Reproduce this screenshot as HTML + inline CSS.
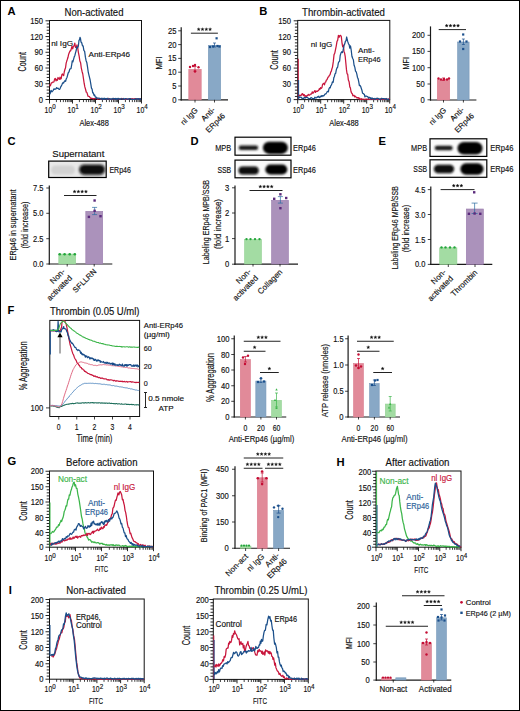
<!DOCTYPE html>
<html><head><meta charset="utf-8"><style>
html,body{margin:0;padding:0;background:#fff;}
svg{display:block;}
text{font-family:"Liberation Sans", sans-serif;}
</style></head><body>
<svg width="520" height="711" viewBox="0 0 520 711">
<defs><filter id="bl" x="-30%" y="-60%" width="160%" height="220%"><feGaussianBlur stdDeviation="0.9"/></filter></defs>
<rect x="0" y="0" width="520" height="711" fill="#fff"/>
<text x="7.5" y="14.9" font-size="11.2" text-anchor="start" fill="#000" font-weight="bold">A</text>
<text x="64.5" y="15.8" font-size="10.3" text-anchor="start" fill="#111" stroke="#111" stroke-width="0.15" textLength="59" lengthAdjust="spacingAndGlyphs">Non-activated</text>
<rect x="49.5" y="20.5" width="92" height="79" fill="none" stroke="#111" stroke-width="1"/>
<line x1="45.5" y1="20.8" x2="49.5" y2="20.8" stroke="#111" stroke-width="0.9"/>
<text x="42.9" y="23.85" font-size="8.2" text-anchor="end" fill="#111" stroke="#111" stroke-width="0.15" textLength="12.75" lengthAdjust="spacingAndGlyphs">150</text>
<line x1="46.7" y1="23.95" x2="49.5" y2="23.95" stroke="#111" stroke-width="0.9"/>
<line x1="46.7" y1="27.1" x2="49.5" y2="27.1" stroke="#111" stroke-width="0.9"/>
<line x1="46.7" y1="30.24" x2="49.5" y2="30.24" stroke="#111" stroke-width="0.9"/>
<line x1="46.7" y1="33.39" x2="49.5" y2="33.39" stroke="#111" stroke-width="0.9"/>
<line x1="45.5" y1="36.54" x2="49.5" y2="36.54" stroke="#111" stroke-width="0.9"/>
<text x="42.9" y="39.59" font-size="8.2" text-anchor="end" fill="#111" stroke="#111" stroke-width="0.15" textLength="12.75" lengthAdjust="spacingAndGlyphs">120</text>
<line x1="46.7" y1="39.69" x2="49.5" y2="39.69" stroke="#111" stroke-width="0.9"/>
<line x1="46.7" y1="42.84" x2="49.5" y2="42.84" stroke="#111" stroke-width="0.9"/>
<line x1="46.7" y1="45.98" x2="49.5" y2="45.98" stroke="#111" stroke-width="0.9"/>
<line x1="46.7" y1="49.13" x2="49.5" y2="49.13" stroke="#111" stroke-width="0.9"/>
<line x1="45.5" y1="52.28" x2="49.5" y2="52.28" stroke="#111" stroke-width="0.9"/>
<text x="42.9" y="55.33" font-size="8.2" text-anchor="end" fill="#111" stroke="#111" stroke-width="0.15" textLength="8.5" lengthAdjust="spacingAndGlyphs">90</text>
<line x1="46.7" y1="55.43" x2="49.5" y2="55.43" stroke="#111" stroke-width="0.9"/>
<line x1="46.7" y1="58.58" x2="49.5" y2="58.58" stroke="#111" stroke-width="0.9"/>
<line x1="46.7" y1="61.72" x2="49.5" y2="61.72" stroke="#111" stroke-width="0.9"/>
<line x1="46.7" y1="64.87" x2="49.5" y2="64.87" stroke="#111" stroke-width="0.9"/>
<line x1="45.5" y1="68.02" x2="49.5" y2="68.02" stroke="#111" stroke-width="0.9"/>
<text x="42.9" y="71.07" font-size="8.2" text-anchor="end" fill="#111" stroke="#111" stroke-width="0.15" textLength="8.5" lengthAdjust="spacingAndGlyphs">60</text>
<line x1="46.7" y1="71.17" x2="49.5" y2="71.17" stroke="#111" stroke-width="0.9"/>
<line x1="46.7" y1="74.32" x2="49.5" y2="74.32" stroke="#111" stroke-width="0.9"/>
<line x1="46.7" y1="77.46" x2="49.5" y2="77.46" stroke="#111" stroke-width="0.9"/>
<line x1="46.7" y1="80.61" x2="49.5" y2="80.61" stroke="#111" stroke-width="0.9"/>
<line x1="45.5" y1="83.76" x2="49.5" y2="83.76" stroke="#111" stroke-width="0.9"/>
<text x="42.9" y="86.81" font-size="8.2" text-anchor="end" fill="#111" stroke="#111" stroke-width="0.15" textLength="8.5" lengthAdjust="spacingAndGlyphs">30</text>
<line x1="46.7" y1="86.91" x2="49.5" y2="86.91" stroke="#111" stroke-width="0.9"/>
<line x1="46.7" y1="90.06" x2="49.5" y2="90.06" stroke="#111" stroke-width="0.9"/>
<line x1="46.7" y1="93.2" x2="49.5" y2="93.2" stroke="#111" stroke-width="0.9"/>
<line x1="46.7" y1="96.35" x2="49.5" y2="96.35" stroke="#111" stroke-width="0.9"/>
<line x1="45.5" y1="99.5" x2="49.5" y2="99.5" stroke="#111" stroke-width="0.9"/>
<text x="42.9" y="102.55" font-size="8.2" text-anchor="end" fill="#111" stroke="#111" stroke-width="0.15" textLength="4.25" lengthAdjust="spacingAndGlyphs">0</text>
<line x1="49.5" y1="99.5" x2="49.5" y2="103.5" stroke="#111" stroke-width="0.9"/>
<line x1="56.42" y1="99.5" x2="56.42" y2="102.1" stroke="#111" stroke-width="0.8"/>
<line x1="60.47" y1="99.5" x2="60.47" y2="102.1" stroke="#111" stroke-width="0.8"/>
<line x1="63.35" y1="99.5" x2="63.35" y2="102.1" stroke="#111" stroke-width="0.8"/>
<line x1="65.58" y1="99.5" x2="65.58" y2="102.1" stroke="#111" stroke-width="0.8"/>
<line x1="67.4" y1="99.5" x2="67.4" y2="102.1" stroke="#111" stroke-width="0.8"/>
<line x1="68.94" y1="99.5" x2="68.94" y2="102.1" stroke="#111" stroke-width="0.8"/>
<line x1="70.27" y1="99.5" x2="70.27" y2="102.1" stroke="#111" stroke-width="0.8"/>
<line x1="71.45" y1="99.5" x2="71.45" y2="102.1" stroke="#111" stroke-width="0.8"/>
<line x1="72.5" y1="99.5" x2="72.5" y2="103.5" stroke="#111" stroke-width="0.9"/>
<line x1="79.42" y1="99.5" x2="79.42" y2="102.1" stroke="#111" stroke-width="0.8"/>
<line x1="83.47" y1="99.5" x2="83.47" y2="102.1" stroke="#111" stroke-width="0.8"/>
<line x1="86.35" y1="99.5" x2="86.35" y2="102.1" stroke="#111" stroke-width="0.8"/>
<line x1="88.58" y1="99.5" x2="88.58" y2="102.1" stroke="#111" stroke-width="0.8"/>
<line x1="90.4" y1="99.5" x2="90.4" y2="102.1" stroke="#111" stroke-width="0.8"/>
<line x1="91.94" y1="99.5" x2="91.94" y2="102.1" stroke="#111" stroke-width="0.8"/>
<line x1="93.27" y1="99.5" x2="93.27" y2="102.1" stroke="#111" stroke-width="0.8"/>
<line x1="94.45" y1="99.5" x2="94.45" y2="102.1" stroke="#111" stroke-width="0.8"/>
<line x1="95.5" y1="99.5" x2="95.5" y2="103.5" stroke="#111" stroke-width="0.9"/>
<line x1="102.42" y1="99.5" x2="102.42" y2="102.1" stroke="#111" stroke-width="0.8"/>
<line x1="106.47" y1="99.5" x2="106.47" y2="102.1" stroke="#111" stroke-width="0.8"/>
<line x1="109.35" y1="99.5" x2="109.35" y2="102.1" stroke="#111" stroke-width="0.8"/>
<line x1="111.58" y1="99.5" x2="111.58" y2="102.1" stroke="#111" stroke-width="0.8"/>
<line x1="113.4" y1="99.5" x2="113.4" y2="102.1" stroke="#111" stroke-width="0.8"/>
<line x1="114.94" y1="99.5" x2="114.94" y2="102.1" stroke="#111" stroke-width="0.8"/>
<line x1="116.27" y1="99.5" x2="116.27" y2="102.1" stroke="#111" stroke-width="0.8"/>
<line x1="117.45" y1="99.5" x2="117.45" y2="102.1" stroke="#111" stroke-width="0.8"/>
<line x1="118.5" y1="99.5" x2="118.5" y2="103.5" stroke="#111" stroke-width="0.9"/>
<line x1="125.42" y1="99.5" x2="125.42" y2="102.1" stroke="#111" stroke-width="0.8"/>
<line x1="129.47" y1="99.5" x2="129.47" y2="102.1" stroke="#111" stroke-width="0.8"/>
<line x1="132.35" y1="99.5" x2="132.35" y2="102.1" stroke="#111" stroke-width="0.8"/>
<line x1="134.58" y1="99.5" x2="134.58" y2="102.1" stroke="#111" stroke-width="0.8"/>
<line x1="136.4" y1="99.5" x2="136.4" y2="102.1" stroke="#111" stroke-width="0.8"/>
<line x1="137.94" y1="99.5" x2="137.94" y2="102.1" stroke="#111" stroke-width="0.8"/>
<line x1="139.27" y1="99.5" x2="139.27" y2="102.1" stroke="#111" stroke-width="0.8"/>
<line x1="140.45" y1="99.5" x2="140.45" y2="102.1" stroke="#111" stroke-width="0.8"/>
<line x1="141.5" y1="99.5" x2="141.5" y2="103.5" stroke="#111" stroke-width="0.9"/>
<text x="44.6" y="112.5" font-size="8.2" text-anchor="start" fill="#111" stroke="#111" stroke-width="0.15" textLength="7.6" lengthAdjust="spacingAndGlyphs">10</text>
<text x="52.3" y="109.4" font-size="6.3" text-anchor="start" fill="#111" stroke="#111" stroke-width="0.15" textLength="3.5" lengthAdjust="spacingAndGlyphs">0</text>
<text x="67.6" y="112.5" font-size="8.2" text-anchor="start" fill="#111" stroke="#111" stroke-width="0.15" textLength="7.6" lengthAdjust="spacingAndGlyphs">10</text>
<text x="75.3" y="109.4" font-size="6.3" text-anchor="start" fill="#111" stroke="#111" stroke-width="0.15" textLength="3.5" lengthAdjust="spacingAndGlyphs">1</text>
<text x="90.6" y="112.5" font-size="8.2" text-anchor="start" fill="#111" stroke="#111" stroke-width="0.15" textLength="7.6" lengthAdjust="spacingAndGlyphs">10</text>
<text x="98.3" y="109.4" font-size="6.3" text-anchor="start" fill="#111" stroke="#111" stroke-width="0.15" textLength="3.5" lengthAdjust="spacingAndGlyphs">2</text>
<text x="113.6" y="112.5" font-size="8.2" text-anchor="start" fill="#111" stroke="#111" stroke-width="0.15" textLength="7.6" lengthAdjust="spacingAndGlyphs">10</text>
<text x="121.3" y="109.4" font-size="6.3" text-anchor="start" fill="#111" stroke="#111" stroke-width="0.15" textLength="3.5" lengthAdjust="spacingAndGlyphs">3</text>
<text x="136.6" y="112.5" font-size="8.2" text-anchor="start" fill="#111" stroke="#111" stroke-width="0.15" textLength="7.6" lengthAdjust="spacingAndGlyphs">10</text>
<text x="144.3" y="109.4" font-size="6.3" text-anchor="start" fill="#111" stroke="#111" stroke-width="0.15" textLength="3.5" lengthAdjust="spacingAndGlyphs">4</text>
<text x="26.3" y="61.75" font-size="10" text-anchor="middle" fill="#111" stroke="#111" stroke-width="0.15" transform="rotate(-90 26.3 61.75)" textLength="19.7" lengthAdjust="spacingAndGlyphs">Count</text>
<text x="94.2" y="125.5" font-size="8.8" text-anchor="middle" fill="#111" stroke="#111" stroke-width="0.15" textLength="29.4" lengthAdjust="spacingAndGlyphs">Alex-488</text>
<polyline points="49.8,84.06 50.17,85.9 50.66,85.11 51.25,82.84 51.9,82.9 52.59,82.03 53.29,82.02 53.97,81.87 54.6,79.01 55.29,78.38 55.97,80.92 56.66,79.35 57.34,80.35 58.03,77.5 58.71,78.76 59.4,79.28 60.01,77.06 60.62,79.15 61.24,78.49 61.86,74.72 62.47,73.99 63.07,75.07 63.65,75.58 64.2,72.24 64.89,69.48 65.54,67.71 66.16,63.18 66.76,61.07 67.37,59.31 68,57.28 68.66,54.18 69.33,52.48 70.01,50.94 70.67,50.77 71.31,48.76 71.9,46.35 72.7,48.89 73.41,46.25 74.1,45.84 74.8,43.21 75.52,47.47 76.25,47.43 76.97,44.92 77.7,47.88 78.42,52.58 79.15,56.11 79.87,61.06 80.6,62.66 81.33,68.21 82.06,71.47 82.78,74 83.5,78.81 84.18,83.47 84.84,86.92 85.53,89.24 86.3,92.23 86.85,92.34 87.41,94.07 88,96.25 88.64,96.26 89.37,96.49 90.2,97.79 90.69,98.32 91.18,98.48 91.68,98.16 92.2,98.38 92.75,98.57 93.33,99.04 93.95,98.69 94.62,98.53 95.35,98.7 96.14,98.05 97,98.13 97.47,99.12 97.92,99.3 98.37,99.01 98.82,98.74 99.28,98.44 99.74,98.93 100.21,99.3 100.69,99.3 101.19,99 101.72,99.3 102.27,98.58 102.84,98.98 103.46,99.3 104.1,99.07 104.79,98.91 105.53,98.65 106.31,99.04 107.14,99.3 108.03,98.3 108.99,99.3 110,99.3 110.44,99.3 110.91,99.3 111.41,99.3 111.92,99.04 112.46,99.1 113.01,98.92 113.59,98.42 114.18,99.3 114.79,99.13 115.42,98.64 116.06,99.05 116.71,99.03 117.38,98.86 118.06,98.85 118.75,99.12 119.44,99.23 120.15,99.22 120.86,99.02 121.58,98.45 122.3,98.73 123.03,98.66 123.76,99.21 124.49,99.3 125.22,99.3 125.95,99.3 126.68,99.3 127.4,98.8 128.12,99.3 128.84,99.3 129.55,98.59 130.25,98.51 130.94,98.51 131.62,99.3 132.3,98.82 132.96,98.65 133.6,99.3 134.24,98.96 134.86,98.61 135.46,98.73 136.04,99.21 136.61,98.75 137.15,98.89 137.68,99.3 138.18,99.13 138.66,98.96 139.12,99.16 139.55,98.59 139.95,99.05 140.33,99.1 140.68,98.81 141,98.71" fill="none" stroke="#c8163c" stroke-width="1.25" stroke-linejoin="round" opacity="1"/>
<polyline points="49.8,94.02 50.17,93.69 50.66,91.01 51.25,90.53 51.9,91.9 52.59,91.06 53.29,90.33 53.97,88.84 54.6,89.3 55.29,89.05 55.97,88.87 56.66,87.64 57.34,88.41 58.03,88.24 58.71,89 59.4,89.43 60,88.86 60.6,87.13 61.2,86.21 61.8,84.98 62.4,83.48 63,82.6 63.6,83.12 64.2,81.7 64.89,80.75 65.6,81.28 66.3,78.7 67.01,77.44 67.69,74.79 68.36,72.46 69,72.02 69.7,69.34 70.37,68.79 71.01,68.71 71.64,65.22 72.27,60.93 72.9,61.95 73.56,59.39 74.23,56.87 74.9,55.45 75.55,52.63 76.15,50.81 76.7,46.97 77.63,47.73 78.39,46.02 79,40.25 79.58,39.73 80,37.36 80.47,38.42 81,42.16 81.63,42.49 82.5,45.97 83.13,45.93 83.86,50.38 84.64,51.3 85.4,57.18 86.1,60.7 86.79,62.46 87.51,66.88 88.3,72.47 88.88,74.78 89.5,77.33 90.14,80 90.79,83.83 91.45,88.07 92.1,89.09 92.73,92.93 93.36,92.78 93.99,95.36 94.63,94.87 95.3,96.94 96,97.1 96.33,97.25 96.27,97.69 96.14,98.22 96.22,98.34 96.82,98.07 98.25,98.08 100.8,98.72 101.15,99.3 101.52,98.92 101.92,98.13 102.33,99.24 102.77,99.12 103.23,99.3 103.71,98.37 104.21,99.19 104.73,98.21 105.27,99.08 105.82,98.55 106.39,98.5 106.98,99.3 107.58,98.35 108.19,98.95 108.82,99.3 109.46,98.59 110.12,98.55 110.78,99.3 111.46,98.87 112.14,99.28 112.83,98.35 113.54,98.81 114.24,98.56 114.96,99.25 115.68,98.46 116.41,99.3 117.14,98.4 117.87,99.3 118.61,98.41 119.35,98.73 120.09,99.3 120.83,98.61 121.57,98.66 122.31,99.3 123.05,98.94 123.78,98.49 124.52,99.3 125.25,98.64 125.97,98.5 126.69,98.91 127.4,99.27 128.11,99.3 128.81,98.62 129.5,98.91 130.18,98.52 130.85,99.07 131.51,99.3 132.15,99.3 132.79,99.3 133.41,99.3 134.02,99.3 134.62,99.3 135.2,99.12 135.76,98.81 136.31,99.3 136.84,98.93 137.35,98.66 137.84,99.11 138.31,99.3 138.76,98.71 139.19,99.29 139.6,99.05 139.99,99.21 140.35,98.75 140.69,99.3 141,98.9" fill="none" stroke="#1b4f8a" stroke-width="1.25" stroke-linejoin="round" opacity="1"/>
<text x="51.2" y="45.6" font-size="8" text-anchor="start" fill="#111" stroke="#111" stroke-width="0.15" textLength="21.9" lengthAdjust="spacingAndGlyphs">nl IgG</text>
<text x="88.5" y="56.8" font-size="8" text-anchor="start" fill="#111" stroke="#111" stroke-width="0.15" textLength="41.6" lengthAdjust="spacingAndGlyphs">Anti-ERp46</text>
<line x1="181.2" y1="27.3" x2="181.2" y2="100.4" stroke="#1a1a1a" stroke-width="1.2"/>
<line x1="180.6" y1="99.8" x2="228" y2="99.8" stroke="#1a1a1a" stroke-width="1.2"/>
<line x1="178.2" y1="99.8" x2="181.2" y2="99.8" stroke="#111" stroke-width="0.8"/>
<text x="176.5" y="102.85" font-size="8.2" text-anchor="end" fill="#111" stroke="#111" stroke-width="0.15" textLength="4.25" lengthAdjust="spacingAndGlyphs">0</text>
<line x1="178.2" y1="86" x2="181.2" y2="86" stroke="#111" stroke-width="0.8"/>
<text x="176.5" y="89.05" font-size="8.2" text-anchor="end" fill="#111" stroke="#111" stroke-width="0.15" textLength="4.25" lengthAdjust="spacingAndGlyphs">5</text>
<line x1="178.2" y1="72.2" x2="181.2" y2="72.2" stroke="#111" stroke-width="0.8"/>
<text x="176.5" y="75.25" font-size="8.2" text-anchor="end" fill="#111" stroke="#111" stroke-width="0.15" textLength="8.5" lengthAdjust="spacingAndGlyphs">10</text>
<line x1="178.2" y1="58.4" x2="181.2" y2="58.4" stroke="#111" stroke-width="0.8"/>
<text x="176.5" y="61.45" font-size="8.2" text-anchor="end" fill="#111" stroke="#111" stroke-width="0.15" textLength="8.5" lengthAdjust="spacingAndGlyphs">15</text>
<line x1="178.2" y1="44.6" x2="181.2" y2="44.6" stroke="#111" stroke-width="0.8"/>
<text x="176.5" y="47.65" font-size="8.2" text-anchor="end" fill="#111" stroke="#111" stroke-width="0.15" textLength="8.5" lengthAdjust="spacingAndGlyphs">20</text>
<line x1="178.2" y1="30.8" x2="181.2" y2="30.8" stroke="#111" stroke-width="0.8"/>
<text x="176.5" y="33.85" font-size="8.2" text-anchor="end" fill="#111" stroke="#111" stroke-width="0.15" textLength="8.5" lengthAdjust="spacingAndGlyphs">25</text>
<text x="161.9" y="63" font-size="8.5" text-anchor="middle" fill="#111" stroke="#111" stroke-width="0.15" transform="rotate(-90 161.9 63)" textLength="13" lengthAdjust="spacingAndGlyphs">MFI</text>
<rect x="188.8" y="69.3" width="12.4" height="30.5" fill="#e18a99" stroke="#d97a8c" stroke-width="0.6"/>
<rect x="208.3" y="45.3" width="12.4" height="54.5" fill="#88a8c6" stroke="#7898ba" stroke-width="0.6"/>
<line x1="195" y1="66.5" x2="195" y2="71" stroke="#c40c33" stroke-width="0.7"/>
<line x1="193.5" y1="66.5" x2="196.5" y2="66.5" stroke="#c40c33" stroke-width="0.7"/>
<line x1="193.5" y1="71" x2="196.5" y2="71" stroke="#c40c33" stroke-width="0.7"/>
<line x1="214.5" y1="43" x2="214.5" y2="47" stroke="#1a4f8c" stroke-width="0.7"/>
<line x1="213" y1="43" x2="216" y2="43" stroke="#1a4f8c" stroke-width="0.7"/>
<line x1="213" y1="47" x2="216" y2="47" stroke="#1a4f8c" stroke-width="0.7"/>
<circle cx="190" cy="67" r="1.2" fill="#c40c33"/>
<circle cx="193" cy="66" r="1.2" fill="#c40c33"/>
<circle cx="195" cy="65" r="1.2" fill="#c40c33"/>
<circle cx="198.5" cy="67.2" r="1.2" fill="#c40c33"/>
<circle cx="195" cy="71.5" r="1.2" fill="#c40c33"/>
<rect x="208.9" y="45.9" width="2.2" height="2.2" fill="#1a4f8c"/>
<rect x="211.9" y="45.4" width="2.2" height="2.2" fill="#1a4f8c"/>
<rect x="215.5" y="37.2" width="2.2" height="2.2" fill="#1a4f8c"/>
<rect x="216.4" y="44.9" width="2.2" height="2.2" fill="#1a4f8c"/>
<rect x="218.4" y="45.4" width="2.2" height="2.2" fill="#1a4f8c"/>
<line x1="190.9" y1="33.2" x2="217.9" y2="33.2" stroke="#222" stroke-width="1.0"/>
<polygon points="198.7,27.65 199.14,28.7 200.27,28.79 199.41,29.53 199.67,30.63 198.7,30.04 197.73,30.63 197.99,29.53 197.13,28.79 198.26,28.7" fill="#111" stroke="#111" stroke-width="0.3"/>
<polygon points="202.5,27.65 202.94,28.7 204.07,28.79 203.21,29.53 203.47,30.63 202.5,30.04 201.53,30.63 201.79,29.53 200.93,28.79 202.06,28.7" fill="#111" stroke="#111" stroke-width="0.3"/>
<polygon points="206.3,27.65 206.74,28.7 207.87,28.79 207.01,29.53 207.27,30.63 206.3,30.04 205.33,30.63 205.59,29.53 204.73,28.79 205.86,28.7" fill="#111" stroke="#111" stroke-width="0.3"/>
<polygon points="210.1,27.65 210.54,28.7 211.67,28.79 210.81,29.53 211.07,30.63 210.1,30.04 209.13,30.63 209.39,29.53 208.53,28.79 209.66,28.7" fill="#111" stroke="#111" stroke-width="0.3"/>
<line x1="195" y1="99.8" x2="195" y2="102.5" stroke="#111" stroke-width="0.8"/>
<line x1="214.5" y1="99.8" x2="214.5" y2="102.5" stroke="#111" stroke-width="0.8"/>
<text x="198.4" y="110.8" font-size="7.8" text-anchor="end" fill="#111" stroke="#111" stroke-width="0.15" transform="rotate(-45 198.4 110.8)">nl IgG</text>
<text x="215.6" y="110.3" font-size="7.8" text-anchor="end" fill="#111" stroke="#111" stroke-width="0.15" transform="rotate(-45 215.6 110.3)">Anti-</text>
<text x="225.6" y="116.4" font-size="7.8" text-anchor="end" fill="#111" stroke="#111" stroke-width="0.15" transform="rotate(-45 225.6 116.4)">ERp46</text>
<text x="259.2" y="15" font-size="11.2" text-anchor="start" fill="#000" font-weight="bold">B</text>
<text x="302" y="15.8" font-size="10.3" text-anchor="start" fill="#111" stroke="#111" stroke-width="0.15" textLength="83" lengthAdjust="spacingAndGlyphs">Thrombin-activated</text>
<rect x="297.7" y="20.4" width="92.1" height="79.2" fill="none" stroke="#111" stroke-width="1"/>
<line x1="293.7" y1="20.8" x2="297.7" y2="20.8" stroke="#111" stroke-width="0.9"/>
<text x="291" y="23.85" font-size="8.2" text-anchor="end" fill="#111" stroke="#111" stroke-width="0.15" textLength="12.75" lengthAdjust="spacingAndGlyphs">150</text>
<line x1="294.9" y1="23.95" x2="297.7" y2="23.95" stroke="#111" stroke-width="0.9"/>
<line x1="294.9" y1="27.1" x2="297.7" y2="27.1" stroke="#111" stroke-width="0.9"/>
<line x1="294.9" y1="30.26" x2="297.7" y2="30.26" stroke="#111" stroke-width="0.9"/>
<line x1="294.9" y1="33.41" x2="297.7" y2="33.41" stroke="#111" stroke-width="0.9"/>
<line x1="293.7" y1="36.56" x2="297.7" y2="36.56" stroke="#111" stroke-width="0.9"/>
<text x="291" y="39.61" font-size="8.2" text-anchor="end" fill="#111" stroke="#111" stroke-width="0.15" textLength="12.75" lengthAdjust="spacingAndGlyphs">120</text>
<line x1="294.9" y1="39.71" x2="297.7" y2="39.71" stroke="#111" stroke-width="0.9"/>
<line x1="294.9" y1="42.86" x2="297.7" y2="42.86" stroke="#111" stroke-width="0.9"/>
<line x1="294.9" y1="46.02" x2="297.7" y2="46.02" stroke="#111" stroke-width="0.9"/>
<line x1="294.9" y1="49.17" x2="297.7" y2="49.17" stroke="#111" stroke-width="0.9"/>
<line x1="293.7" y1="52.32" x2="297.7" y2="52.32" stroke="#111" stroke-width="0.9"/>
<text x="291" y="55.37" font-size="8.2" text-anchor="end" fill="#111" stroke="#111" stroke-width="0.15" textLength="8.5" lengthAdjust="spacingAndGlyphs">90</text>
<line x1="294.9" y1="55.47" x2="297.7" y2="55.47" stroke="#111" stroke-width="0.9"/>
<line x1="294.9" y1="58.62" x2="297.7" y2="58.62" stroke="#111" stroke-width="0.9"/>
<line x1="294.9" y1="61.78" x2="297.7" y2="61.78" stroke="#111" stroke-width="0.9"/>
<line x1="294.9" y1="64.93" x2="297.7" y2="64.93" stroke="#111" stroke-width="0.9"/>
<line x1="293.7" y1="68.08" x2="297.7" y2="68.08" stroke="#111" stroke-width="0.9"/>
<text x="291" y="71.13" font-size="8.2" text-anchor="end" fill="#111" stroke="#111" stroke-width="0.15" textLength="8.5" lengthAdjust="spacingAndGlyphs">60</text>
<line x1="294.9" y1="71.23" x2="297.7" y2="71.23" stroke="#111" stroke-width="0.9"/>
<line x1="294.9" y1="74.38" x2="297.7" y2="74.38" stroke="#111" stroke-width="0.9"/>
<line x1="294.9" y1="77.54" x2="297.7" y2="77.54" stroke="#111" stroke-width="0.9"/>
<line x1="294.9" y1="80.69" x2="297.7" y2="80.69" stroke="#111" stroke-width="0.9"/>
<line x1="293.7" y1="83.84" x2="297.7" y2="83.84" stroke="#111" stroke-width="0.9"/>
<text x="291" y="86.89" font-size="8.2" text-anchor="end" fill="#111" stroke="#111" stroke-width="0.15" textLength="8.5" lengthAdjust="spacingAndGlyphs">30</text>
<line x1="294.9" y1="86.99" x2="297.7" y2="86.99" stroke="#111" stroke-width="0.9"/>
<line x1="294.9" y1="90.14" x2="297.7" y2="90.14" stroke="#111" stroke-width="0.9"/>
<line x1="294.9" y1="93.3" x2="297.7" y2="93.3" stroke="#111" stroke-width="0.9"/>
<line x1="294.9" y1="96.45" x2="297.7" y2="96.45" stroke="#111" stroke-width="0.9"/>
<line x1="293.7" y1="99.6" x2="297.7" y2="99.6" stroke="#111" stroke-width="0.9"/>
<text x="291" y="102.65" font-size="8.2" text-anchor="end" fill="#111" stroke="#111" stroke-width="0.15" textLength="4.25" lengthAdjust="spacingAndGlyphs">0</text>
<line x1="297.7" y1="99.6" x2="297.7" y2="103.6" stroke="#111" stroke-width="0.9"/>
<line x1="304.62" y1="99.6" x2="304.62" y2="102.2" stroke="#111" stroke-width="0.8"/>
<line x1="308.67" y1="99.6" x2="308.67" y2="102.2" stroke="#111" stroke-width="0.8"/>
<line x1="311.55" y1="99.6" x2="311.55" y2="102.2" stroke="#111" stroke-width="0.8"/>
<line x1="313.78" y1="99.6" x2="313.78" y2="102.2" stroke="#111" stroke-width="0.8"/>
<line x1="315.6" y1="99.6" x2="315.6" y2="102.2" stroke="#111" stroke-width="0.8"/>
<line x1="317.14" y1="99.6" x2="317.14" y2="102.2" stroke="#111" stroke-width="0.8"/>
<line x1="318.47" y1="99.6" x2="318.47" y2="102.2" stroke="#111" stroke-width="0.8"/>
<line x1="319.65" y1="99.6" x2="319.65" y2="102.2" stroke="#111" stroke-width="0.8"/>
<line x1="320.7" y1="99.6" x2="320.7" y2="103.6" stroke="#111" stroke-width="0.9"/>
<line x1="327.62" y1="99.6" x2="327.62" y2="102.2" stroke="#111" stroke-width="0.8"/>
<line x1="331.67" y1="99.6" x2="331.67" y2="102.2" stroke="#111" stroke-width="0.8"/>
<line x1="334.55" y1="99.6" x2="334.55" y2="102.2" stroke="#111" stroke-width="0.8"/>
<line x1="336.78" y1="99.6" x2="336.78" y2="102.2" stroke="#111" stroke-width="0.8"/>
<line x1="338.6" y1="99.6" x2="338.6" y2="102.2" stroke="#111" stroke-width="0.8"/>
<line x1="340.14" y1="99.6" x2="340.14" y2="102.2" stroke="#111" stroke-width="0.8"/>
<line x1="341.47" y1="99.6" x2="341.47" y2="102.2" stroke="#111" stroke-width="0.8"/>
<line x1="342.65" y1="99.6" x2="342.65" y2="102.2" stroke="#111" stroke-width="0.8"/>
<line x1="343.7" y1="99.6" x2="343.7" y2="103.6" stroke="#111" stroke-width="0.9"/>
<line x1="350.62" y1="99.6" x2="350.62" y2="102.2" stroke="#111" stroke-width="0.8"/>
<line x1="354.67" y1="99.6" x2="354.67" y2="102.2" stroke="#111" stroke-width="0.8"/>
<line x1="357.55" y1="99.6" x2="357.55" y2="102.2" stroke="#111" stroke-width="0.8"/>
<line x1="359.78" y1="99.6" x2="359.78" y2="102.2" stroke="#111" stroke-width="0.8"/>
<line x1="361.6" y1="99.6" x2="361.6" y2="102.2" stroke="#111" stroke-width="0.8"/>
<line x1="363.14" y1="99.6" x2="363.14" y2="102.2" stroke="#111" stroke-width="0.8"/>
<line x1="364.47" y1="99.6" x2="364.47" y2="102.2" stroke="#111" stroke-width="0.8"/>
<line x1="365.65" y1="99.6" x2="365.65" y2="102.2" stroke="#111" stroke-width="0.8"/>
<line x1="366.7" y1="99.6" x2="366.7" y2="103.6" stroke="#111" stroke-width="0.9"/>
<line x1="373.62" y1="99.6" x2="373.62" y2="102.2" stroke="#111" stroke-width="0.8"/>
<line x1="377.67" y1="99.6" x2="377.67" y2="102.2" stroke="#111" stroke-width="0.8"/>
<line x1="380.55" y1="99.6" x2="380.55" y2="102.2" stroke="#111" stroke-width="0.8"/>
<line x1="382.78" y1="99.6" x2="382.78" y2="102.2" stroke="#111" stroke-width="0.8"/>
<line x1="384.6" y1="99.6" x2="384.6" y2="102.2" stroke="#111" stroke-width="0.8"/>
<line x1="386.14" y1="99.6" x2="386.14" y2="102.2" stroke="#111" stroke-width="0.8"/>
<line x1="387.47" y1="99.6" x2="387.47" y2="102.2" stroke="#111" stroke-width="0.8"/>
<line x1="388.65" y1="99.6" x2="388.65" y2="102.2" stroke="#111" stroke-width="0.8"/>
<line x1="389.7" y1="99.6" x2="389.7" y2="103.6" stroke="#111" stroke-width="0.9"/>
<text x="292.8" y="112.5" font-size="8.2" text-anchor="start" fill="#111" stroke="#111" stroke-width="0.15" textLength="7.6" lengthAdjust="spacingAndGlyphs">10</text>
<text x="300.5" y="109.4" font-size="6.3" text-anchor="start" fill="#111" stroke="#111" stroke-width="0.15" textLength="3.5" lengthAdjust="spacingAndGlyphs">0</text>
<text x="315.8" y="112.5" font-size="8.2" text-anchor="start" fill="#111" stroke="#111" stroke-width="0.15" textLength="7.6" lengthAdjust="spacingAndGlyphs">10</text>
<text x="323.5" y="109.4" font-size="6.3" text-anchor="start" fill="#111" stroke="#111" stroke-width="0.15" textLength="3.5" lengthAdjust="spacingAndGlyphs">1</text>
<text x="338.8" y="112.5" font-size="8.2" text-anchor="start" fill="#111" stroke="#111" stroke-width="0.15" textLength="7.6" lengthAdjust="spacingAndGlyphs">10</text>
<text x="346.5" y="109.4" font-size="6.3" text-anchor="start" fill="#111" stroke="#111" stroke-width="0.15" textLength="3.5" lengthAdjust="spacingAndGlyphs">2</text>
<text x="361.8" y="112.5" font-size="8.2" text-anchor="start" fill="#111" stroke="#111" stroke-width="0.15" textLength="7.6" lengthAdjust="spacingAndGlyphs">10</text>
<text x="369.5" y="109.4" font-size="6.3" text-anchor="start" fill="#111" stroke="#111" stroke-width="0.15" textLength="3.5" lengthAdjust="spacingAndGlyphs">3</text>
<text x="384.8" y="112.5" font-size="8.2" text-anchor="start" fill="#111" stroke="#111" stroke-width="0.15" textLength="7.6" lengthAdjust="spacingAndGlyphs">10</text>
<text x="392.5" y="109.4" font-size="6.3" text-anchor="start" fill="#111" stroke="#111" stroke-width="0.15" textLength="3.5" lengthAdjust="spacingAndGlyphs">4</text>
<text x="277.5" y="60" font-size="10" text-anchor="middle" fill="#111" stroke="#111" stroke-width="0.15" transform="rotate(-90 277.5 60)" textLength="19.7" lengthAdjust="spacingAndGlyphs">Count</text>
<text x="344" y="126" font-size="8.8" text-anchor="middle" fill="#111" stroke="#111" stroke-width="0.15" textLength="29.4" lengthAdjust="spacingAndGlyphs">Alex-488</text>
<line x1="298.3" y1="58.8" x2="298.3" y2="99.5" stroke="#c8163c" stroke-width="1.0"/>
<line x1="298.6" y1="80" x2="298.6" y2="99.5" stroke="#1b4f8a" stroke-width="1.0"/>
<polyline points="298.8,95.25 299.23,95.76 299.81,95.19 300.51,95.46 301.26,95.3 302.01,93.89 302.7,93.71 303.32,95.65 303.9,94.6 304.48,94.85 305.09,96.73 305.75,95.77 306.5,96.51 307.06,95.6 307.66,95.72 308.29,94.35 308.95,95.08 309.62,95.24 310.3,94.07 310.98,94.19 311.65,93.66 312.3,91.83 312.94,93.24 313.57,92.54 314.2,91.53 314.83,90.56 315.47,92.44 316.1,91.11 316.73,91.42 317.36,91.47 318,90.59 318.64,90.66 319.3,88.65 319.96,89.22 320.62,87.56 321.28,88.36 321.93,87.53 322.57,84.43 323.19,83.8 323.8,83.3 324.46,84.86 325.11,82.29 325.75,82.04 326.38,80.03 326.98,79.77 327.57,78.33 328.15,77.12 328.7,76.81 329.41,75.19 330.08,74.72 330.72,72.07 331.34,71.14 331.93,68.77 332.5,67.09 333.3,61.64 334.04,54.62 334.74,53.29 335.4,50.01 336.22,46.05 336.97,41.58 337.7,40.13 338.41,35.44 339.09,37.3 339.8,35.6 340.54,35.32 341.31,36.61 342.1,43.73 342.73,46.86 343.38,45.11 344.01,51.69 344.6,53.08 345.23,56.66 345.79,62.52 346.5,69.89 347.06,73.72 347.69,74.3 348.37,80.1 349.08,81.7 349.8,86.86 350.38,87.84 350.95,91.26 351.54,93.14 352.17,93.4 352.88,95.8 353.7,95.4 354.2,95.47 354.74,96.96 355.3,96.25 355.89,96.89 356.51,97.54 357.14,98.11 357.78,97.52 358.43,97.51 359.09,99 359.75,98.26 360.4,99.4 360.96,99.4 361.45,98.75 361.91,98.94 362.35,99.08 362.8,99.29 363.27,99.25 363.8,99.21 364.4,99.31 365.1,99.4 365.92,99.17 366.88,99.08 368,99.4 368.44,98.86 368.91,98.96 369.42,99.4 369.96,99.26 370.53,99.31 371.13,98.63 371.75,99.15 372.4,99.37 373.07,98.67 373.76,99.4 374.46,99.4 375.17,98.75 375.9,99.4 376.63,99.27 377.37,99.4 378.11,99.14 378.85,99.4 379.59,99.4 380.33,98.76 381.06,98.81 381.78,99.4 382.49,99.4 383.18,99.06 383.86,99.31 384.52,99.4 385.16,99.16 385.77,99.22 386.35,99.16 386.91,99.23 387.44,99.4 387.93,99.16 388.38,99.25 388.8,99.4 389.17,98.87 389.5,99.4" fill="none" stroke="#c8163c" stroke-width="1.25" stroke-linejoin="round" opacity="1"/>
<polyline points="298.8,97.23 299.17,97.01 299.64,97.55 300.18,97.15 300.8,97.02 301.46,97.65 302.17,98.58 302.9,98.41 303.65,98.37 304.39,97.46 305.13,98.03 305.83,97.6 306.5,97.44 307.14,97.34 307.78,97.55 308.43,98.8 309.07,98.66 309.71,98.65 310.35,98.66 310.99,97.66 311.63,97.86 312.27,98.38 312.92,98.52 313.56,98.68 314.2,98.65 314.85,97.18 315.51,97.97 316.17,97.95 316.84,97.5 317.5,96.73 318.17,97.09 318.83,96.16 319.47,97.59 320.11,97.25 320.73,96.39 321.32,95.64 321.9,96.66 322.63,95.63 323.34,96 324.01,95.61 324.66,94.52 325.3,93.92 325.91,93.92 326.51,93.02 327.11,91.75 327.7,91.4 328.35,91.81 328.99,88.69 329.62,87.51 330.23,87.95 330.82,85.62 331.39,85.08 331.95,83.54 332.5,81.78 333.19,82.22 333.84,77.6 334.46,76.48 335.06,73.74 335.67,73.37 336.3,69.91 336.96,68.01 337.63,67.27 338.31,63.04 338.97,61.7 339.61,61.06 340.2,55.47 341.01,52.89 341.75,51.74 342.44,52.6 343.1,50.16 343.93,45.88 344.69,44.03 345.4,41.24 346.04,40.78 346.64,37 347.3,40.04 347.87,41.92 348.49,43.8 349.13,44.72 349.8,48.11 350.48,45.87 351.19,49.99 351.92,56.24 352.7,58.56 353.37,59.79 354.07,65.28 354.79,67.14 355.51,71.08 356.2,71.9 356.85,74.13 357.47,77.47 358.08,78.66 358.72,81.69 359.4,85.67 360,85.46 360.61,86.32 361.25,88.21 361.91,90.22 362.59,93.26 363.3,93.48 363.84,94.11 364.37,94.37 364.91,96.82 365.46,96.13 366.05,96.13 366.68,96.22 367.36,96.57 368.1,97.11 368.62,98.19 369.15,97.44 369.69,97.39 370.24,98.25 370.81,97.94 371.41,99.22 372.04,97.86 372.7,98.56 373.41,98.98 374.15,98.45 374.95,99.4 375.8,98.67 376.3,98.34 376.85,98.63 377.44,98.1 378.07,98.71 378.73,98.49 379.41,99.4 380.1,99.4 380.82,98.94 381.54,98.29 382.26,98.64 382.98,98.65 383.69,98.62 384.39,98.68 385.07,99.4 385.73,98.6 386.36,98.5 386.95,99.4 387.5,99.23 388.01,99.4 388.46,99.05 388.86,99.4 389.2,99.4" fill="none" stroke="#1b4f8a" stroke-width="1.25" stroke-linejoin="round" opacity="1"/>
<text x="310.8" y="47.4" font-size="8" text-anchor="start" fill="#111" stroke="#111" stroke-width="0.15" textLength="21.6" lengthAdjust="spacingAndGlyphs">nl IgG</text>
<text x="358.1" y="52.8" font-size="8" text-anchor="start" fill="#111" stroke="#111" stroke-width="0.15">Anti-</text>
<text x="358.1" y="61.7" font-size="8" text-anchor="start" fill="#111" stroke="#111" stroke-width="0.15" textLength="22.6" lengthAdjust="spacingAndGlyphs">ERp46</text>
<line x1="430.5" y1="26.4" x2="430.5" y2="100.6" stroke="#1a1a1a" stroke-width="1.2"/>
<line x1="429.9" y1="100" x2="476.4" y2="100" stroke="#1a1a1a" stroke-width="1.2"/>
<line x1="427.5" y1="99.8" x2="430.5" y2="99.8" stroke="#111" stroke-width="0.8"/>
<text x="424.8" y="102.85" font-size="8.2" text-anchor="end" fill="#111" stroke="#111" stroke-width="0.15" textLength="4.25" lengthAdjust="spacingAndGlyphs">0</text>
<line x1="427.5" y1="84" x2="430.5" y2="84" stroke="#111" stroke-width="0.8"/>
<text x="424.8" y="87.05" font-size="8.2" text-anchor="end" fill="#111" stroke="#111" stroke-width="0.15" textLength="8.5" lengthAdjust="spacingAndGlyphs">50</text>
<line x1="427.5" y1="67.7" x2="430.5" y2="67.7" stroke="#111" stroke-width="0.8"/>
<text x="424.8" y="70.75" font-size="8.2" text-anchor="end" fill="#111" stroke="#111" stroke-width="0.15" textLength="12.75" lengthAdjust="spacingAndGlyphs">100</text>
<line x1="427.5" y1="51.4" x2="430.5" y2="51.4" stroke="#111" stroke-width="0.8"/>
<text x="424.8" y="54.45" font-size="8.2" text-anchor="end" fill="#111" stroke="#111" stroke-width="0.15" textLength="12.75" lengthAdjust="spacingAndGlyphs">150</text>
<line x1="427.5" y1="35.3" x2="430.5" y2="35.3" stroke="#111" stroke-width="0.8"/>
<text x="424.8" y="38.35" font-size="8.2" text-anchor="end" fill="#111" stroke="#111" stroke-width="0.15" textLength="12.75" lengthAdjust="spacingAndGlyphs">200</text>
<text x="408.8" y="63.2" font-size="8.7" text-anchor="middle" fill="#111" stroke="#111" stroke-width="0.15" transform="rotate(-90 408.8 63.2)" textLength="12.4" lengthAdjust="spacingAndGlyphs">MFI</text>
<rect x="437.3" y="79.7" width="12.4" height="20.3" fill="#e18a99" stroke="#d97a8c" stroke-width="0.6"/>
<rect x="457.6" y="42" width="11.5" height="58" fill="#88a8c6" stroke="#7898ba" stroke-width="0.6"/>
<line x1="443.5" y1="78" x2="443.5" y2="80.5" stroke="#c40c33" stroke-width="0.7"/>
<line x1="442" y1="78" x2="445" y2="78" stroke="#c40c33" stroke-width="0.7"/>
<line x1="442" y1="80.5" x2="445" y2="80.5" stroke="#c40c33" stroke-width="0.7"/>
<line x1="463.4" y1="39" x2="463.4" y2="44.5" stroke="#1a4f8c" stroke-width="0.7"/>
<line x1="461.9" y1="39" x2="464.9" y2="39" stroke="#1a4f8c" stroke-width="0.7"/>
<line x1="461.9" y1="44.5" x2="464.9" y2="44.5" stroke="#1a4f8c" stroke-width="0.7"/>
<circle cx="438.5" cy="78.5" r="1.2" fill="#c40c33"/>
<circle cx="441" cy="79.5" r="1.2" fill="#c40c33"/>
<circle cx="444" cy="79" r="1.2" fill="#c40c33"/>
<circle cx="447" cy="79.5" r="1.2" fill="#c40c33"/>
<circle cx="449" cy="78.5" r="1.2" fill="#c40c33"/>
<rect x="462.1" y="33.4" width="2.2" height="2.2" fill="#1a4f8c"/>
<rect x="458.9" y="40.4" width="2.2" height="2.2" fill="#1a4f8c"/>
<rect x="465.4" y="40.4" width="2.2" height="2.2" fill="#1a4f8c"/>
<rect x="462.1" y="47.9" width="2.2" height="2.2" fill="#1a4f8c"/>
<line x1="438.7" y1="29.6" x2="466" y2="29.6" stroke="#222" stroke-width="1.0"/>
<polygon points="446.65,24.05 447.09,25.1 448.22,25.19 447.36,25.93 447.62,27.03 446.65,26.44 445.68,27.03 445.94,25.93 445.08,25.19 446.21,25.1" fill="#111" stroke="#111" stroke-width="0.3"/>
<polygon points="450.45,24.05 450.89,25.1 452.02,25.19 451.16,25.93 451.42,27.03 450.45,26.44 449.48,27.03 449.74,25.93 448.88,25.19 450.01,25.1" fill="#111" stroke="#111" stroke-width="0.3"/>
<polygon points="454.25,24.05 454.69,25.1 455.82,25.19 454.96,25.93 455.22,27.03 454.25,26.44 453.28,27.03 453.54,25.93 452.68,25.19 453.81,25.1" fill="#111" stroke="#111" stroke-width="0.3"/>
<polygon points="458.05,24.05 458.49,25.1 459.62,25.19 458.76,25.93 459.02,27.03 458.05,26.44 457.08,27.03 457.34,25.93 456.48,25.19 457.61,25.1" fill="#111" stroke="#111" stroke-width="0.3"/>
<line x1="443.5" y1="100" x2="443.5" y2="102.5" stroke="#111" stroke-width="0.8"/>
<line x1="463.4" y1="100" x2="463.4" y2="102.5" stroke="#111" stroke-width="0.8"/>
<text x="446.9" y="110.8" font-size="7.8" text-anchor="end" fill="#111" stroke="#111" stroke-width="0.15" transform="rotate(-45 446.9 110.8)">nl IgG</text>
<text x="464.5" y="110.3" font-size="7.8" text-anchor="end" fill="#111" stroke="#111" stroke-width="0.15" transform="rotate(-45 464.5 110.3)">Anti-</text>
<text x="474.5" y="116.4" font-size="7.8" text-anchor="end" fill="#111" stroke="#111" stroke-width="0.15" transform="rotate(-45 474.5 116.4)">ERp46</text>
<text x="7.5" y="144.9" font-size="11.2" text-anchor="start" fill="#000" font-weight="bold">C</text>
<text x="52.3" y="157.4" font-size="9.5" text-anchor="start" fill="#111" stroke="#111" stroke-width="0.15" textLength="52" lengthAdjust="spacingAndGlyphs">Supernatant</text>
<rect x="48.7" y="161.1" width="57.5" height="16.4" fill="#e9e9e9"/>
<rect x="51" y="165.5" width="24" height="9" rx="4.5" fill="#d2d2d2" filter="url(#bl)"/>
<rect x="78" y="163.2" width="28" height="13" rx="6.5" fill="#b0b0b0" filter="url(#bl)"/>
<rect x="79.6" y="164.9" width="25" height="9.6" rx="4.8" fill="#111" filter="url(#bl)"/>
<rect x="48.7" y="161.1" width="57.5" height="16.4" fill="none" stroke="#000" stroke-width="1.2"/>
<text x="109.4" y="172.5" font-size="9" text-anchor="start" fill="#111" stroke="#111" stroke-width="0.15" textLength="21.5" lengthAdjust="spacingAndGlyphs">ERp46</text>
<line x1="49.3" y1="185.5" x2="49.3" y2="264.6" stroke="#1a1a1a" stroke-width="1.2"/>
<line x1="48.7" y1="264" x2="112.3" y2="264" stroke="#1a1a1a" stroke-width="1.2"/>
<line x1="46.3" y1="264" x2="49.3" y2="264" stroke="#111" stroke-width="0.8"/>
<text x="43.4" y="267.05" font-size="8.2" text-anchor="end" fill="#111" stroke="#111" stroke-width="0.15" textLength="10.4" lengthAdjust="spacingAndGlyphs">0.0</text>
<line x1="46.3" y1="238.7" x2="49.3" y2="238.7" stroke="#111" stroke-width="0.8"/>
<text x="43.4" y="241.75" font-size="8.2" text-anchor="end" fill="#111" stroke="#111" stroke-width="0.15" textLength="10.4" lengthAdjust="spacingAndGlyphs">2.5</text>
<line x1="46.3" y1="213.3" x2="49.3" y2="213.3" stroke="#111" stroke-width="0.8"/>
<text x="43.4" y="216.35" font-size="8.2" text-anchor="end" fill="#111" stroke="#111" stroke-width="0.15" textLength="10.4" lengthAdjust="spacingAndGlyphs">5.0</text>
<line x1="46.3" y1="188" x2="49.3" y2="188" stroke="#111" stroke-width="0.8"/>
<text x="43.4" y="191.05" font-size="8.2" text-anchor="end" fill="#111" stroke="#111" stroke-width="0.15" textLength="10.4" lengthAdjust="spacingAndGlyphs">7.5</text>
<text x="16.2" y="224.9" font-size="9.8" text-anchor="middle" fill="#111" stroke="#111" stroke-width="0.15" transform="rotate(-90 16.2 224.9)" textLength="71.1" lengthAdjust="spacingAndGlyphs">ERp46 in supernatant</text>
<text x="27.8" y="225" font-size="9.8" text-anchor="middle" fill="#111" stroke="#111" stroke-width="0.15" transform="rotate(-90 27.8 225)" textLength="47" lengthAdjust="spacingAndGlyphs">(fold increase)</text>
<rect x="58.8" y="254.05" width="16.9" height="9.95" fill="#a3dca3" stroke="#93d093" stroke-width="0.6"/>
<rect x="85.8" y="211.3" width="16.9" height="52.7" fill="#ab92bb" stroke="#9a7cad" stroke-width="0.6"/>
<circle cx="59.7" cy="254.2" r="1.3" fill="#22a63a"/>
<circle cx="64.6" cy="254.2" r="1.3" fill="#22a63a"/>
<circle cx="69.7" cy="254.2" r="1.3" fill="#22a63a"/>
<circle cx="74.8" cy="254.2" r="1.3" fill="#22a63a"/>
<line x1="94.6" y1="207.4" x2="94.6" y2="214.6" stroke="#2a6aa0" stroke-width="0.7"/>
<line x1="92.1" y1="207.4" x2="97.1" y2="207.4" stroke="#2a6aa0" stroke-width="0.7"/>
<line x1="92.1" y1="214.6" x2="97.1" y2="214.6" stroke="#2a6aa0" stroke-width="0.7"/>
<rect x="87.7" y="215.7" width="2.4" height="2.4" fill="#5b2a7c"/>
<rect x="93.4" y="209.6" width="2.4" height="2.4" fill="#5b2a7c"/>
<rect x="99.3" y="215" width="2.4" height="2.4" fill="#5b2a7c"/>
<rect x="93.4" y="199.3" width="2.4" height="2.4" fill="#5b2a7c"/>
<line x1="64" y1="195.5" x2="96.5" y2="195.5" stroke="#222" stroke-width="1.0"/>
<polygon points="74.55,189.95 74.99,191 76.12,191.09 75.26,191.83 75.52,192.93 74.55,192.34 73.58,192.93 73.84,191.83 72.98,191.09 74.11,191" fill="#111" stroke="#111" stroke-width="0.3"/>
<polygon points="78.35,189.95 78.79,191 79.92,191.09 79.06,191.83 79.32,192.93 78.35,192.34 77.38,192.93 77.64,191.83 76.78,191.09 77.91,191" fill="#111" stroke="#111" stroke-width="0.3"/>
<polygon points="82.15,189.95 82.59,191 83.72,191.09 82.86,191.83 83.12,192.93 82.15,192.34 81.18,192.93 81.44,191.83 80.58,191.09 81.71,191" fill="#111" stroke="#111" stroke-width="0.3"/>
<polygon points="85.95,189.95 86.39,191 87.52,191.09 86.66,191.83 86.92,192.93 85.95,192.34 84.98,192.93 85.24,191.83 84.38,191.09 85.51,191" fill="#111" stroke="#111" stroke-width="0.3"/>
<line x1="67.2" y1="264" x2="67.2" y2="266.5" stroke="#111" stroke-width="0.8"/>
<line x1="94.2" y1="264" x2="94.2" y2="266.5" stroke="#111" stroke-width="0.8"/>
<text x="65.6" y="272" font-size="8" text-anchor="end" fill="#111" stroke="#111" stroke-width="0.15" transform="rotate(-45 65.6 272)">Non-</text>
<text x="72.6" y="278.6" font-size="8" text-anchor="end" fill="#111" stroke="#111" stroke-width="0.15" transform="rotate(-45 72.6 278.6)">activated</text>
<text x="97" y="272" font-size="7.8" text-anchor="end" fill="#111" stroke="#111" stroke-width="0.15" transform="rotate(-45 97 272)">SFLLRN</text>
<text x="190.5" y="144.9" font-size="11.2" text-anchor="start" fill="#000" font-weight="bold">D</text>
<text x="231.2" y="150.5" font-size="9" text-anchor="end" fill="#111" stroke="#111" stroke-width="0.15" textLength="16" lengthAdjust="spacingAndGlyphs">MPB</text>
<text x="231.2" y="172.7" font-size="9" text-anchor="end" fill="#111" stroke="#111" stroke-width="0.15" textLength="13.8" lengthAdjust="spacingAndGlyphs">SSB</text>
<rect x="235" y="137.2" width="56" height="18" fill="#fbfbfb"/>
<rect x="238.65" y="145.6" width="19.5" height="4.4" rx="2.2" fill="#151515" filter="url(#bl)"/>
<rect x="262.9" y="141.7" width="25" height="12.2" rx="6.1" fill="#050505" filter="url(#bl)"/>
<rect x="235" y="137.2" width="56" height="18" fill="none" stroke="#000" stroke-width="1.2"/>
<rect x="235" y="160.1" width="56" height="17.7" fill="#fbfbfb"/>
<rect x="238.5" y="166.5" width="20.2" height="8" rx="4" fill="#080808" filter="url(#bl)"/>
<rect x="265.3" y="164.4" width="22" height="10.2" rx="5.1" fill="#050505" filter="url(#bl)"/>
<rect x="235" y="160.1" width="56" height="17.7" fill="none" stroke="#000" stroke-width="1.2"/>
<text x="293.1" y="150.5" font-size="9" text-anchor="start" fill="#111" stroke="#111" stroke-width="0.15" textLength="22.7" lengthAdjust="spacingAndGlyphs">ERp46</text>
<text x="293.1" y="172.7" font-size="9" text-anchor="start" fill="#111" stroke="#111" stroke-width="0.15" textLength="22.7" lengthAdjust="spacingAndGlyphs">ERp46</text>
<line x1="235" y1="185.4" x2="235" y2="264.8" stroke="#1a1a1a" stroke-width="1.2"/>
<line x1="234.4" y1="264.2" x2="298" y2="264.2" stroke="#1a1a1a" stroke-width="1.2"/>
<line x1="232" y1="264.2" x2="235" y2="264.2" stroke="#111" stroke-width="0.8"/>
<text x="229.2" y="267.25" font-size="8.2" text-anchor="end" fill="#111" stroke="#111" stroke-width="0.15" textLength="4.25" lengthAdjust="spacingAndGlyphs">0</text>
<line x1="232" y1="238.6" x2="235" y2="238.6" stroke="#111" stroke-width="0.8"/>
<text x="229.2" y="241.65" font-size="8.2" text-anchor="end" fill="#111" stroke="#111" stroke-width="0.15" textLength="4.25" lengthAdjust="spacingAndGlyphs">1</text>
<line x1="232" y1="213" x2="235" y2="213" stroke="#111" stroke-width="0.8"/>
<text x="229.2" y="216.05" font-size="8.2" text-anchor="end" fill="#111" stroke="#111" stroke-width="0.15" textLength="4.25" lengthAdjust="spacingAndGlyphs">2</text>
<line x1="232" y1="187.8" x2="235" y2="187.8" stroke="#111" stroke-width="0.8"/>
<text x="229.2" y="190.85" font-size="8.2" text-anchor="end" fill="#111" stroke="#111" stroke-width="0.15" textLength="4.25" lengthAdjust="spacingAndGlyphs">3</text>
<text x="209.2" y="222.1" font-size="9.8" text-anchor="middle" fill="#111" stroke="#111" stroke-width="0.15" transform="rotate(-90 209.2 222.1)" textLength="84.2" lengthAdjust="spacingAndGlyphs">Labeling ERp46 MPB/SSB</text>
<text x="221" y="224" font-size="9.8" text-anchor="middle" fill="#111" stroke="#111" stroke-width="0.15" transform="rotate(-90 221 224)" textLength="50" lengthAdjust="spacingAndGlyphs">(fold increase)</text>
<rect x="244.55" y="239.55" width="16.9" height="24.45" fill="#a3dca3" stroke="#93d093" stroke-width="0.6"/>
<rect x="271.55" y="200.3" width="16.9" height="63.7" fill="#ab92bb" stroke="#9a7cad" stroke-width="0.6"/>
<circle cx="246.5" cy="239.1" r="1.2" fill="#22a63a"/>
<circle cx="250.5" cy="239.1" r="1.2" fill="#22a63a"/>
<circle cx="255" cy="239.1" r="1.2" fill="#22a63a"/>
<circle cx="259.5" cy="239.1" r="1.2" fill="#22a63a"/>
<line x1="280.4" y1="196.6" x2="280.4" y2="203.1" stroke="#2a6aa0" stroke-width="0.7"/>
<line x1="277.9" y1="196.6" x2="282.9" y2="196.6" stroke="#2a6aa0" stroke-width="0.7"/>
<line x1="277.9" y1="203.1" x2="282.9" y2="203.1" stroke="#2a6aa0" stroke-width="0.7"/>
<rect x="273" y="197.6" width="2.4" height="2.4" fill="#5b2a7c"/>
<rect x="279.2" y="193.1" width="2.4" height="2.4" fill="#5b2a7c"/>
<rect x="285" y="196.8" width="2.4" height="2.4" fill="#5b2a7c"/>
<rect x="279.2" y="207" width="2.4" height="2.4" fill="#5b2a7c"/>
<line x1="249.5" y1="190.5" x2="282.5" y2="190.5" stroke="#222" stroke-width="1.0"/>
<polygon points="260.3,184.95 260.74,186 261.87,186.09 261.01,186.83 261.27,187.93 260.3,187.34 259.33,187.93 259.59,186.83 258.73,186.09 259.86,186" fill="#111" stroke="#111" stroke-width="0.3"/>
<polygon points="264.1,184.95 264.54,186 265.67,186.09 264.81,186.83 265.07,187.93 264.1,187.34 263.13,187.93 263.39,186.83 262.53,186.09 263.66,186" fill="#111" stroke="#111" stroke-width="0.3"/>
<polygon points="267.9,184.95 268.34,186 269.47,186.09 268.61,186.83 268.87,187.93 267.9,187.34 266.93,187.93 267.19,186.83 266.33,186.09 267.46,186" fill="#111" stroke="#111" stroke-width="0.3"/>
<polygon points="271.7,184.95 272.14,186 273.27,186.09 272.41,186.83 272.67,187.93 271.7,187.34 270.73,187.93 270.99,186.83 270.13,186.09 271.26,186" fill="#111" stroke="#111" stroke-width="0.3"/>
<line x1="253" y1="264" x2="253" y2="266.5" stroke="#111" stroke-width="0.8"/>
<line x1="280" y1="264" x2="280" y2="266.5" stroke="#111" stroke-width="0.8"/>
<text x="251.6" y="272" font-size="8" text-anchor="end" fill="#111" stroke="#111" stroke-width="0.15" transform="rotate(-45 251.6 272)">Non-</text>
<text x="258.6" y="278.6" font-size="8" text-anchor="end" fill="#111" stroke="#111" stroke-width="0.15" transform="rotate(-45 258.6 278.6)">activated</text>
<text x="283" y="272.5" font-size="8" text-anchor="end" fill="#111" stroke="#111" stroke-width="0.15" transform="rotate(-45 283 272.5)">Collagen</text>
<text x="378.5" y="144.9" font-size="11.2" text-anchor="start" fill="#000" font-weight="bold">E</text>
<text x="427.1" y="150.8" font-size="9" text-anchor="end" fill="#111" stroke="#111" stroke-width="0.15" textLength="16" lengthAdjust="spacingAndGlyphs">MPB</text>
<text x="427.1" y="172.3" font-size="9" text-anchor="end" fill="#111" stroke="#111" stroke-width="0.15" textLength="13.8" lengthAdjust="spacingAndGlyphs">SSB</text>
<rect x="430" y="138.8" width="56.8" height="17.6" fill="#fbfbfb"/>
<rect x="434.7" y="145.7" width="18" height="4.6" rx="2.3" fill="#151515" filter="url(#bl)"/>
<rect x="457.5" y="142" width="25" height="12.6" rx="6.25" fill="#050505" filter="url(#bl)"/>
<rect x="430" y="138.8" width="56.8" height="17.6" fill="none" stroke="#000" stroke-width="1.2"/>
<rect x="430" y="159.8" width="56.8" height="17.5" fill="#fbfbfb"/>
<rect x="433.85" y="164.8" width="20.3" height="8.4" rx="4.2" fill="#080808" filter="url(#bl)"/>
<rect x="460.3" y="163.3" width="23.2" height="11.4" rx="5.7" fill="#050505" filter="url(#bl)"/>
<rect x="430" y="159.8" width="56.8" height="17.5" fill="none" stroke="#000" stroke-width="1.2"/>
<text x="490.2" y="150.8" font-size="9" text-anchor="start" fill="#111" stroke="#111" stroke-width="0.15" textLength="23.2" lengthAdjust="spacingAndGlyphs">ERp46</text>
<text x="490.2" y="172.3" font-size="9" text-anchor="start" fill="#111" stroke="#111" stroke-width="0.15" textLength="23.2" lengthAdjust="spacingAndGlyphs">ERp46</text>
<line x1="430.8" y1="186.5" x2="430.8" y2="265" stroke="#1a1a1a" stroke-width="1.2"/>
<line x1="430.2" y1="264.4" x2="492.3" y2="264.4" stroke="#1a1a1a" stroke-width="1.2"/>
<line x1="427.8" y1="264.4" x2="430.8" y2="264.4" stroke="#111" stroke-width="0.8"/>
<text x="425.3" y="267.45" font-size="8.2" text-anchor="end" fill="#111" stroke="#111" stroke-width="0.15" textLength="10.4" lengthAdjust="spacingAndGlyphs">0.0</text>
<line x1="427.8" y1="239.5" x2="430.8" y2="239.5" stroke="#111" stroke-width="0.8"/>
<text x="425.3" y="242.55" font-size="8.2" text-anchor="end" fill="#111" stroke="#111" stroke-width="0.15" textLength="10.4" lengthAdjust="spacingAndGlyphs">1.5</text>
<line x1="427.8" y1="214.5" x2="430.8" y2="214.5" stroke="#111" stroke-width="0.8"/>
<text x="425.3" y="217.55" font-size="8.2" text-anchor="end" fill="#111" stroke="#111" stroke-width="0.15" textLength="10.4" lengthAdjust="spacingAndGlyphs">3.0</text>
<line x1="427.8" y1="189.6" x2="430.8" y2="189.6" stroke="#111" stroke-width="0.8"/>
<text x="425.3" y="192.65" font-size="8.2" text-anchor="end" fill="#111" stroke="#111" stroke-width="0.15" textLength="10.4" lengthAdjust="spacingAndGlyphs">4.5</text>
<text x="397.7" y="227.7" font-size="9.8" text-anchor="middle" fill="#111" stroke="#111" stroke-width="0.15" transform="rotate(-90 397.7 227.7)" textLength="83.3" lengthAdjust="spacingAndGlyphs">Labeling ERp46 MPB/SSB</text>
<text x="409" y="228.5" font-size="9.8" text-anchor="middle" fill="#111" stroke="#111" stroke-width="0.15" transform="rotate(-90 409 228.5)" textLength="47.5" lengthAdjust="spacingAndGlyphs">(fold increase)</text>
<rect x="439.7" y="247.8" width="17.2" height="16.6" fill="#a3dca3" stroke="#93d093" stroke-width="0.6"/>
<rect x="466.3" y="209" width="17.1" height="55.4" fill="#ab92bb" stroke="#9a7cad" stroke-width="0.6"/>
<circle cx="441.5" cy="247.4" r="1.2" fill="#22a63a"/>
<circle cx="445.5" cy="247.4" r="1.2" fill="#22a63a"/>
<circle cx="450" cy="247.4" r="1.2" fill="#22a63a"/>
<circle cx="454.5" cy="247.4" r="1.2" fill="#22a63a"/>
<line x1="474.6" y1="203.1" x2="474.6" y2="213.5" stroke="#2a6aa0" stroke-width="0.7"/>
<line x1="471.6" y1="203.1" x2="477.6" y2="203.1" stroke="#2a6aa0" stroke-width="0.7"/>
<line x1="471.6" y1="213.5" x2="477.6" y2="213.5" stroke="#2a6aa0" stroke-width="0.7"/>
<rect x="467.7" y="212.6" width="2.4" height="2.4" fill="#5b2a7c"/>
<rect x="473.4" y="212.3" width="2.4" height="2.4" fill="#5b2a7c"/>
<rect x="479.1" y="212.6" width="2.4" height="2.4" fill="#5b2a7c"/>
<rect x="473" y="191.1" width="2.4" height="2.4" fill="#5b2a7c"/>
<line x1="440.6" y1="189.6" x2="474.5" y2="189.6" stroke="#222" stroke-width="1.0"/>
<polygon points="453.75,184.05 454.19,185.1 455.32,185.19 454.46,185.93 454.72,187.03 453.75,186.44 452.78,187.03 453.04,185.93 452.18,185.19 453.31,185.1" fill="#111" stroke="#111" stroke-width="0.3"/>
<polygon points="457.55,184.05 457.99,185.1 459.12,185.19 458.26,185.93 458.52,187.03 457.55,186.44 456.58,187.03 456.84,185.93 455.98,185.19 457.11,185.1" fill="#111" stroke="#111" stroke-width="0.3"/>
<polygon points="461.35,184.05 461.79,185.1 462.92,185.19 462.06,185.93 462.32,187.03 461.35,186.44 460.38,187.03 460.64,185.93 459.78,185.19 460.91,185.1" fill="#111" stroke="#111" stroke-width="0.3"/>
<line x1="448.3" y1="264.4" x2="448.3" y2="267" stroke="#111" stroke-width="0.8"/>
<line x1="475" y1="264.4" x2="475" y2="267" stroke="#111" stroke-width="0.8"/>
<text x="446.6" y="272.5" font-size="8" text-anchor="end" fill="#111" stroke="#111" stroke-width="0.15" transform="rotate(-45 446.6 272.5)">Non-</text>
<text x="453.6" y="279.1" font-size="8" text-anchor="end" fill="#111" stroke="#111" stroke-width="0.15" transform="rotate(-45 453.6 279.1)">activated</text>
<text x="478" y="273" font-size="8" text-anchor="end" fill="#111" stroke="#111" stroke-width="0.15" transform="rotate(-45 478 273)">Thrombin</text>
<text x="7.5" y="313.9" font-size="11.2" text-anchor="start" fill="#000" font-weight="bold">F</text>
<text x="50" y="315" font-size="10" text-anchor="start" fill="#111" stroke="#111" stroke-width="0.15" textLength="89.5" lengthAdjust="spacingAndGlyphs">Thrombin (0.05 U/ml)</text>
<rect x="49.8" y="320.4" width="89.8" height="96.1" fill="none" stroke="#111" stroke-width="1"/>
<line x1="46" y1="407.9" x2="49.8" y2="407.9" stroke="#111" stroke-width="0.8"/>
<text x="43.3" y="410.75" font-size="8.2" text-anchor="end" fill="#111" stroke="#111" stroke-width="0.15" textLength="12.75" lengthAdjust="spacingAndGlyphs">100</text>
<text x="27.2" y="365.8" font-size="10" text-anchor="middle" fill="#111" stroke="#111" stroke-width="0.15" transform="rotate(-90 27.2 365.8)" textLength="49" lengthAdjust="spacingAndGlyphs">% Aggregation</text>
<line x1="58.75" y1="416.5" x2="58.75" y2="419.5" stroke="#111" stroke-width="0.8"/>
<text x="58.75" y="429.8" font-size="8.2" text-anchor="middle" fill="#111" stroke="#111" stroke-width="0.15" textLength="3.8" lengthAdjust="spacingAndGlyphs">0</text>
<line x1="76.75" y1="416.5" x2="76.75" y2="419.5" stroke="#111" stroke-width="0.8"/>
<text x="76.75" y="429.8" font-size="8.2" text-anchor="middle" fill="#111" stroke="#111" stroke-width="0.15" textLength="3.8" lengthAdjust="spacingAndGlyphs">1</text>
<line x1="94.5" y1="416.5" x2="94.5" y2="419.5" stroke="#111" stroke-width="0.8"/>
<text x="94.5" y="429.8" font-size="8.2" text-anchor="middle" fill="#111" stroke="#111" stroke-width="0.15" textLength="3.8" lengthAdjust="spacingAndGlyphs">2</text>
<line x1="112.5" y1="416.5" x2="112.5" y2="419.5" stroke="#111" stroke-width="0.8"/>
<text x="112.5" y="429.8" font-size="8.2" text-anchor="middle" fill="#111" stroke="#111" stroke-width="0.15" textLength="3.8" lengthAdjust="spacingAndGlyphs">3</text>
<line x1="130" y1="416.5" x2="130" y2="419.5" stroke="#111" stroke-width="0.8"/>
<text x="130" y="429.8" font-size="8.2" text-anchor="middle" fill="#111" stroke="#111" stroke-width="0.15" textLength="3.8" lengthAdjust="spacingAndGlyphs">4</text>
<text x="94.4" y="441.6" font-size="10" text-anchor="middle" fill="#111" stroke="#111" stroke-width="0.15" textLength="36" lengthAdjust="spacingAndGlyphs">Time (min)</text>
<line x1="50.3" y1="330.5" x2="50.3" y2="354.5" stroke="#164a88" stroke-width="1.1"/>
<polyline points="50.3,405.78 50.74,405.87 51.34,406.09 52.05,405.91 52.82,406 53.61,406.12 54.35,406.02 55,406.31 55.79,406.63 56.52,407.08 57.21,407.1 57.86,407.49 58.5,407.5 59.11,407.73 59.58,407.34 60.2,406.56 61.3,406.54 61.73,406.38 62.19,406.06 62.69,405.87 63.22,405.45 63.77,405.18 64.36,405.24 64.98,404.8 65.63,404.66 66.3,404.49 66.99,404.19 67.71,404.23 68.45,404.05 69.22,404.1 70,403.81 70.51,403.8 71.04,403.65 71.58,403.67 72.14,403.51 72.71,403.36 73.29,403.66 73.88,403.61 74.48,403.49 75.09,403.38 75.71,403.14 76.34,403.06 76.97,403.05 77.61,402.91 78.26,403.23 78.91,403.01 79.56,403.21 80.21,402.95 80.87,403.22 81.53,403.14 82.19,402.69 82.84,402.78 83.5,403.11 84.08,402.87 84.67,403.11 85.26,402.8 85.87,402.63 86.47,402.9 87.09,402.96 87.7,402.7 88.33,402.61 88.95,402.73 89.58,403.04 90.21,402.93 90.84,402.61 91.46,402.68 92.09,402.61 92.72,402.59 93.35,402.97 93.97,402.66 94.6,402.86 95.21,402.81 95.83,402.69 96.43,402.97 97.04,402.68 97.63,402.95 98.22,402.7 98.8,402.86 99.44,402.77 100.04,402.81 100.62,403.18 101.18,403.11 101.72,402.88 102.25,403.19 102.77,402.87 103.28,402.98 103.79,403.24 104.3,403.15 104.83,402.91 105.36,403.38 105.91,403.02 106.48,403.07 107.08,403.36 107.7,403.17 108.36,403.19 109.05,403.11 109.79,403.16 110.58,403.45 111.41,403.33 112.3,403.55 112.77,403.46 113.27,403.53 113.8,403.81 114.34,403.6 114.91,403.68 115.5,403.85 116.11,403.55 116.74,403.57 117.38,403.98 118.04,403.97 118.71,403.72 119.4,403.73 120.09,404.04 120.8,404.18 121.51,403.85 122.23,404.27 122.95,404.27 123.68,404.18 124.41,404.13 125.14,404.01 125.87,404.02 126.59,404.52 127.32,404.2 128.04,404.47 128.75,404.29 129.45,404.61 130.15,404.54 130.84,404.42 131.51,404.4 132.17,404.71 132.81,404.42 133.44,404.54 134.05,404.74 134.64,404.92 135.22,404.83 135.76,404.7 136.29,405.04 136.79,404.72 137.27,404.65 137.71,404.8 138.13,404.91 138.52,404.74 138.88,404.82 139.2,404.93" fill="none" stroke="#1f6f5c" stroke-width="1.1" stroke-linejoin="round" opacity="1"/>
<polyline points="50.3,405.39 50.69,405.48 51.19,405.51 51.79,405.32 52.46,405.3 53.18,405.48 53.92,405.47 54.65,405.7 55.35,405.67 56,405.64 56.67,405.67 57.32,405.82 57.95,405.74 58.58,405.97 59.22,405.91 59.88,406.15 60.57,405.61 61.3,405.53 61.86,404.82 62.43,404.54 63.02,403.8 63.62,403.16 64.24,402.6 64.86,401.5 65.5,400.71 66.14,400.24 66.79,399.27 67.44,398.3 68.1,397.89 68.72,397.18 69.35,396.1 70.01,395.46 70.67,394.57 71.35,393.85 72.02,393.19 72.69,392.24 73.35,391.7 73.99,390.72 74.62,390.08 75.23,389.7 75.8,388.96 76.52,388.27 77.2,387.71 77.84,387.09 78.47,386.53 79.07,385.92 79.67,385.77 80.27,385.47 80.87,385.12 81.5,384.67 82.09,384.25 82.6,384.01 83.07,383.93 83.54,383.76 84.06,383.4 84.65,383.35 85.36,383.33 86.23,383.34 87.3,383.42 87.74,383.29 88.2,383.1 88.68,383.42 89.18,383.27 89.7,383.31 90.25,383.21 90.81,383.31 91.39,383.31 91.98,383.49 92.59,383.25 93.21,383.46 93.84,383.34 94.49,383.58 95.14,383.36 95.81,383.5 96.48,383.57 97.16,383.74 97.84,383.56 98.53,383.78 99.22,383.74 99.92,383.83 100.61,383.98 101.31,384.24 102.01,384.12 102.7,384.38 103.25,384.13 103.8,384.49 104.36,384.34 104.93,384.34 105.51,384.64 106.09,384.78 106.68,384.49 107.28,384.68 107.88,384.96 108.48,384.88 109.09,384.92 109.71,384.92 110.32,385.02 110.94,385.35 111.56,385.59 112.18,385.69 112.8,385.59 113.43,385.49 114.05,385.71 114.67,386 115.29,386.11 115.91,386.14 116.53,386.08 117.14,386.3 117.76,386.38 118.36,386.54 118.97,386.5 119.56,386.87 120.16,386.95 120.75,386.76 121.33,386.92 121.9,387.25 122.56,387.13 123.24,387.52 123.92,387.47 124.62,387.68 125.33,387.82 126.04,387.76 126.76,387.93 127.49,388.06 128.21,388.38 128.93,388.53 129.64,388.45 130.36,388.9 131.06,388.86 131.75,388.93 132.43,389.15 133.1,389.51 133.75,389.47 134.38,389.63 134.99,389.88 135.57,390.02 136.14,390.06 136.67,390.04 137.18,390.21 137.65,390.44 138.09,390.49 138.5,390.49 138.87,390.47 139.2,390.55" fill="none" stroke="#5b8fc4" stroke-width="1.0" stroke-linejoin="round" opacity="1"/>
<polyline points="50.3,405.28 50.7,405.55 51.24,405.62 51.9,405.79 52.62,405.55 53.37,405.67 54.13,405.73 54.84,405.88 55.48,406.23 56,406.02 56.84,406.45 57.43,406.55 57.93,406.78 58.5,406.87 59.18,407.04 59.88,406.85 60.59,406.15 61.3,405.29 61.99,403.44 62.68,401.42 63.4,398.69 64.2,395.95 64.79,394.14 65.43,392.2 66.09,390.34 66.77,388.28 67.44,386.03 68.1,384.37 68.74,382.23 69.37,380.35 70,378.24 70.63,376.21 71.26,374.33 71.9,372.66 72.53,371.05 73.16,369.48 73.79,368.47 74.43,367.22 75.1,366.2 75.8,365.1 76.44,364.33 77.11,363.83 77.79,363.03 78.5,362.91 79.2,362.48 79.91,362.11 80.6,361.95 81.17,362.04 81.69,361.92 82.19,362.11 82.7,362.33 83.25,362.41 83.86,362.48 84.57,362.88 85.4,362.97 85.9,363.09 86.45,363.21 87.04,363.46 87.67,363.49 88.31,363.96 88.99,364.3 89.67,364.21 90.37,364.57 91.07,364.86 91.76,364.59 92.45,364.8 93.12,365.27 93.78,365.41 94.41,365.4 95,365.23 95.71,365.39 96.39,365.61 97.06,365.57 97.71,365.46 98.34,365.06 98.97,365.27 99.59,364.91 100.2,364.97 100.82,364.58 101.44,364.91 102.06,364.67 102.7,364.71 103.33,364.46 103.94,364.69 104.54,364.71 105.13,364.77 105.72,364.71 106.31,364.97 106.92,364.86 107.55,364.92 108.21,364.95 108.9,365.3 109.63,365.11 110.4,365.26 110.91,365.25 111.42,365.6 111.94,365.62 112.47,365.67 113.01,365.49 113.55,365.76 114.11,365.78 114.68,365.73 115.26,365.76 115.85,366.33 116.45,365.97 117.07,366.14 117.71,366.21 118.36,366.46 119.03,366.3 119.72,366.58 120.43,366.63 121.15,366.96 121.9,366.65 122.43,366.89 123,367.05 123.59,367.37 124.22,367.23 124.87,367.31 125.54,367.5 126.22,367.41 126.92,367.38 127.64,367.72 128.36,368.03 129.09,368.05 129.82,367.91 130.54,368.23 131.27,368.42 131.99,368.23 132.69,368.5 133.38,368.48 134.06,368.52 134.72,368.64 135.35,368.69 135.96,368.85 136.53,368.78 137.08,369.04 137.59,368.96 138.06,369.36 138.48,369.35 138.87,369.1 139.2,369.54" fill="none" stroke="#e06a84" stroke-width="1.0" stroke-linejoin="round" opacity="1"/>
<polyline points="50.3,330.05 50.67,330.6 51.14,330.59 51.69,330.91 52.32,330.37 53,330.44 53.73,330.95 54.48,330.96 55.26,330.7 56.03,331.1 56.8,330.87 57.54,331.22 58.24,330.6 58.89,330.63 59.48,331.13 59.99,330.48 60.4,330.18 61.64,326.94 61.9,322.82 62.62,321.11 63.43,320.84 64.2,320.95 64.89,321.13 65.55,322.83 66.2,324.26 66.84,327.22 67.47,330.41 68.1,333.93 68.7,337.83 69.29,340.51 70,344.24 70.65,346.23 71.39,348.93 72.15,351.62 72.9,353.67 73.6,355.06 74.29,357.17 75.01,358.78 75.8,359.91 76.36,360.86 76.93,362.54 77.52,363.17 78.15,363.83 78.84,365.01 79.6,365.75 80.15,366.92 80.72,367.31 81.31,367.62 81.94,368.93 82.58,368.93 83.25,369.74 83.94,370.13 84.66,371.36 85.4,371.35 85.97,372.11 86.55,372.1 87.15,372.81 87.76,373.34 88.38,373.53 89.01,373.78 89.66,374.12 90.32,374.38 91,374.82 91.68,374.66 92.39,375.29 93.1,375.36 93.65,376.14 94.21,376.41 94.78,375.83 95.37,376.1 95.96,376.8 96.56,376.87 97.17,376.56 97.78,377.36 98.4,377.75 99.02,377.46 99.64,377.56 100.26,377.93 100.87,378.43 101.49,377.98 102.1,378.17 102.7,378.22 103.34,378.77 103.98,378.78 104.62,378.74 105.26,379 105.9,378.83 106.54,379.21 107.18,379.95 107.82,379.72 108.46,379.56 109.1,380.27 109.74,379.86 110.38,379.88 111.02,379.79 111.66,379.99 112.3,380.13 112.89,380.24 113.45,380.89 113.99,380.41 114.52,380.46 115.04,380.83 115.56,381.16 116.09,380.65 116.62,381.12 117.17,380.81 117.74,381.02 118.33,381.1 118.96,381.46 119.62,381.35 120.33,381.18 121.09,381.54 121.9,381.18 122.4,381.24 122.94,381.8 123.51,381.48 124.12,381.73 124.75,381.37 125.41,381.97 126.09,381.75 126.79,381.48 127.5,382.15 128.22,381.79 128.95,381.73 129.68,381.72 130.42,381.64 131.15,381.79 131.88,382.29 132.59,381.85 133.3,382.01 133.98,382.24 134.65,382.38 135.29,382.28 135.91,382.69 136.5,382.26 137.05,382.41 137.57,382.5 138.05,382.27 138.48,382.39 138.86,382.35 139.2,382.9" fill="none" stroke="#c8163c" stroke-width="1.2" stroke-linejoin="round" opacity="1"/>
<polyline points="50.3,330.12 50.54,330.38 50.86,330.27 51.22,330.36 51.64,330.32 52.1,330.85 52.58,330.08 53.08,330.87 53.59,329.66 54.09,330.28 54.58,330.37 55.05,330.02 55.49,331.25 55.88,330.4 56.22,331.37 56.5,331.71 57.41,330.78 57.6,331.29 57.89,325.76 58.1,321.33 58.27,324.04 58.6,330.31 58.93,331.81 59.35,331.83 59.84,331.92 60.4,331.92 60.76,331.42 61.15,331.77 61.57,330 62,329.22 62.44,328.79 62.88,328.74 63.3,327.09 63.71,326.54 64.1,328.52 64.5,328.52 64.89,328.86 65.31,328.91 65.74,329.04 66.2,329.71 66.58,330.8 66.98,332.08 67.4,332.38 67.83,334.81 68.26,336.08 68.7,335.86 69.14,338.68 69.57,339.05 70,340.84 70.41,340.76 70.81,342.14 71.19,342.13 71.58,343.07 71.97,343.44 72.39,343.06 72.82,343.88 73.29,344.65 73.8,345.61 74.15,345.95 74.52,346.71 74.91,347.36 75.31,347.26 75.72,347.52 76.15,348.32 76.57,349.62 77.01,349.69 77.45,349.85 77.88,350.57 78.32,349.8 78.75,349.94 79.18,350.31 79.6,350.74 80.01,350.89 80.41,352.5 80.81,353.46 81.2,352.22 81.59,353.73 81.99,354.6 82.38,354.61 82.78,353.73 83.19,355.04 83.6,354.6 84.03,354.77 84.47,354.74 84.93,356.07 85.4,357.14 85.76,355.71 86.12,355.98 86.49,356.64 86.86,356.11 87.24,357.13 87.63,357.82 88.02,357.43 88.41,356.73 88.81,356.86 89.22,357.33 89.63,358.41 90.04,359.06 90.46,358.35 90.89,357.69 91.32,358.05 91.76,358.59 92.2,358.12 92.65,358.28 93.1,359.07 93.46,360 93.83,358.92 94.21,360.34 94.59,360.45 94.98,359.69 95.37,359.4 95.76,359.45 96.16,360.54 96.56,360.98 96.97,361.18 97.37,360 97.78,360.57 98.19,359.88 98.6,360.57 99.02,360.68 99.43,360.45 99.84,360.48 100.26,362.43 100.67,361.17 101.08,361.67 101.49,361.85 101.89,361.84 102.3,362.18 102.7,362.1 103.12,362.18 103.53,361.46 103.95,362.67 104.37,362.84 104.79,363.04 105.2,362.32 105.62,362.71 106.04,363.48 106.46,363.41 106.87,362.15 107.29,362.8 107.71,362.55 108.13,363.71 108.54,363.17 108.96,363.23 109.38,362.97 109.8,363.5 110.21,364.1 110.63,364 111.05,363.25 111.47,363.66 111.88,364.18 112.3,363.11 112.69,364.86 113.08,363.16 113.45,364.42 113.81,363.51 114.17,365.18 114.52,364.7 114.87,363.8 115.21,364.41 115.56,365.13 115.91,365.19 116.26,364.84 116.62,364.83 116.98,365.08 117.35,365.46 117.74,364.69 118.13,364.93 118.54,365.33 118.96,364.79 119.4,364.24 119.85,365 120.33,364.58 120.83,365.35 121.35,365.46 121.9,365.81 122.22,364.24 122.56,364.09 122.91,365.93 123.28,365.56 123.67,366.12 124.06,365.78 124.47,366.08 124.89,364.51 125.32,364.6 125.75,365.48 126.2,365.8 126.66,364.54 127.12,366.23 127.58,364.82 128.05,364.8 128.52,365.29 129,364.81 129.48,364.65 129.96,364.65 130.44,364.59 130.91,364.85 131.39,365.93 131.86,366.16 132.33,366.17 132.79,365.49 133.25,366.18 133.7,364.93 134.14,366.45 134.57,365.57 135,365.02 135.41,365.56 135.81,365.2 136.2,366.32 136.58,365.6 136.94,364.91 137.29,365.28 137.62,365.07 137.93,366.83 138.22,365.77 138.5,366.53 138.75,366.16 138.99,365.81 139.2,366.46" fill="none" stroke="#164a88" stroke-width="1.2" stroke-linejoin="round" opacity="1"/>
<polyline points="50.3,330.59 50.7,330.21 51.26,330.51 51.92,330.28 52.63,330.62 53.35,330.24 54.02,330.57 54.6,330.47 55.46,330.5 56.24,330.49 56.92,330.08 57.5,329.94 58.23,329.61 58.8,328.41 59.5,326.07 60.4,323.59 61.03,322.94 61.77,322.14 62.54,321.54 63.3,321.09 64,321.61 64.69,322.06 65.41,322.76 66.2,323.68 66.76,324.21 67.33,324.66 67.92,325.48 68.55,326.06 69.24,326.82 70,327.67 70.55,328.05 71.12,328.46 71.71,329.17 72.34,329.76 72.98,330.11 73.65,330.84 74.34,331.02 75.06,331.62 75.8,332.17 76.37,332.88 76.95,333.19 77.55,333.61 78.16,333.85 78.78,334.34 79.41,334.91 80.06,335 80.72,335.41 81.4,335.78 82.08,336.34 82.79,336.87 83.5,337.12 84.08,337.35 84.68,337.67 85.3,337.83 85.92,338.41 86.56,338.45 87.2,338.67 87.85,338.97 88.51,339.44 89.17,339.49 89.83,339.98 90.49,340 91.15,340.28 91.81,340.37 92.46,340.94 93.1,341.12 93.7,341.2 94.3,341.25 94.9,341.6 95.5,341.75 96.1,342.12 96.7,342.34 97.3,342.44 97.9,342.43 98.5,342.51 99.1,343.01 99.7,343.2 100.3,343.05 100.9,343.34 101.5,343.49 102.1,343.84 102.7,343.62 103.34,343.78 103.98,344.25 104.62,344.3 105.26,344.4 105.9,344.68 106.54,344.75 107.18,344.93 107.82,344.89 108.46,344.95 109.1,345.05 109.74,345.3 110.38,345.54 111.02,345.55 111.66,345.64 112.3,345.85 112.89,345.97 113.45,346.01 113.99,345.97 114.52,346.24 115.04,346.29 115.56,346.39 116.09,346.44 116.62,346.14 117.17,346.45 117.74,346.37 118.33,346.43 118.96,346.53 119.62,346.42 120.33,346.51 121.09,346.85 121.9,346.63 122.4,346.89 122.94,346.83 123.51,346.71 124.12,346.73 124.75,346.88 125.41,346.94 126.09,346.82 126.79,346.73 127.5,346.8 128.22,347.11 128.95,347.08 129.68,346.85 130.42,347.17 131.15,347.09 131.88,347.01 132.59,347.26 133.3,346.97 133.98,346.98 134.65,347.1 135.29,347.28 135.91,347.22 136.5,347.21 137.05,347.4 137.57,347.21 138.05,347.38 138.48,347.08 138.86,347.4 139.2,347.16" fill="none" stroke="#3cb54a" stroke-width="1.1" stroke-linejoin="round" opacity="1"/>
<line x1="60" y1="353.5" x2="60" y2="336.5" stroke="#666" stroke-width="1.1"/>
<polygon points="57.4,337.3 62.6,337.3 60,332.6" fill="#000"/>
<text x="143.8" y="327.8" font-size="8" text-anchor="start" fill="#111" stroke="#111" stroke-width="0.15" textLength="39.3" lengthAdjust="spacingAndGlyphs">Anti-ERp46</text>
<text x="143.8" y="337" font-size="8" text-anchor="start" fill="#111" stroke="#111" stroke-width="0.15" textLength="26" lengthAdjust="spacingAndGlyphs">(µg/ml)</text>
<text x="143.8" y="350.8" font-size="8" text-anchor="start" fill="#111" stroke="#111" stroke-width="0.15" textLength="8" lengthAdjust="spacingAndGlyphs">60</text>
<text x="143.8" y="368.8" font-size="8" text-anchor="start" fill="#111" stroke="#111" stroke-width="0.15" textLength="8" lengthAdjust="spacingAndGlyphs">20</text>
<text x="143.8" y="385.8" font-size="8" text-anchor="start" fill="#111" stroke="#111" stroke-width="0.15" textLength="4" lengthAdjust="spacingAndGlyphs">0</text>
<line x1="145.5" y1="392.5" x2="145.5" y2="407.5" stroke="#111" stroke-width="0.9"/>
<line x1="144" y1="392.5" x2="147" y2="392.5" stroke="#111" stroke-width="0.9"/>
<line x1="144" y1="407.5" x2="147" y2="407.5" stroke="#111" stroke-width="0.9"/>
<text x="148.2" y="400.8" font-size="8" text-anchor="start" fill="#111" stroke="#111" stroke-width="0.15" textLength="36" lengthAdjust="spacingAndGlyphs">0.5 nmole</text>
<text x="166" y="410.5" font-size="8" text-anchor="middle" fill="#111" stroke="#111" stroke-width="0.15" textLength="15" lengthAdjust="spacingAndGlyphs">ATP</text>
<line x1="234.25" y1="335.5" x2="234.25" y2="417.6" stroke="#1a1a1a" stroke-width="1.2"/>
<line x1="233.65" y1="417" x2="286.25" y2="417" stroke="#1a1a1a" stroke-width="1.2"/>
<line x1="231.25" y1="417" x2="234.25" y2="417" stroke="#111" stroke-width="0.8"/>
<text x="229.5" y="420.05" font-size="8.2" text-anchor="end" fill="#111" stroke="#111" stroke-width="0.15" textLength="4.25" lengthAdjust="spacingAndGlyphs">0</text>
<line x1="231.25" y1="401.3" x2="234.25" y2="401.3" stroke="#111" stroke-width="0.8"/>
<text x="229.5" y="404.35" font-size="8.2" text-anchor="end" fill="#111" stroke="#111" stroke-width="0.15" textLength="8.5" lengthAdjust="spacingAndGlyphs">20</text>
<line x1="231.25" y1="385.75" x2="234.25" y2="385.75" stroke="#111" stroke-width="0.8"/>
<text x="229.5" y="388.8" font-size="8.2" text-anchor="end" fill="#111" stroke="#111" stroke-width="0.15" textLength="8.5" lengthAdjust="spacingAndGlyphs">40</text>
<line x1="231.25" y1="370" x2="234.25" y2="370" stroke="#111" stroke-width="0.8"/>
<text x="229.5" y="373.05" font-size="8.2" text-anchor="end" fill="#111" stroke="#111" stroke-width="0.15" textLength="8.5" lengthAdjust="spacingAndGlyphs">60</text>
<line x1="231.25" y1="354.5" x2="234.25" y2="354.5" stroke="#111" stroke-width="0.8"/>
<text x="229.5" y="357.55" font-size="8.2" text-anchor="end" fill="#111" stroke="#111" stroke-width="0.15" textLength="8.5" lengthAdjust="spacingAndGlyphs">80</text>
<line x1="231.25" y1="338.75" x2="234.25" y2="338.75" stroke="#111" stroke-width="0.8"/>
<text x="229.5" y="341.8" font-size="8.2" text-anchor="end" fill="#111" stroke="#111" stroke-width="0.15" textLength="12.75" lengthAdjust="spacingAndGlyphs">100</text>
<text x="213.5" y="377.5" font-size="10" text-anchor="middle" fill="#111" stroke="#111" stroke-width="0.15" transform="rotate(-90 213.5 377.5)" textLength="49" lengthAdjust="spacingAndGlyphs">% Aggregation</text>
<rect x="240.3" y="359.55" width="10.15" height="57.45" fill="#e18a99" stroke="#d97a8c" stroke-width="0.6"/>
<rect x="255.8" y="381.05" width="10.15" height="35.95" fill="#88a8c6" stroke="#7898ba" stroke-width="0.6"/>
<rect x="271.55" y="400.3" width="9.9" height="16.7" fill="#a3dca3" stroke="#93d093" stroke-width="0.6"/>
<line x1="245.4" y1="356.5" x2="245.4" y2="362" stroke="#c40c33" stroke-width="0.7"/>
<line x1="243.9" y1="356.5" x2="246.9" y2="356.5" stroke="#c40c33" stroke-width="0.7"/>
<line x1="243.9" y1="362" x2="246.9" y2="362" stroke="#c40c33" stroke-width="0.7"/>
<line x1="260.9" y1="378.5" x2="260.9" y2="382.5" stroke="#1a4f8c" stroke-width="0.7"/>
<line x1="259.4" y1="378.5" x2="262.4" y2="378.5" stroke="#1a4f8c" stroke-width="0.7"/>
<line x1="259.4" y1="382.5" x2="262.4" y2="382.5" stroke="#1a4f8c" stroke-width="0.7"/>
<line x1="276.5" y1="393" x2="276.5" y2="407" stroke="#3cb54a" stroke-width="0.7"/>
<line x1="275" y1="393" x2="278" y2="393" stroke="#3cb54a" stroke-width="0.7"/>
<line x1="275" y1="407" x2="278" y2="407" stroke="#3cb54a" stroke-width="0.7"/>
<circle cx="243" cy="357.5" r="1.2" fill="#c40c33"/>
<circle cx="248" cy="355.8" r="1.2" fill="#c40c33"/>
<circle cx="245" cy="364" r="1.2" fill="#c40c33"/>
<rect x="256.9" y="380.9" width="2.2" height="2.2" fill="#1a4f8c"/>
<rect x="259.9" y="377.2" width="2.2" height="2.2" fill="#1a4f8c"/>
<rect x="262.9" y="380.4" width="2.2" height="2.2" fill="#1a4f8c"/>
<polygon points="275.3,390.5 277.7,390.5 276.5,388.3" fill="#3cb54a"/>
<polygon points="273.8,401 276.2,401 275,398.8" fill="#3cb54a"/>
<polygon points="275.3,409 277.7,409 276.5,406.8" fill="#3cb54a"/>
<line x1="243.75" y1="341.25" x2="280.5" y2="341.25" stroke="#222" stroke-width="1.0"/>
<polygon points="258.32,335.7 258.76,336.75 259.89,336.84 259.03,337.58 259.29,338.68 258.32,338.09 257.36,338.68 257.62,337.58 256.76,336.84 257.89,336.75" fill="#111" stroke="#111" stroke-width="0.3"/>
<polygon points="262.12,335.7 262.56,336.75 263.69,336.84 262.83,337.58 263.09,338.68 262.12,338.09 261.16,338.68 261.42,337.58 260.56,336.84 261.69,336.75" fill="#111" stroke="#111" stroke-width="0.3"/>
<polygon points="265.93,335.7 266.36,336.75 267.49,336.84 266.63,337.58 266.89,338.68 265.93,338.09 264.96,338.68 265.22,337.58 264.36,336.84 265.49,336.75" fill="#111" stroke="#111" stroke-width="0.3"/>
<line x1="243.75" y1="351.25" x2="265.5" y2="351.25" stroke="#222" stroke-width="1.0"/>
<polygon points="254.62,345.7 255.06,346.75 256.19,346.84 255.33,347.58 255.59,348.68 254.62,348.09 253.66,348.68 253.92,347.58 253.06,346.84 254.19,346.75" fill="#111" stroke="#111" stroke-width="0.3"/>
<line x1="260" y1="372.5" x2="278.75" y2="372.5" stroke="#222" stroke-width="1.0"/>
<polygon points="269.38,366.95 269.81,368 270.94,368.09 270.08,368.83 270.34,369.93 269.38,369.34 268.41,369.93 268.67,368.83 267.81,368.09 268.94,368" fill="#111" stroke="#111" stroke-width="0.3"/>
<line x1="245.4" y1="417" x2="245.4" y2="419.5" stroke="#111" stroke-width="0.8"/>
<text x="245.4" y="431" font-size="8.2" text-anchor="middle" fill="#111" stroke="#111" stroke-width="0.15" textLength="3.8" lengthAdjust="spacingAndGlyphs">0</text>
<line x1="260.9" y1="417" x2="260.9" y2="419.5" stroke="#111" stroke-width="0.8"/>
<text x="260.9" y="431" font-size="8.2" text-anchor="middle" fill="#111" stroke="#111" stroke-width="0.15" textLength="7.6" lengthAdjust="spacingAndGlyphs">20</text>
<line x1="276.5" y1="417" x2="276.5" y2="419.5" stroke="#111" stroke-width="0.8"/>
<text x="276.5" y="431" font-size="8.2" text-anchor="middle" fill="#111" stroke="#111" stroke-width="0.15" textLength="7.6" lengthAdjust="spacingAndGlyphs">60</text>
<text x="261.5" y="441.8" font-size="9.8" text-anchor="middle" fill="#111" stroke="#111" stroke-width="0.15" textLength="65.6" lengthAdjust="spacingAndGlyphs">Anti-ERp46 (µg/ml)</text>
<line x1="348.1" y1="335.5" x2="348.1" y2="417.6" stroke="#1a1a1a" stroke-width="1.2"/>
<line x1="347.5" y1="417" x2="400" y2="417" stroke="#1a1a1a" stroke-width="1.2"/>
<line x1="345.1" y1="417" x2="348.1" y2="417" stroke="#111" stroke-width="0.8"/>
<text x="343.6" y="420.05" font-size="8.2" text-anchor="end" fill="#111" stroke="#111" stroke-width="0.15" textLength="4.25" lengthAdjust="spacingAndGlyphs">0</text>
<line x1="345.1" y1="391.25" x2="348.1" y2="391.25" stroke="#111" stroke-width="0.8"/>
<text x="343.6" y="394.3" font-size="8.2" text-anchor="end" fill="#111" stroke="#111" stroke-width="0.15" textLength="10.4" lengthAdjust="spacingAndGlyphs">0.5</text>
<line x1="345.1" y1="365" x2="348.1" y2="365" stroke="#111" stroke-width="0.8"/>
<text x="343.6" y="368.05" font-size="8.2" text-anchor="end" fill="#111" stroke="#111" stroke-width="0.15" textLength="10.4" lengthAdjust="spacingAndGlyphs">1.0</text>
<line x1="345.1" y1="338.75" x2="348.1" y2="338.75" stroke="#111" stroke-width="0.8"/>
<text x="343.6" y="341.8" font-size="8.2" text-anchor="end" fill="#111" stroke="#111" stroke-width="0.15" textLength="10.4" lengthAdjust="spacingAndGlyphs">1.5</text>
<text x="328" y="380.6" font-size="9.2" text-anchor="middle" fill="#111" stroke="#111" stroke-width="0.15" transform="rotate(-90 328 380.6)" textLength="73.4" lengthAdjust="spacingAndGlyphs">ATP release (nmoles)</text>
<rect x="353.55" y="363.55" width="9.9" height="53.45" fill="#e18a99" stroke="#d97a8c" stroke-width="0.6"/>
<rect x="369.55" y="383.55" width="9.65" height="33.45" fill="#88a8c6" stroke="#7898ba" stroke-width="0.6"/>
<rect x="385.3" y="404.05" width="9.9" height="12.95" fill="#a3dca3" stroke="#93d093" stroke-width="0.6"/>
<line x1="358.5" y1="358.5" x2="358.5" y2="368" stroke="#c40c33" stroke-width="0.7"/>
<line x1="357" y1="358.5" x2="360" y2="358.5" stroke="#c40c33" stroke-width="0.7"/>
<line x1="357" y1="368" x2="360" y2="368" stroke="#c40c33" stroke-width="0.7"/>
<line x1="374.4" y1="380" x2="374.4" y2="385.5" stroke="#1a4f8c" stroke-width="0.7"/>
<line x1="372.9" y1="380" x2="375.9" y2="380" stroke="#1a4f8c" stroke-width="0.7"/>
<line x1="372.9" y1="385.5" x2="375.9" y2="385.5" stroke="#1a4f8c" stroke-width="0.7"/>
<line x1="390.2" y1="396.5" x2="390.2" y2="411" stroke="#3cb54a" stroke-width="0.7"/>
<line x1="388.7" y1="396.5" x2="391.7" y2="396.5" stroke="#3cb54a" stroke-width="0.7"/>
<line x1="388.7" y1="411" x2="391.7" y2="411" stroke="#3cb54a" stroke-width="0.7"/>
<circle cx="358.5" cy="354.5" r="1.2" fill="#c40c33"/>
<circle cx="356" cy="365.5" r="1.2" fill="#c40c33"/>
<circle cx="361" cy="366.5" r="1.2" fill="#c40c33"/>
<circle cx="358.5" cy="368" r="1.2" fill="#c40c33"/>
<rect x="370.9" y="383.9" width="2.2" height="2.2" fill="#1a4f8c"/>
<rect x="373.9" y="379.4" width="2.2" height="2.2" fill="#1a4f8c"/>
<rect x="376.4" y="378.9" width="2.2" height="2.2" fill="#1a4f8c"/>
<polygon points="389,405 391.4,405 390.2,402.8" fill="#3cb54a"/>
<polygon points="387.8,408.5 390.2,408.5 389,406.3" fill="#3cb54a"/>
<line x1="357" y1="341.25" x2="393.75" y2="341.25" stroke="#222" stroke-width="1.0"/>
<polygon points="371.57,335.7 372.01,336.75 373.14,336.84 372.28,337.58 372.54,338.68 371.57,338.09 370.61,338.68 370.87,337.58 370.01,336.84 371.14,336.75" fill="#111" stroke="#111" stroke-width="0.3"/>
<polygon points="375.38,335.7 375.81,336.75 376.94,336.84 376.08,337.58 376.34,338.68 375.38,338.09 374.41,338.68 374.67,337.58 373.81,336.84 374.94,336.75" fill="#111" stroke="#111" stroke-width="0.3"/>
<polygon points="379.18,335.7 379.61,336.75 380.74,336.84 379.88,337.58 380.14,338.68 379.18,338.09 378.21,338.68 378.47,337.58 377.61,336.84 378.74,336.75" fill="#111" stroke="#111" stroke-width="0.3"/>
<line x1="357" y1="351.25" x2="379.5" y2="351.25" stroke="#222" stroke-width="1.0"/>
<polygon points="368.25,345.7 368.69,346.75 369.82,346.84 368.96,347.58 369.22,348.68 368.25,348.09 367.28,348.68 367.54,347.58 366.68,346.84 367.81,346.75" fill="#111" stroke="#111" stroke-width="0.3"/>
<line x1="373.25" y1="372.5" x2="392" y2="372.5" stroke="#222" stroke-width="1.0"/>
<polygon points="382.62,366.95 383.06,368 384.19,368.09 383.33,368.83 383.59,369.93 382.62,369.34 381.66,369.93 381.92,368.83 381.06,368.09 382.19,368" fill="#111" stroke="#111" stroke-width="0.3"/>
<line x1="358.5" y1="417" x2="358.5" y2="419.5" stroke="#111" stroke-width="0.8"/>
<text x="358.5" y="431" font-size="8.2" text-anchor="middle" fill="#111" stroke="#111" stroke-width="0.15" textLength="3.8" lengthAdjust="spacingAndGlyphs">0</text>
<line x1="374.4" y1="417" x2="374.4" y2="419.5" stroke="#111" stroke-width="0.8"/>
<text x="374.4" y="431" font-size="8.2" text-anchor="middle" fill="#111" stroke="#111" stroke-width="0.15" textLength="7.6" lengthAdjust="spacingAndGlyphs">20</text>
<line x1="390.2" y1="417" x2="390.2" y2="419.5" stroke="#111" stroke-width="0.8"/>
<text x="390.2" y="431" font-size="8.2" text-anchor="middle" fill="#111" stroke="#111" stroke-width="0.15" textLength="7.6" lengthAdjust="spacingAndGlyphs">60</text>
<text x="374.5" y="441.8" font-size="9.8" text-anchor="middle" fill="#111" stroke="#111" stroke-width="0.15" textLength="66" lengthAdjust="spacingAndGlyphs">Anti-ERp46 (µg/ml)</text>
<text x="7.5" y="465.4" font-size="11.2" text-anchor="start" fill="#000" font-weight="bold">G</text>
<text x="66" y="465.8" font-size="10.3" text-anchor="start" fill="#111" stroke="#111" stroke-width="0.15" textLength="71.5" lengthAdjust="spacingAndGlyphs">Before activation</text>
<rect x="49.5" y="471" width="104" height="76.2" fill="none" stroke="#111" stroke-width="1"/>
<line x1="45.5" y1="471.25" x2="49.5" y2="471.25" stroke="#111" stroke-width="0.9"/>
<text x="43.5" y="474.3" font-size="8.2" text-anchor="end" fill="#111" stroke="#111" stroke-width="0.15" textLength="12.75" lengthAdjust="spacingAndGlyphs">200</text>
<line x1="46.7" y1="474.35" x2="49.5" y2="474.35" stroke="#111" stroke-width="0.9"/>
<line x1="46.7" y1="477.45" x2="49.5" y2="477.45" stroke="#111" stroke-width="0.9"/>
<line x1="46.7" y1="480.55" x2="49.5" y2="480.55" stroke="#111" stroke-width="0.9"/>
<line x1="46.7" y1="483.65" x2="49.5" y2="483.65" stroke="#111" stroke-width="0.9"/>
<line x1="45.5" y1="486.75" x2="49.5" y2="486.75" stroke="#111" stroke-width="0.9"/>
<text x="43.5" y="489.8" font-size="8.2" text-anchor="end" fill="#111" stroke="#111" stroke-width="0.15" textLength="12.75" lengthAdjust="spacingAndGlyphs">150</text>
<line x1="46.7" y1="489.8" x2="49.5" y2="489.8" stroke="#111" stroke-width="0.9"/>
<line x1="46.7" y1="492.85" x2="49.5" y2="492.85" stroke="#111" stroke-width="0.9"/>
<line x1="46.7" y1="495.9" x2="49.5" y2="495.9" stroke="#111" stroke-width="0.9"/>
<line x1="46.7" y1="498.95" x2="49.5" y2="498.95" stroke="#111" stroke-width="0.9"/>
<line x1="45.5" y1="502" x2="49.5" y2="502" stroke="#111" stroke-width="0.9"/>
<text x="43.5" y="505.05" font-size="8.2" text-anchor="end" fill="#111" stroke="#111" stroke-width="0.15" textLength="12.75" lengthAdjust="spacingAndGlyphs">120</text>
<line x1="46.7" y1="505.1" x2="49.5" y2="505.1" stroke="#111" stroke-width="0.9"/>
<line x1="46.7" y1="508.2" x2="49.5" y2="508.2" stroke="#111" stroke-width="0.9"/>
<line x1="46.7" y1="511.3" x2="49.5" y2="511.3" stroke="#111" stroke-width="0.9"/>
<line x1="46.7" y1="514.4" x2="49.5" y2="514.4" stroke="#111" stroke-width="0.9"/>
<line x1="45.5" y1="517.5" x2="49.5" y2="517.5" stroke="#111" stroke-width="0.9"/>
<text x="43.5" y="520.55" font-size="8.2" text-anchor="end" fill="#111" stroke="#111" stroke-width="0.15" textLength="8.5" lengthAdjust="spacingAndGlyphs">80</text>
<line x1="46.7" y1="520.5" x2="49.5" y2="520.5" stroke="#111" stroke-width="0.9"/>
<line x1="46.7" y1="523.5" x2="49.5" y2="523.5" stroke="#111" stroke-width="0.9"/>
<line x1="46.7" y1="526.5" x2="49.5" y2="526.5" stroke="#111" stroke-width="0.9"/>
<line x1="46.7" y1="529.5" x2="49.5" y2="529.5" stroke="#111" stroke-width="0.9"/>
<line x1="45.5" y1="532.5" x2="49.5" y2="532.5" stroke="#111" stroke-width="0.9"/>
<text x="43.5" y="535.55" font-size="8.2" text-anchor="end" fill="#111" stroke="#111" stroke-width="0.15" textLength="8.5" lengthAdjust="spacingAndGlyphs">40</text>
<line x1="46.7" y1="535.44" x2="49.5" y2="535.44" stroke="#111" stroke-width="0.9"/>
<line x1="46.7" y1="538.38" x2="49.5" y2="538.38" stroke="#111" stroke-width="0.9"/>
<line x1="46.7" y1="541.32" x2="49.5" y2="541.32" stroke="#111" stroke-width="0.9"/>
<line x1="46.7" y1="544.26" x2="49.5" y2="544.26" stroke="#111" stroke-width="0.9"/>
<line x1="45.5" y1="547.2" x2="49.5" y2="547.2" stroke="#111" stroke-width="0.9"/>
<text x="43.5" y="550.25" font-size="8.2" text-anchor="end" fill="#111" stroke="#111" stroke-width="0.15" textLength="4.25" lengthAdjust="spacingAndGlyphs">0</text>
<line x1="49.5" y1="547.2" x2="49.5" y2="551.2" stroke="#111" stroke-width="0.9"/>
<line x1="57.33" y1="547.2" x2="57.33" y2="549.8" stroke="#111" stroke-width="0.8"/>
<line x1="61.91" y1="547.2" x2="61.91" y2="549.8" stroke="#111" stroke-width="0.8"/>
<line x1="65.15" y1="547.2" x2="65.15" y2="549.8" stroke="#111" stroke-width="0.8"/>
<line x1="67.67" y1="547.2" x2="67.67" y2="549.8" stroke="#111" stroke-width="0.8"/>
<line x1="69.73" y1="547.2" x2="69.73" y2="549.8" stroke="#111" stroke-width="0.8"/>
<line x1="71.47" y1="547.2" x2="71.47" y2="549.8" stroke="#111" stroke-width="0.8"/>
<line x1="72.98" y1="547.2" x2="72.98" y2="549.8" stroke="#111" stroke-width="0.8"/>
<line x1="74.31" y1="547.2" x2="74.31" y2="549.8" stroke="#111" stroke-width="0.8"/>
<line x1="75.5" y1="547.2" x2="75.5" y2="551.2" stroke="#111" stroke-width="0.9"/>
<line x1="83.33" y1="547.2" x2="83.33" y2="549.8" stroke="#111" stroke-width="0.8"/>
<line x1="87.91" y1="547.2" x2="87.91" y2="549.8" stroke="#111" stroke-width="0.8"/>
<line x1="91.15" y1="547.2" x2="91.15" y2="549.8" stroke="#111" stroke-width="0.8"/>
<line x1="93.67" y1="547.2" x2="93.67" y2="549.8" stroke="#111" stroke-width="0.8"/>
<line x1="95.73" y1="547.2" x2="95.73" y2="549.8" stroke="#111" stroke-width="0.8"/>
<line x1="97.47" y1="547.2" x2="97.47" y2="549.8" stroke="#111" stroke-width="0.8"/>
<line x1="98.98" y1="547.2" x2="98.98" y2="549.8" stroke="#111" stroke-width="0.8"/>
<line x1="100.31" y1="547.2" x2="100.31" y2="549.8" stroke="#111" stroke-width="0.8"/>
<line x1="101.5" y1="547.2" x2="101.5" y2="551.2" stroke="#111" stroke-width="0.9"/>
<line x1="109.33" y1="547.2" x2="109.33" y2="549.8" stroke="#111" stroke-width="0.8"/>
<line x1="113.91" y1="547.2" x2="113.91" y2="549.8" stroke="#111" stroke-width="0.8"/>
<line x1="117.15" y1="547.2" x2="117.15" y2="549.8" stroke="#111" stroke-width="0.8"/>
<line x1="119.67" y1="547.2" x2="119.67" y2="549.8" stroke="#111" stroke-width="0.8"/>
<line x1="121.73" y1="547.2" x2="121.73" y2="549.8" stroke="#111" stroke-width="0.8"/>
<line x1="123.47" y1="547.2" x2="123.47" y2="549.8" stroke="#111" stroke-width="0.8"/>
<line x1="124.98" y1="547.2" x2="124.98" y2="549.8" stroke="#111" stroke-width="0.8"/>
<line x1="126.31" y1="547.2" x2="126.31" y2="549.8" stroke="#111" stroke-width="0.8"/>
<line x1="127.5" y1="547.2" x2="127.5" y2="551.2" stroke="#111" stroke-width="0.9"/>
<line x1="135.33" y1="547.2" x2="135.33" y2="549.8" stroke="#111" stroke-width="0.8"/>
<line x1="139.91" y1="547.2" x2="139.91" y2="549.8" stroke="#111" stroke-width="0.8"/>
<line x1="143.15" y1="547.2" x2="143.15" y2="549.8" stroke="#111" stroke-width="0.8"/>
<line x1="145.67" y1="547.2" x2="145.67" y2="549.8" stroke="#111" stroke-width="0.8"/>
<line x1="147.73" y1="547.2" x2="147.73" y2="549.8" stroke="#111" stroke-width="0.8"/>
<line x1="149.47" y1="547.2" x2="149.47" y2="549.8" stroke="#111" stroke-width="0.8"/>
<line x1="150.98" y1="547.2" x2="150.98" y2="549.8" stroke="#111" stroke-width="0.8"/>
<line x1="152.31" y1="547.2" x2="152.31" y2="549.8" stroke="#111" stroke-width="0.8"/>
<line x1="153.5" y1="547.2" x2="153.5" y2="551.2" stroke="#111" stroke-width="0.9"/>
<text x="44.6" y="560.8" font-size="8.2" text-anchor="start" fill="#111" stroke="#111" stroke-width="0.15" textLength="7.6" lengthAdjust="spacingAndGlyphs">10</text>
<text x="52.3" y="557.7" font-size="6.3" text-anchor="start" fill="#111" stroke="#111" stroke-width="0.15" textLength="3.5" lengthAdjust="spacingAndGlyphs">0</text>
<text x="70.6" y="560.8" font-size="8.2" text-anchor="start" fill="#111" stroke="#111" stroke-width="0.15" textLength="7.6" lengthAdjust="spacingAndGlyphs">10</text>
<text x="78.3" y="557.7" font-size="6.3" text-anchor="start" fill="#111" stroke="#111" stroke-width="0.15" textLength="3.5" lengthAdjust="spacingAndGlyphs">1</text>
<text x="96.6" y="560.8" font-size="8.2" text-anchor="start" fill="#111" stroke="#111" stroke-width="0.15" textLength="7.6" lengthAdjust="spacingAndGlyphs">10</text>
<text x="104.3" y="557.7" font-size="6.3" text-anchor="start" fill="#111" stroke="#111" stroke-width="0.15" textLength="3.5" lengthAdjust="spacingAndGlyphs">2</text>
<text x="122.6" y="560.8" font-size="8.2" text-anchor="start" fill="#111" stroke="#111" stroke-width="0.15" textLength="7.6" lengthAdjust="spacingAndGlyphs">10</text>
<text x="130.3" y="557.7" font-size="6.3" text-anchor="start" fill="#111" stroke="#111" stroke-width="0.15" textLength="3.5" lengthAdjust="spacingAndGlyphs">3</text>
<text x="148.6" y="560.8" font-size="8.2" text-anchor="start" fill="#111" stroke="#111" stroke-width="0.15" textLength="7.6" lengthAdjust="spacingAndGlyphs">10</text>
<text x="156.3" y="557.7" font-size="6.3" text-anchor="start" fill="#111" stroke="#111" stroke-width="0.15" textLength="3.5" lengthAdjust="spacingAndGlyphs">4</text>
<text x="27" y="511" font-size="10" text-anchor="middle" fill="#111" stroke="#111" stroke-width="0.15" transform="rotate(-90 27 511)" textLength="19.7" lengthAdjust="spacingAndGlyphs">Count</text>
<text x="101.5" y="572.4" font-size="9.7" text-anchor="middle" fill="#111" stroke="#111" stroke-width="0.15" textLength="13.4" lengthAdjust="spacingAndGlyphs">FITC</text>
<line x1="50" y1="502.5" x2="50" y2="547" stroke="#3cb54a" stroke-width="1.0"/>
<polyline points="50.5,532.82 50.87,533.61 51.35,533.16 51.92,532.45 52.56,531.44 53.25,532.16 53.96,531.64 54.67,530.4 55.35,529.72 56,528.41 56.62,527.11 57.26,527.14 57.9,526.78 58.55,524.65 59.19,525.42 59.82,523.04 60.43,521.96 61.03,520.33 61.6,521.58 62.3,519.25 62.98,517.78 63.63,515.12 64.25,511.46 64.86,510.27 65.44,508.81 66,505.85 66.73,506.02 67.4,501.98 68.03,499.12 68.66,499.13 69.3,494.77 69.99,495.24 70.7,491.39 71.4,489.57 72.05,486.94 72.6,485.95 73.43,482.81 74.2,482.14 74.83,485.81 75.56,484.78 76.31,488.33 77,488.29 77.81,494.01 78.56,497.46 79.3,501.21 80.04,506.21 80.77,511.14 81.5,516.53 82.19,518.96 82.89,523.42 83.7,527.66 84.27,528.38 84.89,532.15 85.55,534.15 86.25,535.1 87,536.65 87.53,537.75 88.05,538.43 88.57,540.14 89.14,539.67 89.78,539.59 90.53,540.18 91.4,541.64 91.89,542.3 92.42,541.73 92.97,541.92 93.55,542.19 94.16,542.65 94.79,542.02 95.44,542.74 96.1,542.8 96.78,543.03 97.47,542.53 98.17,542.64 98.88,543.03 99.59,543.97 100.3,543.29 100.84,543.74 101.37,543.43 101.88,543.25 102.39,543.29 102.89,544.39 103.4,544.43 103.91,543.97 104.43,544.46 104.97,544.53 105.53,544.9 106.11,545.05 106.73,544.41 107.37,545.23 108.06,545.27 108.79,544.88 109.57,545.32 110.41,544.91 111.3,544.85 111.76,544.73 112.23,545.54 112.72,544.71 113.23,544.64 113.76,545.57 114.29,545.57 114.84,545.27 115.41,545.73 115.98,544.84 116.57,545.13 117.16,545.21 117.77,545.4 118.38,545.16 119,545.09 119.63,545.44 120.26,546.12 120.9,546.25 121.55,546.02 122.19,545.77 122.84,545.55 123.49,546.38 124.15,545.94 124.8,546.2 125.45,545.48 126.1,545.71 126.75,546.42 127.4,546.41 128.04,546.53 128.67,546.27 129.31,546.12 129.93,546.32 130.55,546.62 131.16,546.1 131.76,546.36 132.35,546.12 132.93,546.64 133.5,545.91 134.16,546.61 134.83,546.9 135.51,546.01 136.2,546.59 136.9,546.66 137.6,546.88 138.31,546.64 139.02,546.35 139.73,546.51 140.45,547 141.16,547 141.87,546.3 142.57,546.28 143.27,546.29 143.96,546.24 144.64,546.64 145.31,546.37 145.96,547 146.61,546.86 147.23,546.38 147.84,546.77 148.44,546.58 149.01,546.74 149.56,546.5 150.09,546.46 150.59,546.48 151.07,546.66 151.51,546.96 151.93,546.83 152.32,546.39 152.68,546.98 153,547" fill="none" stroke="#3cb54a" stroke-width="1.25" stroke-linejoin="round" opacity="1"/>
<polyline points="50.5,545.01 50.87,543.5 51.34,543.23 51.88,544.9 52.49,543.35 53.15,543.14 53.85,544.01 54.58,543.33 55.34,544.21 56.1,542.84 56.85,544.05 57.59,542.66 58.3,543 58.89,543.45 59.48,542.75 60.08,542.99 60.67,542.29 61.27,540.65 61.88,542.1 62.49,541.19 63.12,540.29 63.75,539.73 64.39,540.89 65.04,540.02 65.71,540.56 66.4,539.95 67.1,540.16 67.66,539.1 68.23,539.26 68.82,538.92 69.41,537.96 70.02,539.49 70.63,537.85 71.25,538.86 71.88,539.17 72.51,538.34 73.15,537.01 73.78,538.55 74.42,538.07 75.06,536.78 75.7,536.33 76.33,537.39 76.96,536.03 77.58,538.1 78.2,536.92 78.82,536.79 79.44,536.35 80.06,536.82 80.69,537.3 81.32,535.57 81.95,535.56 82.58,535.91 83.21,534.99 83.84,535.57 84.46,535.25 85.08,534.77 85.69,535.21 86.3,534.63 86.9,533.26 87.49,535.5 88.07,533.59 88.64,533.6 89.2,533.34 89.91,534.54 90.6,534.37 91.29,532.93 91.96,532.39 92.63,531.31 93.28,533.31 93.92,531.04 94.56,531.86 95.18,531.06 95.79,530.76 96.38,530.59 96.97,529.85 97.54,529.13 98.1,530.3 98.79,530.72 99.45,529.94 100.1,528.27 100.72,529.39 101.32,527.1 101.9,527.81 102.48,528.69 103.04,528.57 103.6,526.69 104.15,527.42 104.7,525.8 105.36,525.2 106.02,524.71 106.65,525.34 107.27,523.78 107.88,522.07 108.48,522.06 109.07,520.82 109.64,518.76 110.2,519.11 110.91,517.5 111.59,514.71 112.26,513.78 112.91,507.96 113.53,507.6 114.13,506.07 114.7,503.04 115.46,500.1 116.18,500.28 116.85,497.4 117.46,495.14 118,492.87 118.89,494.95 119.7,491.94 120.29,491.5 120.95,493.03 121.66,494.84 122.4,499.78 123.02,499.32 123.68,502.77 124.35,505.42 125.03,510.33 125.7,512.61 126.34,516.29 126.96,520.88 127.59,524.66 128.26,527.35 129,527.72 129.56,530.61 130.14,533.74 130.73,533.25 131.36,535.35 132.03,537.59 132.74,538.71 133.5,540.75 134.05,541.42 134.58,541.54 135.13,541.69 135.69,542.19 136.27,542.74 136.91,542.8 137.59,544.28 138.34,543.74 139.18,545.33 140.1,545.24 140.59,544.44 141.14,545.29 141.73,545.59 142.35,544.85 143.01,545.65 143.7,545.09 144.41,546.28 145.13,545.27 145.86,546.26 146.6,546.84 147.33,546.72 148.04,545.95 148.74,546.43 149.42,545.97 150.07,546.3 150.68,547 151.26,547 151.78,546.06 152.25,546.56 152.66,546.92 153,546.42" fill="none" stroke="#c8163c" stroke-width="1.25" stroke-linejoin="round" opacity="1"/>
<polyline points="50.5,545.41 50.88,545.37 51.36,545.15 51.93,543.43 52.57,544.29 53.26,543.8 53.99,543.84 54.74,542.82 55.5,542.73 56.25,543.04 56.98,542.31 57.67,542.57 58.3,541.34 58.95,541.14 59.57,542.22 60.19,541.17 60.79,540.99 61.38,541.12 61.97,539.77 62.55,538.57 63.13,539.99 63.72,539.06 64.3,538.83 64.9,538.33 65.56,538.85 66.24,536.76 66.91,537.45 67.59,535.92 68.27,536.08 68.94,535.91 69.6,534.46 70.25,533.32 70.88,534.01 71.5,534.27 72.18,533.3 72.86,532.23 73.53,532.19 74.2,530.04 74.84,529.34 75.44,529.15 76.01,530.18 76.54,527.49 77,526.68 77.93,525.07 78.5,523.57 79.3,523.89 79.81,525.14 80.37,526.47 80.98,525.34 81.63,526.17 82.3,526.53 83,527.09 83.7,528.95 84.27,528.17 84.87,527.06 85.49,526.34 86.13,528.42 86.77,527.85 87.41,527.94 88.03,525.52 88.63,526.27 89.2,527.29 89.88,525.72 90.5,526.53 91.1,523.2 91.69,525.67 92.29,521.84 92.92,522.82 93.6,521.12 94.17,523.99 94.77,523.55 95.38,524.7 96.01,524.2 96.65,524.88 97.3,523.51 97.94,525.3 98.58,524.5 99.2,523.03 99.82,525.32 100.43,523.06 101.04,522.31 101.65,521.78 102.26,523.11 102.87,521.97 103.48,524.54 104.09,524.41 104.7,521.43 105.32,520.74 105.96,522.05 106.61,520.35 107.26,521.41 107.9,522.06 108.52,519.51 109.12,519.75 109.68,521.19 110.2,518.98 111.03,517.75 111.75,519.05 112.4,517.81 113,517.26 113.6,515.58 114.3,513.3 114.93,513.3 115.55,513.01 116.2,512 116.89,510.95 117.61,512.51 118.34,514.71 119.1,518.1 119.72,518.91 120.34,520.79 120.98,523.87 121.66,523.35 122.4,527.36 122.97,527.9 123.58,530.34 124.21,532.93 124.86,532.8 125.51,536.53 126.16,535.51 126.8,538.17 127.41,539.22 127.99,539.41 128.57,541.07 129.15,541.6 129.78,542.22 130.45,543.41 131.2,542.46 131.69,543.58 132.16,544.69 132.63,543.67 133.11,545.29 133.62,544.23 134.16,545.3 134.75,544.52 135.4,545.18 136.14,545.28 136.97,544.83 137.9,546.04 138.36,545.73 138.87,546.14 139.42,545.95 140,546.04 140.62,546.05 141.27,545.74 141.94,546.75 142.64,545.52 143.34,546.81 144.06,546.83 144.78,546.32 145.51,546.78 146.23,546.67 146.94,546.61 147.64,546.19 148.33,546.27 148.99,546.35 149.63,546.32 150.24,547 150.81,546.45 151.35,546.54 151.84,546.62 152.28,547 152.67,546.75 153,546.87" fill="none" stroke="#1b4f8a" stroke-width="1.25" stroke-linejoin="round" opacity="1"/>
<text x="58" y="481.5" font-size="8.5" text-anchor="start" fill="#3cb54a" stroke="#3cb54a" stroke-width="0.15" textLength="29" lengthAdjust="spacingAndGlyphs">Non-act</text>
<text x="113.8" y="490.3" font-size="8.5" text-anchor="start" fill="#c8163c" stroke="#c8163c" stroke-width="0.15" textLength="21.5" lengthAdjust="spacingAndGlyphs">nl IgG</text>
<text x="88" y="505.8" font-size="8.5" text-anchor="start" fill="#2c5f99" stroke="#2c5f99" stroke-width="0.15" textLength="17" lengthAdjust="spacingAndGlyphs">Anti-</text>
<text x="85" y="515.3" font-size="8.5" text-anchor="start" fill="#2c5f99" stroke="#2c5f99" stroke-width="0.15" textLength="23" lengthAdjust="spacingAndGlyphs">ERp46</text>
<line x1="235" y1="466.25" x2="235" y2="548.85" stroke="#1a1a1a" stroke-width="1.2"/>
<line x1="234.4" y1="548.25" x2="290" y2="548.25" stroke="#1a1a1a" stroke-width="1.2"/>
<line x1="232" y1="548.25" x2="235" y2="548.25" stroke="#111" stroke-width="0.8"/>
<text x="228.75" y="551.3" font-size="8.2" text-anchor="end" fill="#111" stroke="#111" stroke-width="0.15" textLength="4.25" lengthAdjust="spacingAndGlyphs">0</text>
<line x1="232" y1="522" x2="235" y2="522" stroke="#111" stroke-width="0.8"/>
<text x="228.75" y="525.05" font-size="8.2" text-anchor="end" fill="#111" stroke="#111" stroke-width="0.15" textLength="12.75" lengthAdjust="spacingAndGlyphs">150</text>
<line x1="232" y1="495.75" x2="235" y2="495.75" stroke="#111" stroke-width="0.8"/>
<text x="228.75" y="498.8" font-size="8.2" text-anchor="end" fill="#111" stroke="#111" stroke-width="0.15" textLength="12.75" lengthAdjust="spacingAndGlyphs">300</text>
<line x1="232" y1="469.25" x2="235" y2="469.25" stroke="#111" stroke-width="0.8"/>
<text x="228.75" y="472.3" font-size="8.2" text-anchor="end" fill="#111" stroke="#111" stroke-width="0.15" textLength="12.75" lengthAdjust="spacingAndGlyphs">450</text>
<text x="207.3" y="505.6" font-size="8.9" text-anchor="middle" fill="#111" stroke="#111" stroke-width="0.15" transform="rotate(-90 207.3 505.6)" textLength="73.5" lengthAdjust="spacingAndGlyphs">Binding of PAC1 (MFI)</text>
<rect x="240.3" y="546.05" width="10.65" height="2.2" fill="#a3dca3" stroke="#93d093" stroke-width="0.6"/>
<rect x="257.3" y="477.8" width="9.9" height="70.45" fill="#e18a99" stroke="#d97a8c" stroke-width="0.6"/>
<rect x="273.55" y="510.3" width="10.15" height="37.95" fill="#88a8c6" stroke="#7898ba" stroke-width="0.6"/>
<circle cx="241.5" cy="545.6" r="1.1" fill="#22a63a"/>
<circle cx="244" cy="545.6" r="1.1" fill="#22a63a"/>
<circle cx="246.5" cy="545.6" r="1.1" fill="#22a63a"/>
<circle cx="249" cy="545.6" r="1.1" fill="#22a63a"/>
<line x1="262.2" y1="473" x2="262.2" y2="482" stroke="#c40c33" stroke-width="0.7"/>
<line x1="260.7" y1="473" x2="263.7" y2="473" stroke="#c40c33" stroke-width="0.7"/>
<line x1="260.7" y1="482" x2="263.7" y2="482" stroke="#c40c33" stroke-width="0.7"/>
<line x1="278.6" y1="505.7" x2="278.6" y2="513.1" stroke="#1a4f8c" stroke-width="0.7"/>
<line x1="276.6" y1="505.7" x2="280.6" y2="505.7" stroke="#1a4f8c" stroke-width="0.7"/>
<line x1="276.6" y1="513.1" x2="280.6" y2="513.1" stroke="#1a4f8c" stroke-width="0.7"/>
<circle cx="262.1" cy="471.5" r="1.3" fill="#c40c33"/>
<circle cx="257.8" cy="478.3" r="1.3" fill="#c40c33"/>
<circle cx="266.4" cy="478.3" r="1.3" fill="#c40c33"/>
<circle cx="262.1" cy="484.1" r="1.3" fill="#c40c33"/>
<circle cx="274" cy="507.4" r="1.2" fill="#1a4f8c"/>
<circle cx="278.3" cy="505.8" r="1.2" fill="#1a4f8c"/>
<circle cx="282.5" cy="508.8" r="1.2" fill="#1a4f8c"/>
<circle cx="278.2" cy="517.1" r="1.2" fill="#1a4f8c"/>
<line x1="243.75" y1="458" x2="283.25" y2="458" stroke="#222" stroke-width="1.0"/>
<polygon points="257.8,452.45 258.24,453.5 259.37,453.59 258.51,454.33 258.77,455.43 257.8,454.84 256.83,455.43 257.09,454.33 256.23,453.59 257.36,453.5" fill="#111" stroke="#111" stroke-width="0.3"/>
<polygon points="261.6,452.45 262.04,453.5 263.17,453.59 262.31,454.33 262.57,455.43 261.6,454.84 260.63,455.43 260.89,454.33 260.03,453.59 261.16,453.5" fill="#111" stroke="#111" stroke-width="0.3"/>
<polygon points="265.4,452.45 265.84,453.5 266.97,453.59 266.11,454.33 266.37,455.43 265.4,454.84 264.43,455.43 264.69,454.33 263.83,453.59 264.96,453.5" fill="#111" stroke="#111" stroke-width="0.3"/>
<polygon points="269.2,452.45 269.64,453.5 270.77,453.59 269.91,454.33 270.17,455.43 269.2,454.84 268.23,455.43 268.49,454.33 267.63,453.59 268.76,453.5" fill="#111" stroke="#111" stroke-width="0.3"/>
<line x1="243.75" y1="468.25" x2="262.5" y2="468.25" stroke="#222" stroke-width="1.0"/>
<polygon points="247.43,462.7 247.86,463.75 248.99,463.84 248.13,464.58 248.39,465.68 247.43,465.09 246.46,465.68 246.72,464.58 245.86,463.84 246.99,463.75" fill="#111" stroke="#111" stroke-width="0.3"/>
<polygon points="251.22,462.7 251.66,463.75 252.79,463.84 251.93,464.58 252.19,465.68 251.22,465.09 250.26,465.68 250.52,464.58 249.66,463.84 250.79,463.75" fill="#111" stroke="#111" stroke-width="0.3"/>
<polygon points="255.03,462.7 255.46,463.75 256.59,463.84 255.73,464.58 255.99,465.68 255.03,465.09 254.06,465.68 254.32,464.58 253.46,463.84 254.59,463.75" fill="#111" stroke="#111" stroke-width="0.3"/>
<polygon points="258.82,462.7 259.26,463.75 260.39,463.84 259.53,464.58 259.79,465.68 258.82,465.09 257.86,465.68 258.12,464.58 257.26,463.84 258.39,463.75" fill="#111" stroke="#111" stroke-width="0.3"/>
<line x1="265" y1="468.25" x2="283.25" y2="468.25" stroke="#222" stroke-width="1.0"/>
<polygon points="268.43,462.7 268.86,463.75 269.99,463.84 269.13,464.58 269.39,465.68 268.43,465.09 267.46,465.68 267.72,464.58 266.86,463.84 267.99,463.75" fill="#111" stroke="#111" stroke-width="0.3"/>
<polygon points="272.23,462.7 272.66,463.75 273.79,463.84 272.93,464.58 273.19,465.68 272.23,465.09 271.26,465.68 271.52,464.58 270.66,463.84 271.79,463.75" fill="#111" stroke="#111" stroke-width="0.3"/>
<polygon points="276.02,462.7 276.46,463.75 277.59,463.84 276.73,464.58 276.99,465.68 276.02,465.09 275.06,465.68 275.32,464.58 274.46,463.84 275.59,463.75" fill="#111" stroke="#111" stroke-width="0.3"/>
<polygon points="279.82,462.7 280.26,463.75 281.39,463.84 280.53,464.58 280.79,465.68 279.82,465.09 278.86,465.68 279.12,464.58 278.26,463.84 279.39,463.75" fill="#111" stroke="#111" stroke-width="0.3"/>
<line x1="245.6" y1="548.25" x2="245.6" y2="551" stroke="#111" stroke-width="0.8"/>
<line x1="262.2" y1="548.25" x2="262.2" y2="551" stroke="#111" stroke-width="0.8"/>
<line x1="278.6" y1="548.25" x2="278.6" y2="551" stroke="#111" stroke-width="0.8"/>
<text x="248.5" y="557" font-size="8" text-anchor="end" fill="#111" stroke="#111" stroke-width="0.15" transform="rotate(-45 248.5 557)">Non-act</text>
<text x="265" y="557" font-size="8" text-anchor="end" fill="#111" stroke="#111" stroke-width="0.15" transform="rotate(-45 265 557)">nl IgG</text>
<text x="280" y="556" font-size="8" text-anchor="end" fill="#111" stroke="#111" stroke-width="0.15" transform="rotate(-45 280 556)">Anti-</text>
<text x="287.5" y="561.8" font-size="8" text-anchor="end" fill="#111" stroke="#111" stroke-width="0.15" transform="rotate(-45 287.5 561.8)">ERp46</text>
<text x="336.5" y="466.4" font-size="11.2" text-anchor="start" fill="#000" font-weight="bold">H</text>
<text x="385.5" y="466.3" font-size="10.3" text-anchor="start" fill="#111" stroke="#111" stroke-width="0.15" textLength="64" lengthAdjust="spacingAndGlyphs">After activation</text>
<rect x="376" y="471" width="85" height="76.2" fill="none" stroke="#111" stroke-width="1"/>
<line x1="372" y1="471.25" x2="376" y2="471.25" stroke="#111" stroke-width="0.9"/>
<text x="371.3" y="475.1" font-size="8.2" text-anchor="end" fill="#111" stroke="#111" stroke-width="0.15" textLength="12.75" lengthAdjust="spacingAndGlyphs">200</text>
<line x1="373.2" y1="474.35" x2="376" y2="474.35" stroke="#111" stroke-width="0.9"/>
<line x1="373.2" y1="477.45" x2="376" y2="477.45" stroke="#111" stroke-width="0.9"/>
<line x1="373.2" y1="480.55" x2="376" y2="480.55" stroke="#111" stroke-width="0.9"/>
<line x1="373.2" y1="483.65" x2="376" y2="483.65" stroke="#111" stroke-width="0.9"/>
<line x1="372" y1="486.75" x2="376" y2="486.75" stroke="#111" stroke-width="0.9"/>
<text x="371.3" y="490.6" font-size="8.2" text-anchor="end" fill="#111" stroke="#111" stroke-width="0.15" textLength="12.75" lengthAdjust="spacingAndGlyphs">150</text>
<line x1="373.2" y1="489.8" x2="376" y2="489.8" stroke="#111" stroke-width="0.9"/>
<line x1="373.2" y1="492.85" x2="376" y2="492.85" stroke="#111" stroke-width="0.9"/>
<line x1="373.2" y1="495.9" x2="376" y2="495.9" stroke="#111" stroke-width="0.9"/>
<line x1="373.2" y1="498.95" x2="376" y2="498.95" stroke="#111" stroke-width="0.9"/>
<line x1="372" y1="502" x2="376" y2="502" stroke="#111" stroke-width="0.9"/>
<text x="371.3" y="505.85" font-size="8.2" text-anchor="end" fill="#111" stroke="#111" stroke-width="0.15" textLength="12.75" lengthAdjust="spacingAndGlyphs">120</text>
<line x1="373.2" y1="505.1" x2="376" y2="505.1" stroke="#111" stroke-width="0.9"/>
<line x1="373.2" y1="508.2" x2="376" y2="508.2" stroke="#111" stroke-width="0.9"/>
<line x1="373.2" y1="511.3" x2="376" y2="511.3" stroke="#111" stroke-width="0.9"/>
<line x1="373.2" y1="514.4" x2="376" y2="514.4" stroke="#111" stroke-width="0.9"/>
<line x1="372" y1="517.5" x2="376" y2="517.5" stroke="#111" stroke-width="0.9"/>
<text x="371.3" y="521.35" font-size="8.2" text-anchor="end" fill="#111" stroke="#111" stroke-width="0.15" textLength="8.5" lengthAdjust="spacingAndGlyphs">80</text>
<line x1="373.2" y1="520.5" x2="376" y2="520.5" stroke="#111" stroke-width="0.9"/>
<line x1="373.2" y1="523.5" x2="376" y2="523.5" stroke="#111" stroke-width="0.9"/>
<line x1="373.2" y1="526.5" x2="376" y2="526.5" stroke="#111" stroke-width="0.9"/>
<line x1="373.2" y1="529.5" x2="376" y2="529.5" stroke="#111" stroke-width="0.9"/>
<line x1="372" y1="532.5" x2="376" y2="532.5" stroke="#111" stroke-width="0.9"/>
<text x="371.3" y="536.35" font-size="8.2" text-anchor="end" fill="#111" stroke="#111" stroke-width="0.15" textLength="8.5" lengthAdjust="spacingAndGlyphs">40</text>
<line x1="373.2" y1="535.44" x2="376" y2="535.44" stroke="#111" stroke-width="0.9"/>
<line x1="373.2" y1="538.38" x2="376" y2="538.38" stroke="#111" stroke-width="0.9"/>
<line x1="373.2" y1="541.32" x2="376" y2="541.32" stroke="#111" stroke-width="0.9"/>
<line x1="373.2" y1="544.26" x2="376" y2="544.26" stroke="#111" stroke-width="0.9"/>
<line x1="372" y1="547.2" x2="376" y2="547.2" stroke="#111" stroke-width="0.9"/>
<text x="371.3" y="551.05" font-size="8.2" text-anchor="end" fill="#111" stroke="#111" stroke-width="0.15" textLength="4.25" lengthAdjust="spacingAndGlyphs">0</text>
<line x1="376" y1="547.2" x2="376" y2="551.2" stroke="#111" stroke-width="0.9"/>
<line x1="382.4" y1="547.2" x2="382.4" y2="549.8" stroke="#111" stroke-width="0.8"/>
<line x1="386.14" y1="547.2" x2="386.14" y2="549.8" stroke="#111" stroke-width="0.8"/>
<line x1="388.79" y1="547.2" x2="388.79" y2="549.8" stroke="#111" stroke-width="0.8"/>
<line x1="390.85" y1="547.2" x2="390.85" y2="549.8" stroke="#111" stroke-width="0.8"/>
<line x1="392.54" y1="547.2" x2="392.54" y2="549.8" stroke="#111" stroke-width="0.8"/>
<line x1="393.96" y1="547.2" x2="393.96" y2="549.8" stroke="#111" stroke-width="0.8"/>
<line x1="395.19" y1="547.2" x2="395.19" y2="549.8" stroke="#111" stroke-width="0.8"/>
<line x1="396.28" y1="547.2" x2="396.28" y2="549.8" stroke="#111" stroke-width="0.8"/>
<line x1="397.25" y1="547.2" x2="397.25" y2="551.2" stroke="#111" stroke-width="0.9"/>
<line x1="403.65" y1="547.2" x2="403.65" y2="549.8" stroke="#111" stroke-width="0.8"/>
<line x1="407.39" y1="547.2" x2="407.39" y2="549.8" stroke="#111" stroke-width="0.8"/>
<line x1="410.04" y1="547.2" x2="410.04" y2="549.8" stroke="#111" stroke-width="0.8"/>
<line x1="412.1" y1="547.2" x2="412.1" y2="549.8" stroke="#111" stroke-width="0.8"/>
<line x1="413.79" y1="547.2" x2="413.79" y2="549.8" stroke="#111" stroke-width="0.8"/>
<line x1="415.21" y1="547.2" x2="415.21" y2="549.8" stroke="#111" stroke-width="0.8"/>
<line x1="416.44" y1="547.2" x2="416.44" y2="549.8" stroke="#111" stroke-width="0.8"/>
<line x1="417.53" y1="547.2" x2="417.53" y2="549.8" stroke="#111" stroke-width="0.8"/>
<line x1="418.5" y1="547.2" x2="418.5" y2="551.2" stroke="#111" stroke-width="0.9"/>
<line x1="424.9" y1="547.2" x2="424.9" y2="549.8" stroke="#111" stroke-width="0.8"/>
<line x1="428.64" y1="547.2" x2="428.64" y2="549.8" stroke="#111" stroke-width="0.8"/>
<line x1="431.29" y1="547.2" x2="431.29" y2="549.8" stroke="#111" stroke-width="0.8"/>
<line x1="433.35" y1="547.2" x2="433.35" y2="549.8" stroke="#111" stroke-width="0.8"/>
<line x1="435.04" y1="547.2" x2="435.04" y2="549.8" stroke="#111" stroke-width="0.8"/>
<line x1="436.46" y1="547.2" x2="436.46" y2="549.8" stroke="#111" stroke-width="0.8"/>
<line x1="437.69" y1="547.2" x2="437.69" y2="549.8" stroke="#111" stroke-width="0.8"/>
<line x1="438.78" y1="547.2" x2="438.78" y2="549.8" stroke="#111" stroke-width="0.8"/>
<line x1="439.75" y1="547.2" x2="439.75" y2="551.2" stroke="#111" stroke-width="0.9"/>
<line x1="446.15" y1="547.2" x2="446.15" y2="549.8" stroke="#111" stroke-width="0.8"/>
<line x1="449.89" y1="547.2" x2="449.89" y2="549.8" stroke="#111" stroke-width="0.8"/>
<line x1="452.54" y1="547.2" x2="452.54" y2="549.8" stroke="#111" stroke-width="0.8"/>
<line x1="454.6" y1="547.2" x2="454.6" y2="549.8" stroke="#111" stroke-width="0.8"/>
<line x1="456.29" y1="547.2" x2="456.29" y2="549.8" stroke="#111" stroke-width="0.8"/>
<line x1="457.71" y1="547.2" x2="457.71" y2="549.8" stroke="#111" stroke-width="0.8"/>
<line x1="458.94" y1="547.2" x2="458.94" y2="549.8" stroke="#111" stroke-width="0.8"/>
<line x1="460.03" y1="547.2" x2="460.03" y2="549.8" stroke="#111" stroke-width="0.8"/>
<line x1="461" y1="547.2" x2="461" y2="551.2" stroke="#111" stroke-width="0.9"/>
<text x="371.1" y="560.8" font-size="8.2" text-anchor="start" fill="#111" stroke="#111" stroke-width="0.15" textLength="7.6" lengthAdjust="spacingAndGlyphs">10</text>
<text x="378.8" y="557.7" font-size="6.3" text-anchor="start" fill="#111" stroke="#111" stroke-width="0.15" textLength="3.5" lengthAdjust="spacingAndGlyphs">0</text>
<text x="392.35" y="560.8" font-size="8.2" text-anchor="start" fill="#111" stroke="#111" stroke-width="0.15" textLength="7.6" lengthAdjust="spacingAndGlyphs">10</text>
<text x="400.05" y="557.7" font-size="6.3" text-anchor="start" fill="#111" stroke="#111" stroke-width="0.15" textLength="3.5" lengthAdjust="spacingAndGlyphs">1</text>
<text x="413.6" y="560.8" font-size="8.2" text-anchor="start" fill="#111" stroke="#111" stroke-width="0.15" textLength="7.6" lengthAdjust="spacingAndGlyphs">10</text>
<text x="421.3" y="557.7" font-size="6.3" text-anchor="start" fill="#111" stroke="#111" stroke-width="0.15" textLength="3.5" lengthAdjust="spacingAndGlyphs">2</text>
<text x="434.85" y="560.8" font-size="8.2" text-anchor="start" fill="#111" stroke="#111" stroke-width="0.15" textLength="7.6" lengthAdjust="spacingAndGlyphs">10</text>
<text x="442.55" y="557.7" font-size="6.3" text-anchor="start" fill="#111" stroke="#111" stroke-width="0.15" textLength="3.5" lengthAdjust="spacingAndGlyphs">3</text>
<text x="456.1" y="560.8" font-size="8.2" text-anchor="start" fill="#111" stroke="#111" stroke-width="0.15" textLength="7.6" lengthAdjust="spacingAndGlyphs">10</text>
<text x="463.8" y="557.7" font-size="6.3" text-anchor="start" fill="#111" stroke="#111" stroke-width="0.15" textLength="3.5" lengthAdjust="spacingAndGlyphs">4</text>
<text x="352.5" y="510" font-size="10" text-anchor="middle" fill="#111" stroke="#111" stroke-width="0.15" transform="rotate(-90 352.5 510)" textLength="19.7" lengthAdjust="spacingAndGlyphs">Count</text>
<text x="421.3" y="573" font-size="9" text-anchor="middle" fill="#111" stroke="#111" stroke-width="0.15" textLength="14" lengthAdjust="spacingAndGlyphs">FITC</text>
<line x1="376.6" y1="472" x2="376.6" y2="547" stroke="#3cb54a" stroke-width="1.0"/>
<line x1="377" y1="505" x2="377" y2="547" stroke="#1b4f8a" stroke-width="1.0"/>
<polyline points="377.3,532.59 377.7,532.49 378.26,532.63 378.93,532.73 379.64,531.17 380.35,530.58 381,530.27 381.6,530.81 382.2,529.09 382.8,529.79 383.4,529.04 384,527.23 384.6,527.18 385.22,525.9 385.86,524.58 386.51,524.52 387.14,521 387.74,519.3 388.3,519.96 389.07,516.27 389.77,513.19 390.41,510.92 391,508.44 391.63,506.6 392.16,501.03 392.8,497.96 393.45,497.17 394.2,495.44 394.95,495.22 395.6,493.45 396.56,488.38 397.4,486.35 398,490.35 398.59,494.43 399.2,495.59 399.8,501.92 400.4,506.94 401.1,511.1 401.72,513.66 402.4,518.9 403.11,522.42 403.8,524.63 404.45,528.75 405.09,530.88 405.75,533.22 406.5,535.91 407.04,536.95 407.59,537.8 408.18,538.74 408.8,539.47 409.47,540.09 410.2,540.63 410.71,541.07 411.23,541.2 411.77,540.94 412.32,541.21 412.91,542.29 413.53,542.6 414.2,543.16 414.92,542.76 415.7,543.21 416.18,544.29 416.66,544.03 417.14,544.27 417.63,543.65 418.13,544.12 418.64,544.82 419.17,544.59 419.73,545.07 420.32,544.2 420.95,544.57 421.62,545.04 422.33,544.7 423.1,545.17 423.92,544.98 424.8,544.57 425.27,544.6 425.75,545.63 426.26,544.71 426.79,544.85 427.33,545.05 427.89,545.51 428.46,545.71 429.05,545.34 429.65,545.41 430.26,545.77 430.88,545.27 431.51,545.42 432.14,545.72 432.79,545.79 433.44,545.21 434.09,545.34 434.75,545.41 435.41,546.06 436.07,546.07 436.73,546.39 437.39,546.22 438.05,545.76 438.71,546.3 439.36,546.55 440,545.97 440.64,545.69 441.27,546.08 441.89,546.02 442.5,545.96 443.1,545.87 443.75,545.99 444.41,546.71 445.08,545.99 445.78,546.54 446.48,546.21 447.19,546.23 447.9,546.82 448.62,546.39 449.34,546.32 450.06,546.58 450.78,546.82 451.49,546.7 452.2,547 452.89,546.65 453.58,546.78 454.25,546.96 454.9,546.77 455.54,547 456.15,546.82 456.75,546.58 457.31,546.6 457.86,547 458.37,547 458.85,547 459.29,547 459.7,547 460.07,546.75 460.4,547" fill="none" stroke="#3cb54a" stroke-width="1.25" stroke-linejoin="round" opacity="1"/>
<polyline points="378,544 378.36,544.12 378.82,544.19 379.35,544.86 379.96,544.33 380.62,544.55 381.31,543.74 382.02,544.17 382.73,544.49 383.43,544.01 384.1,544.42 384.73,544.22 385.3,543.44 385.99,542.72 386.64,543.42 387.27,542.27 387.87,541.76 388.45,542.4 389.03,542.22 389.61,541.88 390.2,541.74 390.8,540.36 391.42,539.92 392.04,539.71 392.67,540.77 393.3,539.21 393.92,539.06 394.54,538.64 395.14,538.51 395.73,538.36 396.3,538.77 396.99,538.41 397.66,538.65 398.29,539.69 398.92,538.58 399.54,539.73 400.16,539.74 400.8,539.61 401.44,539.78 402.08,540.29 402.72,540.25 403.36,539.95 404.02,540.31 404.69,540.34 405.4,540.65 405.96,541.52 406.53,540.63 407.1,540 407.68,540.49 408.28,540.86 408.9,540.16 409.54,540.42 410.2,539.36 410.9,539.23 411.45,540.1 412.03,539.13 412.64,539.5 413.27,539.62 413.91,539.32 414.55,539.07 415.19,539.01 415.83,540.45 416.46,540.01 417.07,540.37 417.65,539.59 418.2,540.21 418.9,539.91 419.58,539.35 420.24,539 420.87,538.75 421.48,538.04 422.07,538 422.64,538.27 423.18,537.06 423.7,537.79 424.41,536.68 425.04,536.32 425.61,536.13 426.16,535.09 426.72,533.2 427.3,532.12 427.92,530.02 428.56,528.17 429.21,528.02 429.84,524.98 430.44,523.42 431,520.47 431.76,515.06 432.46,512 433.1,507.12 433.7,501.37 434.43,494.66 435.07,490.18 435.6,485.83 436.06,483.8 436.5,482.83 437,486.19 437.6,489.33 438.3,489.69 438.91,493.87 439.59,496.02 440.3,498.61 441,502.68 441.67,503.85 442.34,507.76 443.04,508.38 443.8,513.71 444.47,514.14 445.18,516.27 445.91,521 446.66,523.22 447.4,525.68 448,528.08 448.6,529.59 449.19,531.41 449.8,534.04 450.44,537.18 451.1,538.89 451.69,538.86 452.3,540.18 452.92,541.02 453.56,542.36 454.22,541.73 454.9,543.43 455.6,543.29 456.2,544.13 456.86,544.09 457.56,544.48 458.28,545.77 458.98,545.73 459.64,546.52 460.23,546.69 460.72,546.82 461.1,546.46" fill="none" stroke="#c8163c" stroke-width="1.3" stroke-linejoin="round" opacity="1"/>
<polyline points="377.3,544.58 377.66,544.62 378.12,544.8 378.65,544.12 379.26,544.52 379.92,544.76 380.61,544.72 381.32,543.77 382.03,544.26 382.73,544.12 383.4,543.87 384.03,544.33 384.6,543.64 385.29,543.3 385.94,543.67 386.57,542.95 387.17,542.16 387.75,541.81 388.33,541.72 388.91,540.75 389.5,541.24 390.1,541.15 390.72,540.43 391.34,540.81 391.97,540.7 392.6,539.89 393.22,539.87 393.84,538.79 394.44,538.52 395.03,539.86 395.6,538.66 396.29,538.49 396.96,539.59 397.59,539.41 398.22,538.51 398.84,538.95 399.46,538.96 400.1,539.14 400.74,538.9 401.38,539.92 402.02,539.82 402.66,540.19 403.32,540.09 403.99,540.14 404.7,540.11 405.26,541.35 405.83,541.11 406.4,540.73 406.98,539.96 407.58,539.86 408.2,539.67 408.84,539.83 409.5,539.31 410.2,539.55 410.75,539.4 411.33,539.35 411.94,540.05 412.57,539.73 413.21,539.75 413.85,539.57 414.49,539.84 415.13,540.2 415.76,539.42 416.37,539 416.95,539.57 417.5,539.31 418.2,539.78 418.88,538.54 419.54,539.55 420.17,537.95 420.78,538.55 421.37,538.11 421.94,537.6 422.48,538.22 423,537.54 423.71,536.08 424.34,536.13 424.91,535.76 425.46,533.98 426.02,533.1 426.6,532.79 427.22,531.46 427.86,529.07 428.51,526.89 429.14,524.79 429.74,521.8 430.3,520.7 431.06,516.68 431.76,510.71 432.4,504.61 433,501.2 433.73,496.83 434.37,490.2 434.9,485.63 435.36,483.21 435.8,484.89 436.3,485.89 436.9,487.11 437.6,490.99 438.21,493.81 438.89,497.17 439.6,499.64 440.3,501.31 440.97,505.07 441.64,508.05 442.34,510.61 443.1,513.15 443.77,515.16 444.48,517.52 445.21,520.92 445.96,523 446.7,525.79 447.3,526.94 447.9,529.01 448.49,531.71 449.1,534.53 449.74,536.52 450.4,537.6 450.99,538.8 451.6,540.95 452.22,540.46 452.86,542.39 453.52,542.78 454.2,543.1 454.9,544.23 455.5,544.29 456.16,543.95 456.86,545.45 457.58,545.26 458.28,546.15 458.94,546.36 459.53,546.01 460.02,546.2 460.4,546.41" fill="none" stroke="#1b4f8a" stroke-width="1.25" stroke-linejoin="round" opacity="1"/>
<text x="379.5" y="484" font-size="8.5" text-anchor="start" fill="#3cb54a" stroke="#3cb54a" stroke-width="0.15" textLength="29" lengthAdjust="spacingAndGlyphs">Non-act</text>
<text x="431.2" y="481.3" font-size="8.5" text-anchor="start" fill="#c8163c" stroke="#c8163c" stroke-width="0.15" textLength="21" lengthAdjust="spacingAndGlyphs">nl IgG</text>
<text x="406.3" y="500.3" font-size="8.5" text-anchor="start" fill="#2c5f99" stroke="#2c5f99" stroke-width="0.15" textLength="17" lengthAdjust="spacingAndGlyphs">Anti-</text>
<text x="406.3" y="509.3" font-size="8.5" text-anchor="start" fill="#2c5f99" stroke="#2c5f99" stroke-width="0.15" textLength="23" lengthAdjust="spacingAndGlyphs">ERp46</text>
<text x="8.8" y="593.9" font-size="11.2" text-anchor="start" fill="#000" font-weight="bold">I</text>
<text x="66.3" y="593.8" font-size="10.3" text-anchor="start" fill="#111" stroke="#111" stroke-width="0.15" textLength="59.7" lengthAdjust="spacingAndGlyphs">Non-activated</text>
<rect x="49.5" y="599" width="94.7" height="80.2" fill="none" stroke="#111" stroke-width="1"/>
<line x1="45.5" y1="599.5" x2="49.5" y2="599.5" stroke="#111" stroke-width="0.9"/>
<text x="43.5" y="602.55" font-size="8.2" text-anchor="end" fill="#111" stroke="#111" stroke-width="0.15" textLength="12.75" lengthAdjust="spacingAndGlyphs">200</text>
<line x1="46.7" y1="602.7" x2="49.5" y2="602.7" stroke="#111" stroke-width="0.9"/>
<line x1="46.7" y1="605.9" x2="49.5" y2="605.9" stroke="#111" stroke-width="0.9"/>
<line x1="46.7" y1="609.1" x2="49.5" y2="609.1" stroke="#111" stroke-width="0.9"/>
<line x1="46.7" y1="612.3" x2="49.5" y2="612.3" stroke="#111" stroke-width="0.9"/>
<line x1="45.5" y1="615.5" x2="49.5" y2="615.5" stroke="#111" stroke-width="0.9"/>
<text x="43.5" y="618.55" font-size="8.2" text-anchor="end" fill="#111" stroke="#111" stroke-width="0.15" textLength="12.75" lengthAdjust="spacingAndGlyphs">150</text>
<line x1="46.7" y1="618.75" x2="49.5" y2="618.75" stroke="#111" stroke-width="0.9"/>
<line x1="46.7" y1="622" x2="49.5" y2="622" stroke="#111" stroke-width="0.9"/>
<line x1="46.7" y1="625.25" x2="49.5" y2="625.25" stroke="#111" stroke-width="0.9"/>
<line x1="46.7" y1="628.5" x2="49.5" y2="628.5" stroke="#111" stroke-width="0.9"/>
<line x1="45.5" y1="631.75" x2="49.5" y2="631.75" stroke="#111" stroke-width="0.9"/>
<text x="43.5" y="634.8" font-size="8.2" text-anchor="end" fill="#111" stroke="#111" stroke-width="0.15" textLength="12.75" lengthAdjust="spacingAndGlyphs">120</text>
<line x1="46.7" y1="634.9" x2="49.5" y2="634.9" stroke="#111" stroke-width="0.9"/>
<line x1="46.7" y1="638.05" x2="49.5" y2="638.05" stroke="#111" stroke-width="0.9"/>
<line x1="46.7" y1="641.2" x2="49.5" y2="641.2" stroke="#111" stroke-width="0.9"/>
<line x1="46.7" y1="644.35" x2="49.5" y2="644.35" stroke="#111" stroke-width="0.9"/>
<line x1="45.5" y1="647.5" x2="49.5" y2="647.5" stroke="#111" stroke-width="0.9"/>
<text x="43.5" y="650.55" font-size="8.2" text-anchor="end" fill="#111" stroke="#111" stroke-width="0.15" textLength="8.5" lengthAdjust="spacingAndGlyphs">80</text>
<line x1="46.7" y1="650.75" x2="49.5" y2="650.75" stroke="#111" stroke-width="0.9"/>
<line x1="46.7" y1="654" x2="49.5" y2="654" stroke="#111" stroke-width="0.9"/>
<line x1="46.7" y1="657.25" x2="49.5" y2="657.25" stroke="#111" stroke-width="0.9"/>
<line x1="46.7" y1="660.5" x2="49.5" y2="660.5" stroke="#111" stroke-width="0.9"/>
<line x1="45.5" y1="663.75" x2="49.5" y2="663.75" stroke="#111" stroke-width="0.9"/>
<text x="43.5" y="666.8" font-size="8.2" text-anchor="end" fill="#111" stroke="#111" stroke-width="0.15" textLength="8.5" lengthAdjust="spacingAndGlyphs">40</text>
<line x1="46.7" y1="666.84" x2="49.5" y2="666.84" stroke="#111" stroke-width="0.9"/>
<line x1="46.7" y1="669.93" x2="49.5" y2="669.93" stroke="#111" stroke-width="0.9"/>
<line x1="46.7" y1="673.02" x2="49.5" y2="673.02" stroke="#111" stroke-width="0.9"/>
<line x1="46.7" y1="676.11" x2="49.5" y2="676.11" stroke="#111" stroke-width="0.9"/>
<line x1="45.5" y1="679.2" x2="49.5" y2="679.2" stroke="#111" stroke-width="0.9"/>
<text x="43.5" y="682.25" font-size="8.2" text-anchor="end" fill="#111" stroke="#111" stroke-width="0.15" textLength="4.25" lengthAdjust="spacingAndGlyphs">0</text>
<line x1="49.5" y1="679.2" x2="49.5" y2="683.2" stroke="#111" stroke-width="0.9"/>
<line x1="56.63" y1="679.2" x2="56.63" y2="681.8" stroke="#111" stroke-width="0.8"/>
<line x1="60.81" y1="679.2" x2="60.81" y2="681.8" stroke="#111" stroke-width="0.8"/>
<line x1="63.77" y1="679.2" x2="63.77" y2="681.8" stroke="#111" stroke-width="0.8"/>
<line x1="66.07" y1="679.2" x2="66.07" y2="681.8" stroke="#111" stroke-width="0.8"/>
<line x1="67.94" y1="679.2" x2="67.94" y2="681.8" stroke="#111" stroke-width="0.8"/>
<line x1="69.53" y1="679.2" x2="69.53" y2="681.8" stroke="#111" stroke-width="0.8"/>
<line x1="70.9" y1="679.2" x2="70.9" y2="681.8" stroke="#111" stroke-width="0.8"/>
<line x1="72.12" y1="679.2" x2="72.12" y2="681.8" stroke="#111" stroke-width="0.8"/>
<line x1="73.2" y1="679.2" x2="73.2" y2="683.2" stroke="#111" stroke-width="0.9"/>
<line x1="80.33" y1="679.2" x2="80.33" y2="681.8" stroke="#111" stroke-width="0.8"/>
<line x1="84.51" y1="679.2" x2="84.51" y2="681.8" stroke="#111" stroke-width="0.8"/>
<line x1="87.47" y1="679.2" x2="87.47" y2="681.8" stroke="#111" stroke-width="0.8"/>
<line x1="89.77" y1="679.2" x2="89.77" y2="681.8" stroke="#111" stroke-width="0.8"/>
<line x1="91.64" y1="679.2" x2="91.64" y2="681.8" stroke="#111" stroke-width="0.8"/>
<line x1="93.23" y1="679.2" x2="93.23" y2="681.8" stroke="#111" stroke-width="0.8"/>
<line x1="94.6" y1="679.2" x2="94.6" y2="681.8" stroke="#111" stroke-width="0.8"/>
<line x1="95.82" y1="679.2" x2="95.82" y2="681.8" stroke="#111" stroke-width="0.8"/>
<line x1="96.9" y1="679.2" x2="96.9" y2="683.2" stroke="#111" stroke-width="0.9"/>
<line x1="104.03" y1="679.2" x2="104.03" y2="681.8" stroke="#111" stroke-width="0.8"/>
<line x1="108.21" y1="679.2" x2="108.21" y2="681.8" stroke="#111" stroke-width="0.8"/>
<line x1="111.17" y1="679.2" x2="111.17" y2="681.8" stroke="#111" stroke-width="0.8"/>
<line x1="113.47" y1="679.2" x2="113.47" y2="681.8" stroke="#111" stroke-width="0.8"/>
<line x1="115.34" y1="679.2" x2="115.34" y2="681.8" stroke="#111" stroke-width="0.8"/>
<line x1="116.93" y1="679.2" x2="116.93" y2="681.8" stroke="#111" stroke-width="0.8"/>
<line x1="118.3" y1="679.2" x2="118.3" y2="681.8" stroke="#111" stroke-width="0.8"/>
<line x1="119.52" y1="679.2" x2="119.52" y2="681.8" stroke="#111" stroke-width="0.8"/>
<line x1="120.6" y1="679.2" x2="120.6" y2="683.2" stroke="#111" stroke-width="0.9"/>
<line x1="127.7" y1="679.2" x2="127.7" y2="681.8" stroke="#111" stroke-width="0.8"/>
<line x1="131.86" y1="679.2" x2="131.86" y2="681.8" stroke="#111" stroke-width="0.8"/>
<line x1="134.81" y1="679.2" x2="134.81" y2="681.8" stroke="#111" stroke-width="0.8"/>
<line x1="137.1" y1="679.2" x2="137.1" y2="681.8" stroke="#111" stroke-width="0.8"/>
<line x1="138.96" y1="679.2" x2="138.96" y2="681.8" stroke="#111" stroke-width="0.8"/>
<line x1="140.54" y1="679.2" x2="140.54" y2="681.8" stroke="#111" stroke-width="0.8"/>
<line x1="141.91" y1="679.2" x2="141.91" y2="681.8" stroke="#111" stroke-width="0.8"/>
<line x1="143.12" y1="679.2" x2="143.12" y2="681.8" stroke="#111" stroke-width="0.8"/>
<line x1="144.2" y1="679.2" x2="144.2" y2="683.2" stroke="#111" stroke-width="0.9"/>
<text x="44.6" y="692" font-size="8.2" text-anchor="start" fill="#111" stroke="#111" stroke-width="0.15" textLength="7.6" lengthAdjust="spacingAndGlyphs">10</text>
<text x="52.3" y="688.9" font-size="6.3" text-anchor="start" fill="#111" stroke="#111" stroke-width="0.15" textLength="3.5" lengthAdjust="spacingAndGlyphs">0</text>
<text x="68.3" y="692" font-size="8.2" text-anchor="start" fill="#111" stroke="#111" stroke-width="0.15" textLength="7.6" lengthAdjust="spacingAndGlyphs">10</text>
<text x="76" y="688.9" font-size="6.3" text-anchor="start" fill="#111" stroke="#111" stroke-width="0.15" textLength="3.5" lengthAdjust="spacingAndGlyphs">1</text>
<text x="92" y="692" font-size="8.2" text-anchor="start" fill="#111" stroke="#111" stroke-width="0.15" textLength="7.6" lengthAdjust="spacingAndGlyphs">10</text>
<text x="99.7" y="688.9" font-size="6.3" text-anchor="start" fill="#111" stroke="#111" stroke-width="0.15" textLength="3.5" lengthAdjust="spacingAndGlyphs">2</text>
<text x="115.7" y="692" font-size="8.2" text-anchor="start" fill="#111" stroke="#111" stroke-width="0.15" textLength="7.6" lengthAdjust="spacingAndGlyphs">10</text>
<text x="123.4" y="688.9" font-size="6.3" text-anchor="start" fill="#111" stroke="#111" stroke-width="0.15" textLength="3.5" lengthAdjust="spacingAndGlyphs">3</text>
<text x="139.3" y="692" font-size="8.2" text-anchor="start" fill="#111" stroke="#111" stroke-width="0.15" textLength="7.6" lengthAdjust="spacingAndGlyphs">10</text>
<text x="147" y="688.9" font-size="6.3" text-anchor="start" fill="#111" stroke="#111" stroke-width="0.15" textLength="3.5" lengthAdjust="spacingAndGlyphs">4</text>
<text x="27" y="640" font-size="10" text-anchor="middle" fill="#111" stroke="#111" stroke-width="0.15" transform="rotate(-90 27 640)" textLength="19.7" lengthAdjust="spacingAndGlyphs">Count</text>
<text x="96" y="704" font-size="9" text-anchor="middle" fill="#111" stroke="#111" stroke-width="0.15" textLength="14" lengthAdjust="spacingAndGlyphs">FITC</text>
<line x1="50" y1="625" x2="50" y2="656" stroke="#1b4f8a" stroke-width="1.0"/>
<polyline points="51.1,656.11 51.68,655.87 52.5,655.59 53.12,657.05 53.81,655.64 54.5,654.88 55.17,652.88 55.83,650.33 56.5,648.93 57.17,645.85 57.83,643.56 58.5,640.68 59.16,639.33 59.83,636.57 60.5,634.13 61.2,632.44 61.9,632.58 62.6,629.02 63.27,628.79 63.94,626.77 64.6,622.61 65.27,621.87 65.93,615.67 66.6,616.32 67.29,616.18 67.98,615.13 68.6,617.8 69.29,616.89 70,614.66 70.67,618.88 71.41,620.4 72.1,626.49 72.93,629.95 73.7,635.7 74.51,639.62 75.3,647.81 75.98,655.76 76.7,662.64 77.29,666.28 77.94,671.88 78.7,675.11 79.06,675.71 79.29,676.52 79.65,677.83 80.37,678.05 81.7,678.75 82.06,678.69 82.41,678.68 82.75,678.44 83.08,678.61 83.41,678.93 83.74,679 84.09,678.99 84.46,679 84.85,679 85.26,679 85.72,679 86.21,679 86.75,678.87 87.34,678.83 87.98,678.81 88.69,679 89.47,679 90.32,679 91.26,678.87 92.27,679 93.38,678.9 94.59,679 95.9,679 96.3,679 96.72,679 97.16,679 97.61,679 98.08,679 98.56,679 99.06,679 99.58,679 100.11,679 100.65,679 101.21,679 101.78,679 102.36,679 102.96,679 103.56,679 104.18,679 104.81,679 105.45,679 106.09,679 106.75,679 107.41,679 108.09,679 108.77,679 109.46,679 110.15,679 110.85,679 111.56,679 112.27,679 112.99,679 113.71,679 114.43,679 115.16,679 115.89,679 116.62,679 117.36,679 118.09,679 118.83,679 119.56,679 120.3,679 121.04,679 121.77,679 122.51,679 123.24,679 123.97,679 124.69,679 125.41,679 126.13,679 126.85,679 127.55,679 128.26,679 128.95,679 129.65,679 130.33,679 131.01,679 131.67,679 132.33,679 132.99,679 133.63,679 134.26,679 134.88,679 135.49,679 136.09,679 136.68,679 137.26,679 137.82,679 138.37,679 138.9,679 139.43,679 139.93,679 140.42,679 140.9,679 141.36,679 141.8,679 142.23,679 142.64,679 143.03,679 143.4,679 143.75,679 144.09,679 144.4,679" fill="none" stroke="#c8163c" stroke-width="1.25" stroke-linejoin="round" opacity="1"/>
<polyline points="50.7,655.94 51.28,654.56 52.1,655.05 52.72,654.55 53.41,655.23 54.1,654.05 54.77,652.96 55.43,648.73 56.1,647.29 56.77,643.51 57.43,641.13 58.1,639.42 58.76,636.07 59.43,635.03 60.1,634.87 60.8,632.88 61.5,630.17 62.2,629.59 62.87,628.5 63.54,623.91 64.2,624.34 64.87,620.78 65.53,615.96 66.2,612.95 66.89,615.81 67.58,614.76 68.2,614.74 68.89,613.81 69.6,616.45 70.27,617.85 71.01,621.96 71.7,625.08 72.53,628.66 73.3,634.89 74.11,639.78 74.9,647.64 75.58,655.49 76.3,661.86 76.89,666.84 77.54,670.55 78.3,674.12 78.66,674.53 78.89,675.79 79.25,676.58 79.97,676.85 81.3,677.5 81.66,677.46 82.01,677.74 82.35,678.19 82.68,677.97 83.01,678.02 83.34,677.9 83.69,678 84.06,678.72 84.45,678.44 84.86,678.42 85.32,677.99 85.81,678.56 86.35,677.99 86.94,678.22 87.58,678.84 88.29,678.48 89.07,678.4 89.92,678.53 90.86,678.7 91.87,678.64 92.98,678.09 94.19,677.91 95.5,678.22 95.9,678.17 96.32,678.12 96.76,678.86 97.21,678.8 97.68,678.25 98.16,678.59 98.66,678.34 99.18,678.86 99.71,678.42 100.25,678.23 100.81,678.22 101.38,678.53 101.96,678.25 102.56,678.57 103.16,678.88 103.78,678.4 104.41,678.23 105.05,678.99 105.69,678.53 106.35,678.13 107.01,678.09 107.69,678.16 108.37,678.66 109.06,678.83 109.75,678.48 110.45,678.14 111.16,678.45 111.87,679 112.59,678.6 113.31,679 114.03,678.93 114.76,678.13 115.49,678.81 116.22,678.78 116.96,678.65 117.69,678.4 118.43,678.75 119.16,678.26 119.9,678.57 120.64,678.59 121.37,679 122.11,679 122.84,678.43 123.57,678.66 124.29,678.36 125.01,679 125.73,679 126.45,678.49 127.15,678.81 127.86,678.79 128.55,678.37 129.25,678.94 129.93,678.74 130.61,678.96 131.27,678.74 131.93,678.26 132.59,678.56 133.23,678.29 133.86,679 134.48,679 135.09,679 135.69,678.57 136.28,678.35 136.86,679 137.42,679 137.97,678.38 138.5,678.75 139.03,678.38 139.53,679 140.02,679 140.5,678.44 140.96,678.76 141.4,678.82 141.83,678.57 142.24,679 142.63,678.72 143,678.54 143.35,678.83 143.69,679 144,678.54" fill="none" stroke="#1b4f8a" stroke-width="1.3" stroke-linejoin="round" opacity="1"/>
<text x="75.9" y="619.6" font-size="8.3" text-anchor="start" fill="#111" stroke="#111" stroke-width="0.15" textLength="24.7" lengthAdjust="spacingAndGlyphs">ERp46,</text>
<text x="75.9" y="628.4" font-size="8.3" text-anchor="start" fill="#111" stroke="#111" stroke-width="0.15" textLength="25.9" lengthAdjust="spacingAndGlyphs">Control</text>
<text x="214.5" y="593.8" font-size="10.3" text-anchor="start" fill="#111" stroke="#111" stroke-width="0.15" textLength="93" lengthAdjust="spacingAndGlyphs">Thrombin (0.25 U/mL)</text>
<rect x="213.3" y="599" width="95" height="80.4" fill="none" stroke="#111" stroke-width="1"/>
<line x1="209.3" y1="599.5" x2="213.3" y2="599.5" stroke="#111" stroke-width="0.9"/>
<text x="208.8" y="602.55" font-size="8.2" text-anchor="end" fill="#111" stroke="#111" stroke-width="0.15" textLength="12.75" lengthAdjust="spacingAndGlyphs">200</text>
<line x1="210.5" y1="602.7" x2="213.3" y2="602.7" stroke="#111" stroke-width="0.9"/>
<line x1="210.5" y1="605.9" x2="213.3" y2="605.9" stroke="#111" stroke-width="0.9"/>
<line x1="210.5" y1="609.1" x2="213.3" y2="609.1" stroke="#111" stroke-width="0.9"/>
<line x1="210.5" y1="612.3" x2="213.3" y2="612.3" stroke="#111" stroke-width="0.9"/>
<line x1="209.3" y1="615.5" x2="213.3" y2="615.5" stroke="#111" stroke-width="0.9"/>
<text x="208.8" y="618.55" font-size="8.2" text-anchor="end" fill="#111" stroke="#111" stroke-width="0.15" textLength="12.75" lengthAdjust="spacingAndGlyphs">150</text>
<line x1="210.5" y1="618.75" x2="213.3" y2="618.75" stroke="#111" stroke-width="0.9"/>
<line x1="210.5" y1="622" x2="213.3" y2="622" stroke="#111" stroke-width="0.9"/>
<line x1="210.5" y1="625.25" x2="213.3" y2="625.25" stroke="#111" stroke-width="0.9"/>
<line x1="210.5" y1="628.5" x2="213.3" y2="628.5" stroke="#111" stroke-width="0.9"/>
<line x1="209.3" y1="631.75" x2="213.3" y2="631.75" stroke="#111" stroke-width="0.9"/>
<text x="208.8" y="634.8" font-size="8.2" text-anchor="end" fill="#111" stroke="#111" stroke-width="0.15" textLength="12.75" lengthAdjust="spacingAndGlyphs">120</text>
<line x1="210.5" y1="634.9" x2="213.3" y2="634.9" stroke="#111" stroke-width="0.9"/>
<line x1="210.5" y1="638.05" x2="213.3" y2="638.05" stroke="#111" stroke-width="0.9"/>
<line x1="210.5" y1="641.2" x2="213.3" y2="641.2" stroke="#111" stroke-width="0.9"/>
<line x1="210.5" y1="644.35" x2="213.3" y2="644.35" stroke="#111" stroke-width="0.9"/>
<line x1="209.3" y1="647.5" x2="213.3" y2="647.5" stroke="#111" stroke-width="0.9"/>
<text x="208.8" y="650.55" font-size="8.2" text-anchor="end" fill="#111" stroke="#111" stroke-width="0.15" textLength="8.5" lengthAdjust="spacingAndGlyphs">80</text>
<line x1="210.5" y1="650.75" x2="213.3" y2="650.75" stroke="#111" stroke-width="0.9"/>
<line x1="210.5" y1="654" x2="213.3" y2="654" stroke="#111" stroke-width="0.9"/>
<line x1="210.5" y1="657.25" x2="213.3" y2="657.25" stroke="#111" stroke-width="0.9"/>
<line x1="210.5" y1="660.5" x2="213.3" y2="660.5" stroke="#111" stroke-width="0.9"/>
<line x1="209.3" y1="663.75" x2="213.3" y2="663.75" stroke="#111" stroke-width="0.9"/>
<text x="208.8" y="666.8" font-size="8.2" text-anchor="end" fill="#111" stroke="#111" stroke-width="0.15" textLength="8.5" lengthAdjust="spacingAndGlyphs">40</text>
<line x1="210.5" y1="666.88" x2="213.3" y2="666.88" stroke="#111" stroke-width="0.9"/>
<line x1="210.5" y1="670.01" x2="213.3" y2="670.01" stroke="#111" stroke-width="0.9"/>
<line x1="210.5" y1="673.14" x2="213.3" y2="673.14" stroke="#111" stroke-width="0.9"/>
<line x1="210.5" y1="676.27" x2="213.3" y2="676.27" stroke="#111" stroke-width="0.9"/>
<line x1="209.3" y1="679.4" x2="213.3" y2="679.4" stroke="#111" stroke-width="0.9"/>
<text x="208.8" y="682.45" font-size="8.2" text-anchor="end" fill="#111" stroke="#111" stroke-width="0.15" textLength="4.25" lengthAdjust="spacingAndGlyphs">0</text>
<line x1="213.3" y1="679.4" x2="213.3" y2="683.4" stroke="#111" stroke-width="0.9"/>
<line x1="220.43" y1="679.4" x2="220.43" y2="682" stroke="#111" stroke-width="0.8"/>
<line x1="224.61" y1="679.4" x2="224.61" y2="682" stroke="#111" stroke-width="0.8"/>
<line x1="227.57" y1="679.4" x2="227.57" y2="682" stroke="#111" stroke-width="0.8"/>
<line x1="229.87" y1="679.4" x2="229.87" y2="682" stroke="#111" stroke-width="0.8"/>
<line x1="231.74" y1="679.4" x2="231.74" y2="682" stroke="#111" stroke-width="0.8"/>
<line x1="233.33" y1="679.4" x2="233.33" y2="682" stroke="#111" stroke-width="0.8"/>
<line x1="234.7" y1="679.4" x2="234.7" y2="682" stroke="#111" stroke-width="0.8"/>
<line x1="235.92" y1="679.4" x2="235.92" y2="682" stroke="#111" stroke-width="0.8"/>
<line x1="237" y1="679.4" x2="237" y2="683.4" stroke="#111" stroke-width="0.9"/>
<line x1="244.16" y1="679.4" x2="244.16" y2="682" stroke="#111" stroke-width="0.8"/>
<line x1="248.36" y1="679.4" x2="248.36" y2="682" stroke="#111" stroke-width="0.8"/>
<line x1="251.33" y1="679.4" x2="251.33" y2="682" stroke="#111" stroke-width="0.8"/>
<line x1="253.64" y1="679.4" x2="253.64" y2="682" stroke="#111" stroke-width="0.8"/>
<line x1="255.52" y1="679.4" x2="255.52" y2="682" stroke="#111" stroke-width="0.8"/>
<line x1="257.11" y1="679.4" x2="257.11" y2="682" stroke="#111" stroke-width="0.8"/>
<line x1="258.49" y1="679.4" x2="258.49" y2="682" stroke="#111" stroke-width="0.8"/>
<line x1="259.71" y1="679.4" x2="259.71" y2="682" stroke="#111" stroke-width="0.8"/>
<line x1="260.8" y1="679.4" x2="260.8" y2="683.4" stroke="#111" stroke-width="0.9"/>
<line x1="267.93" y1="679.4" x2="267.93" y2="682" stroke="#111" stroke-width="0.8"/>
<line x1="272.11" y1="679.4" x2="272.11" y2="682" stroke="#111" stroke-width="0.8"/>
<line x1="275.07" y1="679.4" x2="275.07" y2="682" stroke="#111" stroke-width="0.8"/>
<line x1="277.37" y1="679.4" x2="277.37" y2="682" stroke="#111" stroke-width="0.8"/>
<line x1="279.24" y1="679.4" x2="279.24" y2="682" stroke="#111" stroke-width="0.8"/>
<line x1="280.83" y1="679.4" x2="280.83" y2="682" stroke="#111" stroke-width="0.8"/>
<line x1="282.2" y1="679.4" x2="282.2" y2="682" stroke="#111" stroke-width="0.8"/>
<line x1="283.42" y1="679.4" x2="283.42" y2="682" stroke="#111" stroke-width="0.8"/>
<line x1="284.5" y1="679.4" x2="284.5" y2="683.4" stroke="#111" stroke-width="0.9"/>
<line x1="291.66" y1="679.4" x2="291.66" y2="682" stroke="#111" stroke-width="0.8"/>
<line x1="295.86" y1="679.4" x2="295.86" y2="682" stroke="#111" stroke-width="0.8"/>
<line x1="298.83" y1="679.4" x2="298.83" y2="682" stroke="#111" stroke-width="0.8"/>
<line x1="301.14" y1="679.4" x2="301.14" y2="682" stroke="#111" stroke-width="0.8"/>
<line x1="303.02" y1="679.4" x2="303.02" y2="682" stroke="#111" stroke-width="0.8"/>
<line x1="304.61" y1="679.4" x2="304.61" y2="682" stroke="#111" stroke-width="0.8"/>
<line x1="305.99" y1="679.4" x2="305.99" y2="682" stroke="#111" stroke-width="0.8"/>
<line x1="307.21" y1="679.4" x2="307.21" y2="682" stroke="#111" stroke-width="0.8"/>
<line x1="308.3" y1="679.4" x2="308.3" y2="683.4" stroke="#111" stroke-width="0.9"/>
<text x="208.4" y="692" font-size="8.2" text-anchor="start" fill="#111" stroke="#111" stroke-width="0.15" textLength="7.6" lengthAdjust="spacingAndGlyphs">10</text>
<text x="216.1" y="688.9" font-size="6.3" text-anchor="start" fill="#111" stroke="#111" stroke-width="0.15" textLength="3.5" lengthAdjust="spacingAndGlyphs">0</text>
<text x="232.1" y="692" font-size="8.2" text-anchor="start" fill="#111" stroke="#111" stroke-width="0.15" textLength="7.6" lengthAdjust="spacingAndGlyphs">10</text>
<text x="239.8" y="688.9" font-size="6.3" text-anchor="start" fill="#111" stroke="#111" stroke-width="0.15" textLength="3.5" lengthAdjust="spacingAndGlyphs">1</text>
<text x="255.9" y="692" font-size="8.2" text-anchor="start" fill="#111" stroke="#111" stroke-width="0.15" textLength="7.6" lengthAdjust="spacingAndGlyphs">10</text>
<text x="263.6" y="688.9" font-size="6.3" text-anchor="start" fill="#111" stroke="#111" stroke-width="0.15" textLength="3.5" lengthAdjust="spacingAndGlyphs">2</text>
<text x="279.6" y="692" font-size="8.2" text-anchor="start" fill="#111" stroke="#111" stroke-width="0.15" textLength="7.6" lengthAdjust="spacingAndGlyphs">10</text>
<text x="287.3" y="688.9" font-size="6.3" text-anchor="start" fill="#111" stroke="#111" stroke-width="0.15" textLength="3.5" lengthAdjust="spacingAndGlyphs">3</text>
<text x="303.4" y="692" font-size="8.2" text-anchor="start" fill="#111" stroke="#111" stroke-width="0.15" textLength="7.6" lengthAdjust="spacingAndGlyphs">10</text>
<text x="311.1" y="688.9" font-size="6.3" text-anchor="start" fill="#111" stroke="#111" stroke-width="0.15" textLength="3.5" lengthAdjust="spacingAndGlyphs">4</text>
<text x="189.5" y="635.5" font-size="10" text-anchor="middle" fill="#111" stroke="#111" stroke-width="0.15" transform="rotate(-90 189.5 635.5)" textLength="19.7" lengthAdjust="spacingAndGlyphs">Count</text>
<text x="260" y="704" font-size="9" text-anchor="middle" fill="#111" stroke="#111" stroke-width="0.15" textLength="14" lengthAdjust="spacingAndGlyphs">FITC</text>
<line x1="213.8" y1="635.4" x2="213.8" y2="679" stroke="#c8163c" stroke-width="1.0"/>
<line x1="214.1" y1="640" x2="214.1" y2="679" stroke="#1b4f8a" stroke-width="1.0"/>
<polyline points="214.4,665.72 214.8,666.5 215.35,664.91 216,667.15 216.71,664.46 217.42,665.33 218.1,666.41 218.75,663.91 219.41,665.92 220.07,664.61 220.75,663.39 221.42,663.08 222.1,661.97 222.79,659.68 223.5,660.92 224.21,656.41 224.91,657.28 225.58,654.87 226.2,649.13 226.87,648.49 227.48,647.94 228.05,648.14 228.62,643.2 229.2,644.14 229.8,641.43 230.4,642.59 231,642.26 231.6,640.17 232.2,635.61 232.81,637.39 233.44,633.67 234.06,634.37 234.66,630.77 235.2,632.83 235.93,633.99 236.57,635 237.3,637.34 237.84,638.8 238.44,639.25 239.06,638.71 239.69,644.94 240.3,643.3 240.92,641.6 241.55,644.24 242.17,644.31 242.76,643.38 243.3,647.98 244.04,645.34 244.66,651.69 245.3,650.75 245.96,647.01 246.63,644.77 247.4,643.23 247.94,641.39 248.54,645.52 249.16,645.79 249.79,648.46 250.4,648.26 251,648.27 251.6,649.44 252.2,649.12 252.8,647.77 253.4,647.71 254.12,649.01 254.83,652.4 255.57,654.71 256.4,655.21 257.03,655.2 257.73,650.69 258.45,651.84 259.17,649.34 259.87,651.2 260.5,650.91 261.15,651.13 261.73,653.39 262.27,651.15 262.85,654.4 263.5,654.02 264.13,651.97 264.83,655.16 265.55,649.83 266.27,651.13 266.97,650.91 267.6,650.99 268.27,653.12 268.88,651.41 269.45,653.78 270.02,651.68 270.6,653.51 271.2,652.87 271.8,656.3 272.4,656.48 273,659.45 273.6,657.88 274.18,661.12 274.75,665.07 275.32,663.18 275.93,667.63 276.6,669.34 277.2,670.71 277.81,671.25 278.46,672.11 279.15,674.5 279.89,673.33 280.7,675.38 281.21,675.73 281.74,676.31 282.29,676.04 282.86,675.24 283.45,677.5 284.06,676.61 284.69,678.1 285.34,678.81 286.01,678.57 286.7,678 287.24,679.09 287.78,678.27 288.32,678.26 288.87,678.85 289.43,679.09 290.01,679.21 290.6,679.03 291.22,678.83 291.86,679.3 292.54,678.78 293.25,679.3 294,678.35 294.8,678.61 295.33,679.3 295.91,678.81 296.53,679.13 297.19,678.61 297.88,679.3 298.58,679.05 299.31,678.68 300.05,679 300.79,679.3 301.54,679.3 302.27,678.63 303,679.3 303.71,678.72 304.39,679.29 305.04,679.3 305.66,679.3 306.23,678.81 306.76,679.3 307.24,678.98 307.65,679.3 308,679.3" fill="none" stroke="#c8163c" stroke-width="1.25" stroke-linejoin="round" opacity="1"/>
<polyline points="214.4,675.23 214.78,672.18 215.28,673.9 215.86,672.76 216.52,673.78 217.23,671.57 217.96,672.75 218.7,669.66 219.42,671.97 220.1,669.39 220.7,668.04 221.33,668.05 221.97,668.5 222.61,665.64 223.26,666.33 223.89,664.23 224.51,663.8 225.11,663.55 225.67,663.18 226.2,662.77 226.99,663.96 227.69,661.57 228.33,662.63 228.94,662.01 229.56,661.19 230.2,660.62 230.87,658.04 231.53,657.5 232.19,657.52 232.86,655.03 233.53,652.35 234.2,653.7 234.88,653.59 235.56,652 236.25,651.87 236.94,652.67 237.62,655.43 238.3,656.1 238.97,655.3 239.64,654.06 240.31,651.95 240.97,651.6 241.63,654.54 242.3,653.74 242.97,653.25 243.63,651.74 244.29,651.38 244.96,651.52 245.63,651.06 246.3,653.09 246.98,651.22 247.66,651.92 248.35,650.69 249.04,650.7 249.72,651.17 250.4,650.94 251.07,647.43 251.74,651.46 252.4,650.82 253.06,650.56 253.73,648.51 254.4,650.85 255.09,649.76 255.8,646.32 256.51,648.18 257.21,648.51 257.88,647.44 258.5,647.65 259.17,644.97 259.78,645.06 260.35,641.04 260.92,643.4 261.5,639.41 262.11,641.36 262.73,640.91 263.34,636.18 263.94,632.63 264.5,630.63 265.37,630.18 266.17,624.32 266.9,624.86 267.77,619.54 268.6,616.2 269.24,618.09 269.92,616.65 270.6,621.02 271.27,620.3 271.93,625.75 272.6,630.15 273.23,630.13 273.86,637.98 274.6,644.18 275.13,642.95 275.72,644.84 276.34,647.56 276.98,652.92 277.6,651.55 278.2,657.24 278.79,657.18 279.39,661.65 280.02,664.32 280.7,666.1 281.29,665.05 281.89,667.88 282.51,668.42 283.18,671.65 283.9,670.89 284.7,671.66 285.22,673.06 285.75,672.74 286.31,673.77 286.89,675.71 287.49,675.22 288.12,675.38 288.76,677.75 289.42,676.51 290.1,678.15 290.8,678.21 291.36,678.13 291.93,678.5 292.51,678.49 293.12,679.12 293.73,678.89 294.35,678.11 294.99,678.91 295.63,678.65 296.28,679.3 296.93,677.95 297.58,678.62 298.24,679.3 298.9,677.99 299.49,679.27 300.12,679.3 300.79,679.14 301.47,678.2 302.17,679.3 302.87,678.65 303.56,679.13 304.25,679.3 304.9,678.85 305.53,678.78 306.12,678.61 306.66,679 307.14,678.66 307.56,679.3 307.9,679.3" fill="none" stroke="#1b4f8a" stroke-width="1.25" stroke-linejoin="round" opacity="1"/>
<text x="215.5" y="627.3" font-size="8.3" text-anchor="start" fill="#111" stroke="#111" stroke-width="0.15" textLength="26.3" lengthAdjust="spacingAndGlyphs">Control</text>
<text x="274.5" y="621.5" font-size="8.3" text-anchor="start" fill="#111" stroke="#111" stroke-width="0.15" textLength="22.5" lengthAdjust="spacingAndGlyphs">ERp46</text>
<line x1="376.3" y1="602.5" x2="376.3" y2="680.7" stroke="#1a1a1a" stroke-width="1.2"/>
<line x1="375.7" y1="680.1" x2="451.25" y2="680.1" stroke="#1a1a1a" stroke-width="1.2"/>
<line x1="373.3" y1="680.1" x2="376.3" y2="680.1" stroke="#111" stroke-width="0.8"/>
<text x="369.8" y="683.15" font-size="8.2" text-anchor="end" fill="#111" stroke="#111" stroke-width="0.15" textLength="4.25" lengthAdjust="spacingAndGlyphs">0</text>
<line x1="373.3" y1="662" x2="376.3" y2="662" stroke="#111" stroke-width="0.8"/>
<text x="369.8" y="665.05" font-size="8.2" text-anchor="end" fill="#111" stroke="#111" stroke-width="0.15" textLength="8.5" lengthAdjust="spacingAndGlyphs">50</text>
<line x1="373.3" y1="643.7" x2="376.3" y2="643.7" stroke="#111" stroke-width="0.8"/>
<text x="369.8" y="646.75" font-size="8.2" text-anchor="end" fill="#111" stroke="#111" stroke-width="0.15" textLength="12.75" lengthAdjust="spacingAndGlyphs">100</text>
<line x1="373.3" y1="625" x2="376.3" y2="625" stroke="#111" stroke-width="0.8"/>
<text x="369.8" y="628.05" font-size="8.2" text-anchor="end" fill="#111" stroke="#111" stroke-width="0.15" textLength="12.75" lengthAdjust="spacingAndGlyphs">150</text>
<line x1="373.3" y1="606.3" x2="376.3" y2="606.3" stroke="#111" stroke-width="0.8"/>
<text x="369.8" y="609.35" font-size="8.2" text-anchor="end" fill="#111" stroke="#111" stroke-width="0.15" textLength="12.75" lengthAdjust="spacingAndGlyphs">200</text>
<text x="352" y="643" font-size="8.7" text-anchor="middle" fill="#111" stroke="#111" stroke-width="0.15" transform="rotate(-90 352 643)" textLength="12" lengthAdjust="spacingAndGlyphs">MFI</text>
<rect x="381.55" y="677.8" width="10.15" height="2.2" fill="#e18a99" stroke="#d97a8c" stroke-width="0.6"/>
<rect x="395.8" y="677.8" width="10.15" height="2.2" fill="#88a8c6" stroke="#7898ba" stroke-width="0.6"/>
<rect x="421.55" y="642.8" width="9.9" height="37.2" fill="#e18a99" stroke="#d97a8c" stroke-width="0.6"/>
<rect x="436.55" y="617.8" width="9.9" height="62.2" fill="#88a8c6" stroke="#7898ba" stroke-width="0.6"/>
<circle cx="383" cy="677.6" r="1.1" fill="#c40c33"/>
<circle cx="385.5" cy="677.6" r="1.1" fill="#c40c33"/>
<circle cx="388" cy="677.6" r="1.1" fill="#c40c33"/>
<circle cx="390.5" cy="677.6" r="1.1" fill="#c40c33"/>
<line x1="426.5" y1="639" x2="426.5" y2="645" stroke="#c40c33" stroke-width="0.7"/>
<line x1="425" y1="639" x2="428" y2="639" stroke="#c40c33" stroke-width="0.7"/>
<line x1="425" y1="645" x2="428" y2="645" stroke="#c40c33" stroke-width="0.7"/>
<line x1="441.5" y1="614.5" x2="441.5" y2="620" stroke="#1a4f8c" stroke-width="0.7"/>
<line x1="440" y1="614.5" x2="443" y2="614.5" stroke="#1a4f8c" stroke-width="0.7"/>
<line x1="440" y1="620" x2="443" y2="620" stroke="#1a4f8c" stroke-width="0.7"/>
<circle cx="426.5" cy="632.5" r="1.2" fill="#c40c33"/>
<circle cx="423" cy="643" r="1.2" fill="#c40c33"/>
<circle cx="426.5" cy="642" r="1.2" fill="#c40c33"/>
<circle cx="430" cy="643" r="1.2" fill="#c40c33"/>
<circle cx="426.5" cy="654.5" r="1.2" fill="#c40c33"/>
<rect x="440.4" y="608.4" width="2.2" height="2.2" fill="#1a4f8c"/>
<rect x="436.9" y="615.9" width="2.2" height="2.2" fill="#1a4f8c"/>
<rect x="440.4" y="616.4" width="2.2" height="2.2" fill="#1a4f8c"/>
<rect x="443.9" y="614.4" width="2.2" height="2.2" fill="#1a4f8c"/>
<rect x="437.4" y="619.4" width="2.2" height="2.2" fill="#1a4f8c"/>
<rect x="443.4" y="619.4" width="2.2" height="2.2" fill="#1a4f8c"/>
<line x1="402" y1="595.75" x2="444.5" y2="595.75" stroke="#222" stroke-width="1.0"/>
<polygon points="417.55,590.2 417.99,591.25 419.12,591.34 418.26,592.08 418.52,593.18 417.55,592.59 416.58,593.18 416.84,592.08 415.98,591.34 417.11,591.25" fill="#111" stroke="#111" stroke-width="0.3"/>
<polygon points="421.35,590.2 421.79,591.25 422.92,591.34 422.06,592.08 422.32,593.18 421.35,592.59 420.38,593.18 420.64,592.08 419.78,591.34 420.91,591.25" fill="#111" stroke="#111" stroke-width="0.3"/>
<polygon points="425.15,590.2 425.59,591.25 426.72,591.34 425.86,592.08 426.12,593.18 425.15,592.59 424.18,593.18 424.44,592.08 423.58,591.34 424.71,591.25" fill="#111" stroke="#111" stroke-width="0.3"/>
<polygon points="428.95,590.2 429.39,591.25 430.52,591.34 429.66,592.08 429.92,593.18 428.95,592.59 427.98,593.18 428.24,592.08 427.38,591.34 428.51,591.25" fill="#111" stroke="#111" stroke-width="0.3"/>
<line x1="423.75" y1="605.5" x2="442" y2="605.5" stroke="#222" stroke-width="1.0"/>
<polygon points="427.18,599.95 427.61,601 428.74,601.09 427.88,601.83 428.14,602.93 427.18,602.34 426.21,602.93 426.47,601.83 425.61,601.09 426.74,601" fill="#111" stroke="#111" stroke-width="0.3"/>
<polygon points="430.98,599.95 431.41,601 432.54,601.09 431.68,601.83 431.94,602.93 430.98,602.34 430.01,602.93 430.27,601.83 429.41,601.09 430.54,601" fill="#111" stroke="#111" stroke-width="0.3"/>
<polygon points="434.77,599.95 435.21,601 436.34,601.09 435.48,601.83 435.74,602.93 434.77,602.34 433.81,602.93 434.07,601.83 433.21,601.09 434.34,601" fill="#111" stroke="#111" stroke-width="0.3"/>
<polygon points="438.57,599.95 439.01,601 440.14,601.09 439.28,601.83 439.54,602.93 438.57,602.34 437.61,602.93 437.87,601.83 437.01,601.09 438.14,601" fill="#111" stroke="#111" stroke-width="0.3"/>
<line x1="385.75" y1="626.25" x2="428" y2="626.25" stroke="#222" stroke-width="1.0"/>
<polygon points="401.18,620.7 401.61,621.75 402.74,621.84 401.88,622.58 402.14,623.68 401.18,623.09 400.21,623.68 400.47,622.58 399.61,621.84 400.74,621.75" fill="#111" stroke="#111" stroke-width="0.3"/>
<polygon points="404.98,620.7 405.41,621.75 406.54,621.84 405.68,622.58 405.94,623.68 404.98,623.09 404.01,623.68 404.27,622.58 403.41,621.84 404.54,621.75" fill="#111" stroke="#111" stroke-width="0.3"/>
<polygon points="408.77,620.7 409.21,621.75 410.34,621.84 409.48,622.58 409.74,623.68 408.77,623.09 407.81,623.68 408.07,622.58 407.21,621.84 408.34,621.75" fill="#111" stroke="#111" stroke-width="0.3"/>
<polygon points="412.57,620.7 413.01,621.75 414.14,621.84 413.28,622.58 413.54,623.68 412.57,623.09 411.61,623.68 411.87,622.58 411.01,621.84 412.14,621.75" fill="#111" stroke="#111" stroke-width="0.3"/>
<line x1="393.25" y1="680" x2="393.25" y2="682.5" stroke="#111" stroke-width="0.8"/>
<line x1="433.75" y1="680" x2="433.75" y2="682.5" stroke="#111" stroke-width="0.8"/>
<text x="393.35" y="692.2" font-size="8.8" text-anchor="middle" fill="#111" stroke="#111" stroke-width="0.15" textLength="27.7" lengthAdjust="spacingAndGlyphs">Non-act</text>
<text x="435.25" y="692.2" font-size="8.8" text-anchor="middle" fill="#111" stroke="#111" stroke-width="0.15" textLength="32.9" lengthAdjust="spacingAndGlyphs">Activated</text>
<circle cx="461.5" cy="602.3" r="1.35" fill="#c40c33"/>
<rect x="460.3" y="611.6" width="2.4" height="2.4" fill="#1a4f8c"/>
<text x="465.8" y="605.2" font-size="8" text-anchor="start" fill="#111" stroke="#111" stroke-width="0.15" textLength="25" lengthAdjust="spacingAndGlyphs">Control</text>
<text x="465.8" y="615.7" font-size="8" text-anchor="start" fill="#111" stroke="#111" stroke-width="0.15" textLength="45" lengthAdjust="spacingAndGlyphs">ERp46 (2 µM)</text>
<rect x="0.5" y="0.5" width="519" height="710" fill="none" stroke="#000" stroke-width="1"/>
</svg></body></html>
